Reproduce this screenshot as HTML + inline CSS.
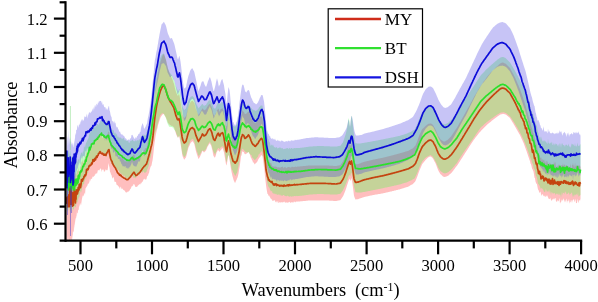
<!DOCTYPE html>
<html><head><meta charset="utf-8"><title>Absorbance spectra</title>
<style>html,body{margin:0;padding:0;background:#fff}svg{display:block}</style></head>
<body>
<svg width="598" height="302" viewBox="0 0 598 302">
<rect width="598" height="302" fill="#fff"/>
<g stroke="none">
<path d="M66.5,183.4 L66.8,178.8 L67.0,177.7 L67.2,171.2 L67.5,176.7 L67.8,176.5 L68.0,177.5 L68.2,175.9 L68.5,177.9 L68.8,176.7 L69.0,174.3 L69.2,180.9 L69.5,181.0 L69.8,183.4 L70.0,178.8 L70.2,177.6 L70.5,177.2 L70.8,174.6 L71.0,181.3 L71.2,176.0 L71.5,175.9 L71.8,178.3 L72.0,182.4 L72.2,179.5 L72.5,176.5 L72.8,177.3 L73.0,180.5 L73.2,178.4 L73.5,176.9 L73.8,177.9 L74.0,180.0 L74.2,182.6 L74.5,175.2 L74.8,176.4 L75.0,175.8 L75.2,171.8 L75.5,174.6 L75.8,173.9 L76.0,178.0 L76.2,174.8 L76.5,171.2 L76.8,175.5 L77.0,172.9 L77.2,169.6 L77.5,171.4 L77.8,171.0 L78.0,169.9 L78.2,171.2 L78.5,166.3 L78.8,169.7 L79.0,171.7 L79.2,171.0 L79.5,171.0 L79.8,170.6 L80.0,170.9 L80.5,165.1 L81.0,167.5 L81.5,161.3 L82.0,162.2 L82.5,158.9 L83.0,162.9 L83.5,162.4 L84.0,158.9 L84.5,161.0 L85.0,156.2 L85.5,156.2 L86.0,154.8 L86.5,151.7 L87.0,152.7 L87.5,153.5 L88.0,148.4 L88.5,150.2 L89.0,148.3 L89.5,150.0 L90.0,147.9 L90.5,147.5 L91.0,146.9 L91.5,145.8 L92.0,143.2 L92.5,145.9 L93.0,142.1 L93.5,143.3 L94.0,143.1 L94.5,140.9 L95.0,141.5 L95.5,142.1 L96.0,140.2 L96.5,138.7 L97.0,135.8 L97.5,136.7 L98.0,136.3 L98.5,135.6 L99.0,134.2 L99.5,134.9 L100.0,133.3 L100.5,134.2 L101.0,135.5 L101.5,134.3 L102.0,135.4 L102.5,138.3 L103.0,137.2 L103.5,135.1 L104.0,136.6 L104.5,137.6 L105.0,138.3 L105.5,136.8 L106.0,135.8 L106.5,135.2 L107.0,136.0 L107.5,134.5 L108.0,132.5 L108.5,131.6 L109.0,131.8 L109.5,135.8 L110.0,137.3 L110.5,140.4 L111.0,142.1 L111.5,143.1 L112.0,143.1 L112.5,146.4 L113.0,145.3 L113.5,147.3 L114.0,147.1 L114.5,147.1 L115.0,149.9 L115.5,150.9 L116.0,151.4 L116.5,152.7 L117.0,152.8 L117.5,153.6 L118.0,155.1 L118.5,157.6 L119.0,156.9 L119.5,156.1 L120.0,157.4 L120.5,156.9 L121.0,157.3 L121.5,158.8 L122.0,158.0 L122.5,157.3 L123.0,158.4 L123.5,159.6 L124.0,160.0 L124.5,161.4 L125.0,159.9 L125.5,161.4 L126.0,161.4 L126.5,161.2 L127.0,162.3 L127.5,162.3 L128.0,160.8 L128.5,161.9 L129.0,159.5 L129.5,160.0 L130.0,159.5 L130.5,159.3 L131.0,157.9 L131.5,157.9 L132.0,157.2 L132.5,157.4 L133.0,155.3 L133.5,155.3 L134.0,154.7 L134.5,154.8 L135.0,158.7 L135.5,157.6 L136.0,157.5 L136.5,159.5 L137.0,157.2 L137.5,157.9 L138.0,157.8 L138.5,156.3 L139.0,156.1 L139.5,155.6 L140.0,155.5 L140.5,153.8 L141.0,153.4 L141.5,153.5 L142.0,153.6 L142.5,152.6 L143.0,152.6 L143.5,151.3 L144.0,150.1 L144.5,149.9 L145.0,148.2 L145.5,148.5 L146.0,148.0 L146.5,148.0 L147.0,146.1 L147.5,143.3 L148.0,141.1 L148.5,138.4 L149.0,137.1 L149.5,135.0 L150.0,132.8 L150.5,129.8 L151.0,129.1 L151.5,126.3 L152.0,123.1 L152.5,118.8 L153.0,114.5 L153.5,109.0 L154.0,103.2 L154.5,97.7 L155.0,93.2 L155.5,89.6 L156.0,85.6 L156.5,81.4 L157.0,78.5 L157.5,75.5 L158.0,72.7 L158.5,70.6 L159.0,67.9 L159.5,66.1 L160.0,63.6 L160.5,61.4 L161.0,60.1 L161.5,58.5 L162.0,57.1 L162.5,55.5 L163.0,54.9 L163.5,54.4 L164.0,53.7 L164.5,55.6 L165.0,57.0 L165.5,58.8 L166.0,59.8 L166.5,62.3 L167.0,64.6 L167.5,66.6 L168.0,69.0 L168.5,70.2 L169.0,71.4 L169.5,72.8 L170.0,74.4 L170.5,75.3 L171.0,76.4 L171.5,77.4 L172.0,78.5 L172.5,79.6 L173.0,81.0 L173.5,82.7 L174.0,83.8 L174.5,86.0 L175.0,88.3 L175.5,90.2 L176.0,91.8 L176.5,93.2 L177.0,94.3 L177.5,95.4 L178.0,95.7 L178.5,94.6 L179.0,94.1 L179.5,95.6 L180.0,98.3 L180.5,101.2 L181.0,104.6 L181.5,108.1 L182.0,112.0 L182.5,114.3 L183.0,115.4 L183.5,116.7 L184.0,117.7 L184.5,117.9 L185.0,117.2 L185.5,116.7 L186.0,115.7 L186.5,114.0 L187.0,111.9 L187.5,109.7 L188.0,108.0 L188.5,106.3 L189.0,105.5 L189.5,104.3 L190.0,103.2 L190.5,102.1 L191.0,101.7 L191.5,101.0 L192.0,100.8 L192.5,100.7 L193.0,101.3 L193.5,101.8 L194.0,102.4 L194.5,103.3 L195.0,105.5 L195.5,107.4 L196.0,109.0 L196.5,110.3 L197.0,111.6 L197.5,112.9 L198.0,114.1 L198.5,115.0 L199.0,114.3 L199.5,113.4 L200.0,112.6 L200.5,111.8 L201.0,111.1 L201.5,110.0 L202.0,109.3 L202.5,108.3 L203.0,108.7 L203.5,109.4 L204.0,110.2 L204.5,110.2 L205.0,109.7 L205.5,109.4 L206.0,109.2 L206.5,108.3 L207.0,107.2 L207.5,106.6 L208.0,105.4 L208.5,104.9 L209.0,104.2 L209.5,103.9 L210.0,103.7 L210.5,104.2 L211.0,105.9 L211.5,106.4 L212.0,108.4 L212.5,110.0 L213.0,113.0 L213.5,114.5 L214.0,115.3 L214.5,115.6 L215.0,115.2 L215.5,113.7 L216.0,112.8 L216.5,111.7 L217.0,110.1 L217.5,109.7 L218.0,109.0 L218.5,108.5 L219.0,110.3 L219.5,112.0 L220.0,110.4 L220.5,109.2 L221.0,109.3 L221.5,108.7 L222.0,108.5 L222.5,107.9 L223.0,109.7 L223.5,110.2 L224.0,113.7 L224.5,117.1 L225.0,120.1 L225.5,122.1 L226.0,125.8 L226.5,126.5 L227.0,125.0 L227.5,122.2 L228.0,118.8 L228.5,117.3 L229.0,119.3 L229.5,121.7 L230.0,124.0 L230.5,126.9 L231.0,129.0 L231.5,131.2 L232.0,133.1 L232.5,135.1 L233.0,136.7 L233.5,138.0 L234.0,137.6 L234.5,138.4 L235.0,139.1 L235.5,138.5 L236.0,138.1 L236.5,137.1 L237.0,137.1 L237.5,134.7 L238.0,133.1 L238.5,130.5 L239.0,128.9 L239.5,124.9 L240.0,122.4 L240.5,118.9 L241.0,116.0 L241.5,114.3 L242.0,111.7 L242.5,110.3 L243.0,110.9 L243.5,111.9 L244.0,111.8 L244.5,113.6 L245.0,114.1 L245.5,114.0 L246.0,113.8 L246.5,113.6 L247.0,112.8 L247.5,112.3 L248.0,111.9 L248.5,111.6 L249.0,111.5 L249.5,113.0 L250.0,114.2 L250.5,116.2 L251.0,118.1 L251.5,118.6 L252.0,119.2 L252.5,119.7 L253.0,121.0 L253.5,121.8 L254.0,122.5 L254.5,122.3 L255.0,123.2 L255.5,123.1 L256.0,123.0 L256.5,122.0 L257.0,121.2 L257.5,120.4 L258.0,119.7 L258.5,118.7 L259.0,118.4 L259.5,117.9 L260.0,117.1 L260.5,116.9 L261.0,116.0 L261.5,116.6 L262.0,117.1 L262.5,118.0 L263.0,122.1 L263.5,125.2 L264.0,128.4 L264.5,134.3 L265.0,139.1 L265.5,143.2 L266.0,148.4 L266.5,152.8 L267.0,156.5 L267.5,157.2 L268.0,159.4 L268.5,160.6 L269.0,160.1 L269.5,162.0 L270.0,162.8 L270.5,163.5 L271.0,162.7 L271.5,164.0 L272.0,165.4 L272.5,166.0 L273.0,166.8 L273.5,165.8 L274.0,167.3 L274.5,166.7 L275.0,165.5 L275.5,167.0 L276.0,166.4 L276.5,167.1 L277.0,166.8 L277.5,167.7 L278.0,167.2 L278.5,167.0 L279.0,167.9 L279.5,167.5 L280.0,167.1 L280.5,168.1 L281.0,167.1 L281.5,167.0 L282.0,167.1 L282.5,166.6 L283.0,167.1 L283.5,168.4 L284.0,166.9 L284.5,167.4 L285.0,166.8 L285.5,167.1 L286.0,168.2 L286.5,167.9 L287.0,167.2 L287.5,167.5 L288.0,167.1 L288.5,167.1 L289.0,167.0 L289.5,166.9 L290.0,167.5 L290.5,167.5 L291.0,167.4 L291.5,167.1 L292.0,166.6 L292.5,167.1 L293.0,166.7 L293.5,167.3 L294.0,167.1 L294.5,167.1 L295.0,166.8 L295.5,166.4 L296.0,166.9 L296.5,166.9 L297.0,166.5 L297.5,166.6 L298.0,166.7 L298.5,166.5 L299.0,166.6 L299.5,166.4 L300.0,166.4 L300.5,166.3 L301.0,166.3 L301.5,166.3 L302.0,166.2 L302.5,166.2 L303.0,166.1 L303.5,166.1 L304.0,166.0 L304.5,166.0 L305.0,165.9 L305.5,165.9 L306.0,165.8 L306.5,165.8 L307.0,165.7 L307.5,165.7 L308.0,165.6 L308.5,165.6 L309.0,165.5 L309.5,165.5 L310.0,165.4 L310.5,165.4 L311.0,165.4 L311.5,165.4 L312.0,165.4 L312.5,165.4 L313.0,165.4 L313.5,165.4 L314.0,165.4 L314.5,165.4 L315.0,165.4 L315.5,165.4 L316.0,165.4 L316.5,165.4 L317.0,165.4 L317.5,165.4 L318.0,165.4 L318.5,165.4 L319.0,165.4 L319.5,165.4 L320.0,165.4 L320.5,165.4 L321.0,165.4 L321.5,165.4 L322.0,165.4 L322.5,165.4 L323.0,165.4 L323.5,165.4 L324.0,165.4 L324.5,165.4 L325.0,165.4 L325.5,165.4 L326.0,165.5 L326.5,165.5 L327.0,165.5 L327.5,165.5 L328.0,165.6 L328.5,165.6 L329.0,165.6 L329.5,165.7 L330.0,165.7 L330.5,165.7 L331.0,165.7 L331.5,165.8 L332.0,165.8 L332.5,165.8 L333.0,165.8 L333.5,165.9 L334.0,165.9 L334.5,165.9 L335.0,166.0 L335.5,166.0 L336.0,166.0 L336.5,165.9 L337.0,165.8 L337.5,165.7 L338.0,165.6 L338.5,165.5 L339.0,165.4 L339.5,165.3 L340.0,165.2 L340.5,165.1 L341.0,164.3 L341.5,163.5 L342.0,162.7 L342.5,162.0 L343.0,161.2 L343.5,160.2 L344.0,159.0 L344.5,157.7 L345.0,156.4 L345.5,155.2 L346.0,153.7 L346.5,152.1 L347.0,150.6 L347.5,149.1 L348.0,147.6 L348.5,146.0 L349.0,144.7 L349.5,143.5 L350.0,144.9 L350.5,146.1 L351.0,144.0 L351.5,143.0 L352.0,145.9 L352.5,148.8 L353.0,152.8 L353.5,156.7 L354.0,160.7 L354.5,162.1 L355.0,163.5 L355.5,164.4 L356.0,164.3 L356.5,164.3 L357.0,164.2 L357.5,164.2 L358.0,164.1 L358.5,163.9 L359.0,163.7 L359.5,163.5 L360.0,163.4 L360.5,163.2 L361.0,163.0 L361.5,162.8 L362.0,162.6 L362.5,162.4 L363.0,162.2 L363.5,162.1 L364.0,161.9 L364.5,161.7 L365.0,161.6 L365.5,161.5 L366.0,161.4 L366.5,161.2 L367.0,161.1 L367.5,161.0 L368.0,160.9 L368.5,160.8 L369.0,160.7 L369.5,160.5 L370.0,160.4 L370.5,160.3 L371.0,160.2 L371.5,160.1 L372.0,159.9 L372.5,159.8 L373.0,159.7 L373.5,159.6 L374.0,159.5 L374.5,159.4 L375.0,159.3 L375.5,159.2 L376.0,159.1 L376.5,159.0 L377.0,158.9 L377.5,158.8 L378.0,158.7 L378.5,158.6 L379.0,158.5 L379.5,158.4 L380.0,158.3 L380.5,158.2 L381.0,158.1 L381.5,158.0 L382.0,157.9 L382.5,157.8 L383.0,157.7 L383.5,157.6 L384.0,157.5 L384.5,157.3 L385.0,157.2 L385.5,157.1 L386.0,157.0 L386.5,156.8 L387.0,156.7 L387.5,156.6 L388.0,156.5 L388.5,156.3 L389.0,156.2 L389.5,156.1 L390.0,156.0 L390.5,155.8 L391.0,155.7 L391.5,155.6 L392.0,155.4 L392.5,155.3 L393.0,155.2 L393.5,155.0 L394.0,154.9 L394.5,154.8 L395.0,154.6 L395.5,154.5 L396.0,154.4 L396.5,154.2 L397.0,154.1 L397.5,154.0 L398.0,153.8 L398.5,153.7 L399.0,153.5 L399.5,153.4 L400.0,153.3 L400.5,153.1 L401.0,153.0 L401.5,152.8 L402.0,152.7 L402.5,152.5 L403.0,152.4 L403.5,152.2 L404.0,152.1 L404.5,151.9 L405.0,151.8 L405.5,151.6 L406.0,151.5 L406.5,151.3 L407.0,151.2 L407.5,151.0 L408.0,150.9 L408.5,150.7 L409.0,150.4 L409.5,150.1 L410.0,149.9 L410.5,149.6 L411.0,149.3 L411.5,149.1 L412.0,148.8 L412.5,148.5 L413.0,148.2 L413.5,147.7 L414.0,147.1 L414.5,146.6 L415.0,146.0 L415.5,145.5 L416.0,144.2 L416.5,143.0 L417.0,141.8 L417.5,140.5 L418.0,139.1 L418.5,137.6 L419.0,136.2 L419.5,134.8 L420.0,133.7 L420.5,132.7 L421.0,131.7 L421.5,130.6 L422.0,129.6 L422.5,128.8 L423.0,128.4 L423.5,127.9 L424.0,127.4 L424.5,126.9 L425.0,126.4 L425.5,125.9 L426.0,125.5 L426.5,125.2 L427.0,124.8 L427.5,124.5 L428.0,124.1 L428.5,123.8 L429.0,123.8 L429.5,123.7 L430.0,123.6 L430.5,123.4 L431.0,123.5 L431.5,123.8 L432.0,124.2 L432.5,124.6 L433.0,124.9 L433.5,125.8 L434.0,126.7 L434.5,127.6 L435.0,128.5 L435.5,129.4 L436.0,130.5 L436.5,131.7 L437.0,132.9 L437.5,134.2 L438.0,135.4 L438.5,136.4 L439.0,137.1 L439.5,137.9 L440.0,138.6 L440.5,139.4 L441.0,139.7 L441.5,140.1 L442.0,140.4 L442.5,140.8 L443.0,141.1 L443.5,141.4 L444.0,141.4 L444.5,141.4 L445.0,141.4 L445.5,141.1 L446.0,140.8 L446.5,140.5 L447.0,140.2 L447.5,139.9 L448.0,139.6 L448.5,139.1 L449.0,138.5 L449.5,138.0 L450.0,137.5 L450.5,136.9 L451.0,136.4 L451.5,135.8 L452.0,135.1 L452.5,134.3 L453.0,133.6 L453.5,132.8 L454.0,132.0 L454.5,131.3 L455.0,130.5 L455.5,129.8 L456.0,129.0 L456.5,128.2 L457.0,127.5 L457.5,126.7 L458.0,125.8 L458.5,124.9 L459.0,124.0 L459.5,123.1 L460.0,122.2 L460.5,121.4 L461.0,120.5 L461.5,119.6 L462.0,118.7 L462.5,117.8 L463.0,116.9 L463.5,116.0 L464.0,115.2 L464.5,114.3 L465.0,113.4 L465.5,112.5 L466.0,111.6 L466.5,110.7 L467.0,109.8 L467.5,109.0 L468.0,108.1 L468.5,107.2 L469.0,106.3 L469.5,105.4 L470.0,104.5 L470.5,103.6 L471.0,102.6 L471.5,101.7 L472.0,100.7 L472.5,99.8 L473.0,98.9 L473.5,97.9 L474.0,97.0 L474.5,96.1 L475.0,95.3 L475.5,94.4 L476.0,93.6 L476.5,92.7 L477.0,91.9 L477.5,91.0 L478.0,90.2 L478.5,89.3 L479.0,88.5 L479.5,87.6 L480.0,86.9 L480.5,86.2 L481.0,85.4 L481.5,84.7 L482.0,84.0 L482.5,83.3 L483.0,82.5 L483.5,81.8 L484.0,81.1 L484.5,80.4 L485.0,79.7 L485.5,79.0 L486.0,78.3 L486.5,77.6 L487.0,76.9 L487.5,76.3 L488.0,75.7 L488.5,75.1 L489.0,74.5 L489.5,73.9 L490.0,73.3 L490.5,72.8 L491.0,72.3 L491.5,71.7 L492.0,71.2 L492.5,70.7 L493.0,70.2 L493.5,69.7 L494.0,69.2 L494.5,68.8 L495.0,68.3 L495.5,67.8 L496.0,67.3 L496.5,66.8 L497.0,66.3 L497.5,65.9 L498.0,65.4 L498.5,65.0 L499.0,64.6 L499.5,64.1 L500.0,63.7 L500.5,63.2 L501.0,63.0 L501.5,62.8 L502.0,62.7 L502.5,62.6 L503.0,62.5 L503.5,62.8 L504.0,63.0 L504.5,63.2 L505.0,63.4 L505.5,63.6 L506.0,64.0 L506.5,64.5 L507.0,65.0 L507.5,65.5 L508.0,66.0 L508.5,66.5 L509.0,67.0 L509.5,67.5 L510.0,68.1 L510.5,69.0 L511.0,69.9 L511.5,70.9 L512.0,71.8 L512.5,72.7 L513.0,73.6 L513.5,74.5 L514.0,75.5 L514.5,76.4 L515.0,77.4 L515.5,78.6 L516.0,79.8 L516.5,81.0 L517.0,82.1 L517.5,83.3 L518.0,84.5 L518.5,85.6 L519.0,86.8 L519.5,87.9 L520.0,89.1 L520.5,90.5 L521.0,91.9 L521.5,93.3 L522.0,94.7 L522.5,96.1 L523.0,97.5 L523.5,98.9 L524.0,100.5 L524.5,102.2 L525.0,103.9 L525.5,105.6 L526.0,107.3 L526.5,109.0 L527.0,110.7 L527.5,112.4 L528.0,114.2 L528.5,116.0 L529.0,117.6 L529.5,119.5 L530.0,121.5 L530.5,122.8 L531.0,125.4 L531.5,127.1 L532.0,128.2 L532.5,130.7 L533.0,133.0 L533.5,133.0 L534.0,136.1 L534.5,137.4 L535.0,139.2 L535.5,142.4 L536.0,143.6 L536.5,144.8 L537.0,146.4 L537.5,149.5 L538.0,152.0 L538.5,152.9 L539.0,153.9 L539.5,155.0 L540.0,157.9 L540.5,157.8 L541.0,156.9 L541.5,158.5 L542.0,161.2 L542.5,159.0 L543.0,159.6 L543.5,160.5 L544.0,159.4 L544.5,162.6 L545.0,158.6 L545.5,164.1 L546.0,161.5 L546.5,160.5 L547.0,162.9 L547.5,160.3 L548.0,163.7 L548.5,164.2 L549.0,162.5 L549.5,162.9 L550.0,165.0 L550.5,162.9 L551.0,164.1 L551.5,164.7 L552.0,166.5 L552.5,163.7 L553.0,164.6 L553.5,166.3 L554.0,161.1 L554.5,164.6 L555.0,162.3 L555.5,162.5 L556.0,168.1 L556.5,165.8 L557.0,167.7 L557.5,165.2 L558.0,166.3 L558.5,164.8 L559.0,164.6 L559.5,165.3 L560.0,165.5 L560.5,167.5 L561.0,164.9 L561.5,165.7 L562.0,164.8 L562.5,165.3 L563.0,163.2 L563.5,166.6 L564.0,164.2 L564.5,165.0 L565.0,164.6 L565.5,166.4 L566.0,165.8 L566.5,165.1 L567.0,165.4 L567.5,165.7 L568.0,166.3 L568.5,166.0 L569.0,167.2 L569.5,167.7 L570.0,166.3 L570.5,163.6 L571.0,168.0 L571.5,168.7 L572.0,165.1 L572.5,165.0 L573.0,162.7 L573.5,166.8 L574.0,164.3 L574.5,168.4 L575.0,162.2 L575.5,165.9 L576.0,166.8 L576.5,165.3 L577.0,164.8 L577.5,166.3 L578.0,165.2 L578.5,165.5 L579.0,166.0 L579.5,165.3 L580.0,165.8 L580.5,167.2 L580.5,198.5 L580.0,201.0 L579.5,200.2 L579.0,199.8 L578.5,203.2 L578.0,201.4 L577.5,198.6 L577.0,202.9 L576.5,203.0 L576.0,203.3 L575.5,198.5 L575.0,201.0 L574.5,202.2 L574.0,199.1 L573.5,199.4 L573.0,199.9 L572.5,200.4 L572.0,202.9 L571.5,200.8 L571.0,199.7 L570.5,202.5 L570.0,201.7 L569.5,203.8 L569.0,198.7 L568.5,200.6 L568.0,201.6 L567.5,200.6 L567.0,203.3 L566.5,198.5 L566.0,199.7 L565.5,201.1 L565.0,202.4 L564.5,201.0 L564.0,199.5 L563.5,198.3 L563.0,200.7 L562.5,200.5 L562.0,199.2 L561.5,200.5 L561.0,202.3 L560.5,202.3 L560.0,203.8 L559.5,197.7 L559.0,200.1 L558.5,201.5 L558.0,200.8 L557.5,200.1 L557.0,202.0 L556.5,201.5 L556.0,201.3 L555.5,197.9 L555.0,198.0 L554.5,199.7 L554.0,198.1 L553.5,199.2 L553.0,199.6 L552.5,198.9 L552.0,200.5 L551.5,200.6 L551.0,200.4 L550.5,197.4 L550.0,199.2 L549.5,198.7 L549.0,199.1 L548.5,198.5 L548.0,197.2 L547.5,196.3 L547.0,195.1 L546.5,196.2 L546.0,196.5 L545.5,197.2 L545.0,195.1 L544.5,196.6 L544.0,196.3 L543.5,195.9 L543.0,194.6 L542.5,194.3 L542.0,194.4 L541.5,196.1 L541.0,194.0 L540.5,191.6 L540.0,192.3 L539.5,192.9 L539.0,191.5 L538.5,189.9 L538.0,189.4 L537.5,187.0 L537.0,184.2 L536.5,183.7 L536.0,183.0 L535.5,181.5 L535.0,177.9 L534.5,177.7 L534.0,174.2 L533.5,171.5 L533.0,170.5 L532.5,169.3 L532.0,168.4 L531.5,166.1 L531.0,164.3 L530.5,163.5 L530.0,161.0 L529.5,159.9 L529.0,158.3 L528.5,157.0 L528.0,155.4 L527.5,153.9 L527.0,152.5 L526.5,151.1 L526.0,149.7 L525.5,148.3 L525.0,146.9 L524.5,145.5 L524.0,144.1 L523.5,142.8 L523.0,141.7 L522.5,140.6 L522.0,139.5 L521.5,138.4 L521.0,137.3 L520.5,136.2 L520.0,135.1 L519.5,134.2 L519.0,133.4 L518.5,132.5 L518.0,131.7 L517.5,130.8 L517.0,129.9 L516.5,129.1 L516.0,128.2 L515.5,127.3 L515.0,126.4 L514.5,125.5 L514.0,124.7 L513.5,123.8 L513.0,123.0 L512.5,122.2 L512.0,121.4 L511.5,120.5 L511.0,119.7 L510.5,118.9 L510.0,118.0 L509.5,117.6 L509.0,117.2 L508.5,116.8 L508.0,116.3 L507.5,115.9 L507.0,115.5 L506.5,115.1 L506.0,114.7 L505.5,114.5 L505.0,114.3 L504.5,114.2 L504.0,114.1 L503.5,114.0 L503.0,113.8 L502.5,114.0 L502.0,114.2 L501.5,114.2 L501.0,114.3 L500.5,114.4 L500.0,114.8 L499.5,115.1 L499.0,115.4 L498.5,115.8 L498.0,116.1 L497.5,116.4 L497.0,116.8 L496.5,117.2 L496.0,117.6 L495.5,117.9 L495.0,118.3 L494.5,118.7 L494.0,119.1 L493.5,119.5 L493.0,119.8 L492.5,120.2 L492.0,120.6 L491.5,121.0 L491.0,121.5 L490.5,121.9 L490.0,122.3 L489.5,122.7 L489.0,123.1 L488.5,123.5 L488.0,123.9 L487.5,124.3 L487.0,124.7 L486.5,125.2 L486.0,125.7 L485.5,126.2 L485.0,126.7 L484.5,127.2 L484.0,127.7 L483.5,128.2 L483.0,128.7 L482.5,129.3 L482.0,129.8 L481.5,130.3 L481.0,130.8 L480.5,131.4 L480.0,131.9 L479.5,132.4 L479.0,133.1 L478.5,133.7 L478.0,134.4 L477.5,135.0 L477.0,135.7 L476.5,136.3 L476.0,137.0 L475.5,137.6 L475.0,138.3 L474.5,138.9 L474.0,139.6 L473.5,140.3 L473.0,141.1 L472.5,141.8 L472.0,142.5 L471.5,143.3 L471.0,144.0 L470.5,144.8 L470.0,145.5 L469.5,146.3 L469.0,147.1 L468.5,147.9 L468.0,148.6 L467.5,149.4 L467.0,150.2 L466.5,151.0 L466.0,151.8 L465.5,152.5 L465.0,153.3 L464.5,154.1 L464.0,154.9 L463.5,155.6 L463.0,156.4 L462.5,157.2 L462.0,158.0 L461.5,158.7 L461.0,159.5 L460.5,160.3 L460.0,161.1 L459.5,161.9 L459.0,162.6 L458.5,163.4 L458.0,164.2 L457.5,165.0 L457.0,165.7 L456.5,166.3 L456.0,167.0 L455.5,167.6 L455.0,168.3 L454.5,168.9 L454.0,169.6 L453.5,170.2 L453.0,170.9 L452.5,171.5 L452.0,172.2 L451.5,172.8 L451.0,173.3 L450.5,173.7 L450.0,174.1 L449.5,174.6 L449.0,175.0 L448.5,175.4 L448.0,175.8 L447.5,176.0 L447.0,176.2 L446.5,176.4 L446.0,176.6 L445.5,176.8 L445.0,177.0 L444.5,176.9 L444.0,176.8 L443.5,176.7 L443.0,176.4 L442.5,176.0 L442.0,175.5 L441.5,175.1 L441.0,174.6 L440.5,174.2 L440.0,173.4 L439.5,172.5 L439.0,171.7 L438.5,170.8 L438.0,169.8 L437.5,168.5 L437.0,167.2 L436.5,165.8 L436.0,164.5 L435.5,163.3 L435.0,162.3 L434.5,161.4 L434.0,160.4 L433.5,159.4 L433.0,158.5 L432.5,158.0 L432.0,157.6 L431.5,157.1 L431.0,156.7 L430.5,156.5 L430.0,156.6 L429.5,156.8 L429.0,157.0 L428.5,157.2 L428.0,157.6 L427.5,158.1 L427.0,158.6 L426.5,159.1 L426.0,159.5 L425.5,160.0 L425.0,160.7 L424.5,161.3 L424.0,161.9 L423.5,162.5 L423.0,163.1 L422.5,163.7 L422.0,164.6 L421.5,165.8 L421.0,166.9 L420.5,168.1 L420.0,169.2 L419.5,170.3 L419.0,171.7 L418.5,173.1 L418.0,174.6 L417.5,176.1 L417.0,177.3 L416.5,178.6 L416.0,179.8 L415.5,181.1 L415.0,181.7 L414.5,182.2 L414.0,182.8 L413.5,183.3 L413.0,183.9 L412.5,184.2 L412.0,184.5 L411.5,184.8 L411.0,185.1 L410.5,185.3 L410.0,185.6 L409.5,185.9 L409.0,186.2 L408.5,186.5 L408.0,186.7 L407.5,186.9 L407.0,187.0 L406.5,187.2 L406.0,187.3 L405.5,187.5 L405.0,187.7 L404.5,187.8 L404.0,188.0 L403.5,188.2 L403.0,188.3 L402.5,188.5 L402.0,188.6 L401.5,188.8 L401.0,189.0 L400.5,189.1 L400.0,189.3 L399.5,189.4 L399.0,189.5 L398.5,189.6 L398.0,189.8 L397.5,189.9 L397.0,190.0 L396.5,190.1 L396.0,190.3 L395.5,190.4 L395.0,190.5 L394.5,190.6 L394.0,190.8 L393.5,190.9 L393.0,191.0 L392.5,191.1 L392.0,191.3 L391.5,191.4 L391.0,191.5 L390.5,191.6 L390.0,191.7 L389.5,191.8 L389.0,192.0 L388.5,192.1 L388.0,192.2 L387.5,192.3 L387.0,192.4 L386.5,192.5 L386.0,192.6 L385.5,192.7 L385.0,192.9 L384.5,193.0 L384.0,193.1 L383.5,193.2 L383.0,193.3 L382.5,193.4 L382.0,193.5 L381.5,193.6 L381.0,193.7 L380.5,193.8 L380.0,193.9 L379.5,193.9 L379.0,194.0 L378.5,194.1 L378.0,194.2 L377.5,194.3 L377.0,194.4 L376.5,194.5 L376.0,194.6 L375.5,194.6 L375.0,194.7 L374.5,194.8 L374.0,194.9 L373.5,195.0 L373.0,195.1 L372.5,195.2 L372.0,195.3 L371.5,195.4 L371.0,195.5 L370.5,195.6 L370.0,195.7 L369.5,195.8 L369.0,196.0 L368.5,196.1 L368.0,196.2 L367.5,196.3 L367.0,196.4 L366.5,196.5 L366.0,196.6 L365.5,196.7 L365.0,196.8 L364.5,196.9 L364.0,197.1 L363.5,197.2 L363.0,197.4 L362.5,197.6 L362.0,197.8 L361.5,197.9 L361.0,198.1 L360.5,198.3 L360.0,198.5 L359.5,198.6 L359.0,198.8 L358.5,199.0 L358.0,199.2 L357.5,199.2 L357.0,199.3 L356.5,199.3 L356.0,199.4 L355.5,199.4 L355.0,198.6 L354.5,197.2 L354.0,195.8 L353.5,191.8 L353.0,187.8 L352.5,183.9 L352.0,180.9 L351.5,178.0 L351.0,179.1 L350.5,181.1 L350.0,179.9 L349.5,178.6 L349.0,179.7 L348.5,181.0 L348.0,182.6 L347.5,184.1 L347.0,185.6 L346.5,187.2 L346.0,188.7 L345.5,190.2 L345.0,191.4 L344.5,192.7 L344.0,194.0 L343.5,195.2 L343.0,196.2 L342.5,197.0 L342.0,197.7 L341.5,198.5 L341.0,199.3 L340.5,200.1 L340.0,200.2 L339.5,200.3 L339.0,200.4 L338.5,200.5 L338.0,200.6 L337.5,200.7 L337.0,200.8 L336.5,200.9 L336.0,201.0 L335.5,201.0 L335.0,201.0 L334.5,200.9 L334.0,200.9 L333.5,200.9 L333.0,200.8 L332.5,200.8 L332.0,200.8 L331.5,200.8 L331.0,200.7 L330.5,200.7 L330.0,200.7 L329.5,200.7 L329.0,200.6 L328.5,200.6 L328.0,200.6 L327.5,200.5 L327.0,200.5 L326.5,200.5 L326.0,200.5 L325.5,200.4 L325.0,200.4 L324.5,200.4 L324.0,200.4 L323.5,200.4 L323.0,200.4 L322.5,200.4 L322.0,200.4 L321.5,200.4 L321.0,200.4 L320.5,200.4 L320.0,200.4 L319.5,200.4 L319.0,200.4 L318.5,200.4 L318.0,200.4 L317.5,200.4 L317.0,200.4 L316.5,200.4 L316.0,200.4 L315.5,200.4 L315.0,200.4 L314.5,200.4 L314.0,200.4 L313.5,200.4 L313.0,200.4 L312.5,200.4 L312.0,200.4 L311.5,200.4 L311.0,200.4 L310.5,200.4 L310.0,200.4 L309.5,200.5 L309.0,200.5 L308.5,200.6 L308.0,200.6 L307.5,200.7 L307.0,200.7 L306.5,200.8 L306.0,200.8 L305.5,200.9 L305.0,200.9 L304.5,201.0 L304.0,201.0 L303.5,201.1 L303.0,201.1 L302.5,201.2 L302.0,201.2 L301.5,201.3 L301.0,201.3 L300.5,201.3 L300.0,201.4 L299.5,201.5 L299.0,201.5 L298.5,201.4 L298.0,201.6 L297.5,201.5 L297.0,201.7 L296.5,201.5 L296.0,201.6 L295.5,202.2 L295.0,202.2 L294.5,201.8 L294.0,201.3 L293.5,202.4 L293.0,202.5 L292.5,202.2 L292.0,202.4 L291.5,201.9 L291.0,202.7 L290.5,203.0 L290.0,201.9 L289.5,201.8 L289.0,202.6 L288.5,202.5 L288.0,202.0 L287.5,202.9 L287.0,202.6 L286.5,202.3 L286.0,202.7 L285.5,202.6 L285.0,202.6 L284.5,201.2 L284.0,202.8 L283.5,201.8 L283.0,202.1 L282.5,202.5 L282.0,202.6 L281.5,202.3 L281.0,202.1 L280.5,203.0 L280.0,201.8 L279.5,202.3 L279.0,203.1 L278.5,202.9 L278.0,200.7 L277.5,201.8 L277.0,203.0 L276.5,201.0 L276.0,202.1 L275.5,202.3 L275.0,200.4 L274.5,200.5 L274.0,200.1 L273.5,200.7 L273.0,201.1 L272.5,201.0 L272.0,199.2 L271.5,199.6 L271.0,198.5 L270.5,198.4 L270.0,197.1 L269.5,196.6 L269.0,194.9 L268.5,196.2 L268.0,194.1 L267.5,193.9 L267.0,191.5 L266.5,188.6 L266.0,185.0 L265.5,180.7 L265.0,176.7 L264.5,170.0 L264.0,167.4 L263.5,163.0 L263.0,159.4 L262.5,156.2 L262.0,155.9 L261.5,155.3 L261.0,154.8 L260.5,157.0 L260.0,156.2 L259.5,157.8 L259.0,158.2 L258.5,158.9 L258.0,160.1 L257.5,161.3 L257.0,162.1 L256.5,162.7 L256.0,162.7 L255.5,163.4 L255.0,164.2 L254.5,164.2 L254.0,163.1 L253.5,162.3 L253.0,162.7 L252.5,160.4 L252.0,160.2 L251.5,158.6 L251.0,158.1 L250.5,156.5 L250.0,154.7 L249.5,153.5 L249.0,152.7 L248.5,152.0 L248.0,151.9 L247.5,152.8 L247.0,153.3 L246.5,153.5 L246.0,154.2 L245.5,153.9 L245.0,154.3 L244.5,153.8 L244.0,152.4 L243.5,151.8 L243.0,152.0 L242.5,151.0 L242.0,152.6 L241.5,155.2 L241.0,156.3 L240.5,160.3 L240.0,164.3 L239.5,167.5 L239.0,170.0 L238.5,173.5 L238.0,175.8 L237.5,177.5 L237.0,178.6 L236.5,180.0 L236.0,180.8 L235.5,182.3 L235.0,182.9 L234.5,182.1 L234.0,181.0 L233.5,179.7 L233.0,177.8 L232.5,176.2 L232.0,174.0 L231.5,171.7 L231.0,169.0 L230.5,166.0 L230.0,162.5 L229.5,159.4 L229.0,156.7 L228.5,154.4 L228.0,156.8 L227.5,160.3 L227.0,162.9 L226.5,165.5 L226.0,164.2 L225.5,161.3 L225.0,158.2 L224.5,155.4 L224.0,152.6 L223.5,150.7 L223.0,149.4 L222.5,148.0 L222.0,148.2 L221.5,149.5 L221.0,149.8 L220.5,150.3 L220.0,151.2 L219.5,151.8 L219.0,151.3 L218.5,150.2 L218.0,150.4 L217.5,150.6 L217.0,152.1 L216.5,152.6 L216.0,154.8 L215.5,156.3 L215.0,157.4 L214.5,157.4 L214.0,156.4 L213.5,155.9 L213.0,153.7 L212.5,150.8 L212.0,149.0 L211.5,146.8 L211.0,145.0 L210.5,144.7 L210.0,143.1 L209.5,143.7 L209.0,144.3 L208.5,145.2 L208.0,145.8 L207.5,146.8 L207.0,148.1 L206.5,149.2 L206.0,150.5 L205.5,151.1 L205.0,151.6 L204.5,151.9 L204.0,152.5 L203.5,151.9 L203.0,151.3 L202.5,150.8 L202.0,152.1 L201.5,153.3 L201.0,154.4 L200.5,155.4 L200.0,156.7 L199.5,157.6 L199.0,158.4 L198.5,159.0 L198.0,157.6 L197.5,156.0 L197.0,154.7 L196.5,152.9 L196.0,151.6 L195.5,149.3 L195.0,146.9 L194.5,144.7 L194.0,143.3 L193.5,142.6 L193.0,141.5 L192.5,141.2 L192.0,141.5 L191.5,142.1 L191.0,142.6 L190.5,143.0 L190.0,144.3 L189.5,145.4 L189.0,146.5 L188.5,147.5 L188.0,149.2 L187.5,151.3 L187.0,153.2 L186.5,155.3 L186.0,157.3 L185.5,158.1 L185.0,158.6 L184.5,159.5 L184.0,159.4 L183.5,158.2 L183.0,157.1 L182.5,156.0 L182.0,153.3 L181.5,149.8 L181.0,146.6 L180.5,143.1 L180.0,140.4 L179.5,137.4 L179.0,136.0 L178.5,136.9 L178.0,137.4 L177.5,137.3 L177.0,136.1 L176.5,135.2 L176.0,133.7 L175.5,132.1 L175.0,130.2 L174.5,128.7 L174.0,127.3 L173.5,126.8 L173.0,126.8 L172.5,126.1 L172.0,125.8 L171.5,125.9 L171.0,125.6 L170.5,125.1 L170.0,125.4 L169.5,124.5 L169.0,124.0 L168.5,123.4 L168.0,123.0 L167.5,121.4 L167.0,120.1 L166.5,119.0 L166.0,117.7 L165.5,116.8 L165.0,115.9 L164.5,115.0 L164.0,114.2 L163.5,114.1 L163.0,114.3 L162.5,114.4 L162.0,114.9 L161.5,116.0 L161.0,116.6 L160.5,117.6 L160.0,119.1 L159.5,120.6 L159.0,122.1 L158.5,123.8 L158.0,125.1 L157.5,127.9 L157.0,129.3 L156.5,131.6 L156.0,134.1 L155.5,136.2 L155.0,140.2 L154.5,142.9 L154.0,147.4 L153.5,152.5 L153.0,157.0 L152.5,160.5 L152.0,162.6 L151.5,165.5 L151.0,166.1 L150.5,166.9 L150.0,168.8 L149.5,170.2 L149.0,173.2 L148.5,173.6 L148.0,175.7 L147.5,175.8 L147.0,176.4 L146.5,179.1 L146.0,179.8 L145.5,179.4 L145.0,179.2 L144.5,178.6 L144.0,179.9 L143.5,179.1 L143.0,181.0 L142.5,181.9 L142.0,181.5 L141.5,183.7 L141.0,182.6 L140.5,184.1 L140.0,184.4 L139.5,183.9 L139.0,184.6 L138.5,185.2 L138.0,185.3 L137.5,186.6 L137.0,186.6 L136.5,187.1 L136.0,187.1 L135.5,187.0 L135.0,186.0 L134.5,184.5 L134.0,184.2 L133.5,184.0 L133.0,185.9 L132.5,185.6 L132.0,186.7 L131.5,186.3 L131.0,188.5 L130.5,188.8 L130.0,189.6 L129.5,190.7 L129.0,190.7 L128.5,191.8 L128.0,191.5 L127.5,191.8 L127.0,192.4 L126.5,192.4 L126.0,192.3 L125.5,192.2 L125.0,191.1 L124.5,190.6 L124.0,190.2 L123.5,189.9 L123.0,189.4 L122.5,188.2 L122.0,189.3 L121.5,188.8 L121.0,187.2 L120.5,186.4 L120.0,189.0 L119.5,188.0 L119.0,186.8 L118.5,186.6 L118.0,185.7 L117.5,185.3 L117.0,184.8 L116.5,184.8 L116.0,182.1 L115.5,181.9 L115.0,181.6 L114.5,182.1 L114.0,178.8 L113.5,177.0 L113.0,177.6 L112.5,178.8 L112.0,177.0 L111.5,174.9 L111.0,174.4 L110.5,172.6 L110.0,172.0 L109.5,167.8 L109.0,165.5 L108.5,163.1 L108.0,167.5 L107.5,170.5 L107.0,169.8 L106.5,170.6 L106.0,169.6 L105.5,169.5 L105.0,171.5 L104.5,171.3 L104.0,172.1 L103.5,168.9 L103.0,170.5 L102.5,169.4 L102.0,169.4 L101.5,172.2 L101.0,168.4 L100.5,168.7 L100.0,168.6 L99.5,170.4 L99.0,170.0 L98.5,170.4 L98.0,169.8 L97.5,171.8 L97.0,173.7 L96.5,173.5 L96.0,173.1 L95.5,174.5 L95.0,174.2 L94.5,176.1 L94.0,175.9 L93.5,177.0 L93.0,176.6 L92.5,176.8 L92.0,178.7 L91.5,178.7 L91.0,178.9 L90.5,181.6 L90.0,178.3 L89.5,181.5 L89.0,183.1 L88.5,183.9 L88.0,183.3 L87.5,185.3 L87.0,186.3 L86.5,186.7 L86.0,187.8 L85.5,188.6 L85.0,195.1 L84.5,192.4 L84.0,194.3 L83.5,196.5 L83.0,195.3 L82.5,196.4 L82.0,198.5 L81.5,202.0 L81.0,205.4 L80.5,204.1 L80.0,202.8 L79.8,208.1 L79.5,203.8 L79.2,206.6 L79.0,206.3 L78.8,209.6 L78.5,210.6 L78.2,209.5 L78.0,210.3 L77.8,213.3 L77.5,212.9 L77.2,212.4 L77.0,215.3 L76.8,210.9 L76.5,218.6 L76.2,216.3 L76.0,215.6 L75.8,223.0 L75.5,218.3 L75.2,218.6 L75.0,221.6 L74.8,224.1 L74.5,225.0 L74.2,229.1 L74.0,225.3 L73.8,232.7 L73.5,231.5 L73.2,231.7 L73.0,229.9 L72.8,234.6 L72.5,236.0 L72.2,240.0 L72.0,236.8 L71.8,240.0 L71.5,239.9 L71.2,240.0 L71.0,240.0 L70.8,239.4 L70.5,239.5 L70.2,240.0 L70.0,240.0 L69.8,240.0 L69.5,240.0 L69.2,240.0 L69.0,240.0 L68.8,240.0 L68.5,239.4 L68.2,240.0 L68.0,234.7 L67.8,240.0 L67.5,240.0 L67.2,240.0 L67.0,240.0 L66.8,240.0 L66.5,240.0Z" fill="#ff1414" fill-opacity="0.28"/>
<path d="M66.5,152.2 L66.8,155.0 L67.0,154.1 L67.2,157.0 L67.5,152.5 L67.8,152.3 L68.0,152.0 L68.2,150.7 L68.5,149.7 L68.8,151.0 L69.0,153.2 L69.2,152.1 L69.5,154.2 L69.8,154.3 L70.0,156.1 L70.2,153.4 L70.5,149.6 L70.8,153.1 L71.0,161.1 L71.2,158.5 L71.5,156.0 L71.8,157.0 L72.0,157.8 L72.2,157.3 L72.5,159.4 L72.8,161.0 L73.0,162.7 L73.2,159.4 L73.5,159.9 L73.8,160.1 L74.0,161.3 L74.2,164.0 L74.5,160.2 L74.8,167.2 L75.0,163.8 L75.2,164.9 L75.5,160.3 L75.8,161.2 L76.0,160.7 L76.2,161.7 L76.5,157.2 L76.8,162.3 L77.0,157.6 L77.2,161.6 L77.5,162.7 L77.8,160.4 L78.0,159.9 L78.2,159.5 L78.5,159.0 L78.8,159.6 L79.0,160.4 L79.2,159.5 L79.5,160.7 L79.8,157.7 L80.0,156.1 L80.5,155.1 L81.0,152.7 L81.5,153.1 L82.0,151.7 L82.5,154.5 L83.0,151.1 L83.5,152.0 L84.0,144.8 L84.5,147.2 L85.0,147.2 L85.5,145.0 L86.0,142.7 L86.5,142.4 L87.0,141.1 L87.5,139.9 L88.0,138.9 L88.5,138.0 L89.0,135.3 L89.5,133.6 L90.0,132.7 L90.5,132.6 L91.0,130.6 L91.5,131.5 L92.0,129.8 L92.5,130.5 L93.0,128.2 L93.5,128.3 L94.0,127.6 L94.5,126.1 L95.0,127.9 L95.5,126.5 L96.0,125.6 L96.5,126.4 L97.0,124.1 L97.5,123.9 L98.0,124.5 L98.5,125.5 L99.0,122.4 L99.5,123.7 L100.0,121.7 L100.5,120.2 L101.0,121.1 L101.5,121.4 L102.0,120.6 L102.5,121.2 L103.0,119.9 L103.5,119.0 L104.0,121.9 L104.5,120.4 L105.0,122.2 L105.5,121.8 L106.0,123.0 L106.5,123.4 L107.0,120.1 L107.5,121.0 L108.0,120.3 L108.5,121.7 L109.0,122.5 L109.5,123.7 L110.0,125.7 L110.5,129.1 L111.0,127.6 L111.5,129.6 L112.0,130.4 L112.5,129.5 L113.0,130.4 L113.5,129.8 L114.0,131.4 L114.5,133.4 L115.0,133.5 L115.5,132.0 L116.0,135.6 L116.5,133.4 L117.0,134.2 L117.5,137.0 L118.0,136.4 L118.5,136.4 L119.0,138.2 L119.5,137.1 L120.0,137.8 L120.5,137.2 L121.0,137.9 L121.5,138.3 L122.0,139.6 L122.5,138.3 L123.0,139.0 L123.5,137.5 L124.0,138.2 L124.5,140.5 L125.0,139.8 L125.5,140.1 L126.0,141.1 L126.5,140.6 L127.0,141.1 L127.5,140.9 L128.0,139.7 L128.5,142.0 L129.0,142.9 L129.5,142.8 L130.0,141.5 L130.5,141.1 L131.0,140.6 L131.5,140.9 L132.0,140.0 L132.5,139.2 L133.0,140.2 L133.5,141.1 L134.0,141.3 L134.5,141.1 L135.0,141.4 L135.5,139.5 L136.0,141.4 L136.5,140.7 L137.0,139.9 L137.5,140.4 L138.0,139.8 L138.5,140.9 L139.0,139.1 L139.5,139.6 L140.0,139.6 L140.5,138.0 L141.0,137.0 L141.5,137.3 L142.0,136.0 L142.5,134.9 L143.0,133.8 L143.5,135.1 L144.0,135.8 L144.5,134.6 L145.0,135.4 L145.5,135.8 L146.0,134.7 L146.5,132.3 L147.0,131.5 L147.5,130.2 L148.0,129.9 L148.5,127.1 L149.0,125.2 L149.5,122.4 L150.0,119.7 L150.5,115.7 L151.0,113.4 L151.5,109.7 L152.0,104.0 L152.5,99.6 L153.0,95.8 L153.5,93.0 L154.0,89.6 L154.5,86.3 L155.0,82.4 L155.5,80.1 L156.0,77.9 L156.5,75.9 L157.0,72.8 L157.5,70.0 L158.0,66.9 L158.5,64.9 L159.0,62.5 L159.5,60.3 L160.0,58.5 L160.5,57.4 L161.0,56.4 L161.5,55.2 L162.0,54.6 L162.5,54.3 L163.0,53.8 L163.5,53.6 L164.0,53.8 L164.5,55.4 L165.0,56.9 L165.5,58.6 L166.0,60.2 L166.5,62.8 L167.0,64.6 L167.5,66.7 L168.0,68.6 L168.5,69.8 L169.0,71.2 L169.5,72.5 L170.0,73.1 L170.5,73.6 L171.0,74.2 L171.5,74.7 L172.0,75.4 L172.5,76.5 L173.0,77.4 L173.5,79.0 L174.0,80.3 L174.5,81.8 L175.0,83.3 L175.5,85.0 L176.0,86.2 L176.5,87.7 L177.0,88.8 L177.5,90.0 L178.0,91.4 L178.5,90.4 L179.0,89.4 L179.5,89.0 L180.0,91.7 L180.5,94.1 L181.0,97.3 L181.5,100.8 L182.0,104.5 L182.5,106.9 L183.0,107.7 L183.5,108.7 L184.0,109.8 L184.5,109.9 L185.0,109.3 L185.5,109.0 L186.0,108.3 L186.5,106.7 L187.0,105.2 L187.5,103.4 L188.0,101.8 L188.5,100.6 L189.0,99.6 L189.5,98.5 L190.0,97.8 L190.5,96.9 L191.0,96.5 L191.5,96.4 L192.0,96.2 L192.5,95.9 L193.0,96.5 L193.5,97.2 L194.0,97.6 L194.5,98.4 L195.0,100.0 L195.5,101.7 L196.0,103.3 L196.5,104.3 L197.0,105.3 L197.5,106.3 L198.0,107.3 L198.5,108.5 L199.0,107.6 L199.5,107.3 L200.0,106.6 L200.5,106.1 L201.0,105.6 L201.5,104.7 L202.0,104.0 L202.5,104.0 L203.0,104.6 L203.5,105.3 L204.0,105.9 L204.5,105.5 L205.0,105.5 L205.5,105.0 L206.0,105.1 L206.5,103.9 L207.0,103.1 L207.5,102.4 L208.0,101.6 L208.5,101.0 L209.0,100.2 L209.5,100.3 L210.0,100.0 L210.5,100.5 L211.0,101.1 L211.5,102.2 L212.0,103.6 L212.5,104.2 L213.0,105.8 L213.5,107.7 L214.0,107.9 L214.5,108.4 L215.0,108.8 L215.5,108.2 L216.0,106.9 L216.5,105.7 L217.0,104.5 L217.5,103.3 L218.0,101.9 L218.5,103.0 L219.0,103.8 L219.5,104.5 L220.0,103.5 L220.5,103.7 L221.0,101.9 L221.5,102.4 L222.0,102.1 L222.5,102.1 L223.0,103.3 L223.5,103.9 L224.0,105.5 L224.5,107.4 L225.0,109.9 L225.5,114.4 L226.0,119.1 L226.5,119.2 L227.0,117.2 L227.5,116.0 L228.0,114.6 L228.5,112.8 L229.0,114.6 L229.5,116.4 L230.0,118.2 L230.5,119.9 L231.0,121.7 L231.5,123.0 L232.0,124.2 L232.5,125.0 L233.0,124.9 L233.5,126.3 L234.0,125.9 L234.5,126.6 L235.0,126.4 L235.5,126.4 L236.0,125.4 L236.5,124.6 L237.0,124.0 L237.5,121.5 L238.0,119.7 L238.5,116.6 L239.0,114.8 L239.5,112.9 L240.0,109.8 L240.5,107.4 L241.0,104.2 L241.5,102.9 L242.0,103.1 L242.5,102.5 L243.0,102.9 L243.5,103.1 L244.0,104.1 L244.5,104.0 L245.0,104.9 L245.5,105.4 L246.0,105.3 L246.5,106.5 L247.0,105.7 L247.5,105.6 L248.0,104.4 L248.5,104.4 L249.0,105.1 L249.5,106.0 L250.0,106.7 L250.5,106.9 L251.0,107.4 L251.5,108.3 L252.0,108.7 L252.5,109.5 L253.0,109.8 L253.5,109.7 L254.0,110.4 L254.5,110.0 L255.0,110.5 L255.5,110.9 L256.0,110.3 L256.5,110.5 L257.0,110.3 L257.5,109.6 L258.0,109.5 L258.5,108.5 L259.0,107.4 L259.5,106.9 L260.0,106.7 L260.5,105.5 L261.0,105.8 L261.5,105.4 L262.0,105.3 L262.5,105.9 L263.0,109.8 L263.5,112.1 L264.0,116.2 L264.5,118.2 L265.0,121.7 L265.5,126.1 L266.0,129.8 L266.5,131.1 L267.0,135.2 L267.5,136.6 L268.0,139.1 L268.5,139.2 L269.0,141.8 L269.5,141.7 L270.0,142.9 L270.5,145.7 L271.0,145.4 L271.5,145.0 L272.0,144.3 L272.5,145.9 L273.0,144.5 L273.5,145.7 L274.0,147.0 L274.5,147.3 L275.0,147.2 L275.5,147.8 L276.0,147.5 L276.5,147.0 L277.0,147.6 L277.5,148.7 L278.0,147.8 L278.5,148.1 L279.0,148.3 L279.5,147.3 L280.0,147.6 L280.5,147.4 L281.0,148.6 L281.5,148.3 L282.0,148.0 L282.5,148.1 L283.0,149.1 L283.5,149.2 L284.0,148.9 L284.5,148.7 L285.0,148.9 L285.5,148.6 L286.0,148.8 L286.5,148.3 L287.0,148.0 L287.5,148.1 L288.0,148.6 L288.5,149.2 L289.0,148.0 L289.5,147.8 L290.0,148.7 L290.5,148.7 L291.0,148.0 L291.5,148.1 L292.0,148.0 L292.5,148.4 L293.0,149.2 L293.5,148.0 L294.0,148.3 L294.5,148.0 L295.0,148.1 L295.5,148.2 L296.0,148.1 L296.5,147.9 L297.0,147.9 L297.5,148.1 L298.0,148.0 L298.5,147.9 L299.0,147.9 L299.5,147.9 L300.0,147.9 L300.5,147.8 L301.0,147.8 L301.5,147.7 L302.0,147.7 L302.5,147.6 L303.0,147.5 L303.5,147.4 L304.0,147.4 L304.5,147.3 L305.0,147.2 L305.5,147.2 L306.0,147.1 L306.5,147.0 L307.0,147.0 L307.5,146.9 L308.0,146.8 L308.5,146.7 L309.0,146.7 L309.5,146.6 L310.0,146.5 L310.5,146.5 L311.0,146.5 L311.5,146.4 L312.0,146.4 L312.5,146.4 L313.0,146.3 L313.5,146.3 L314.0,146.3 L314.5,146.3 L315.0,146.2 L315.5,146.2 L316.0,146.2 L316.5,146.2 L317.0,146.1 L317.5,146.1 L318.0,146.1 L318.5,146.0 L319.0,146.0 L319.5,146.0 L320.0,146.0 L320.5,146.0 L321.0,146.1 L321.5,146.1 L322.0,146.1 L322.5,146.1 L323.0,146.1 L323.5,146.1 L324.0,146.2 L324.5,146.2 L325.0,146.2 L325.5,146.2 L326.0,146.2 L326.5,146.2 L327.0,146.2 L327.5,146.3 L328.0,146.3 L328.5,146.3 L329.0,146.3 L329.5,146.3 L330.0,146.4 L330.5,146.4 L331.0,146.4 L331.5,146.4 L332.0,146.4 L332.5,146.5 L333.0,146.5 L333.5,146.5 L334.0,146.5 L334.5,146.5 L335.0,146.6 L335.5,146.6 L336.0,146.6 L336.5,146.5 L337.0,146.4 L337.5,146.3 L338.0,146.2 L338.5,146.1 L339.0,146.0 L339.5,145.9 L340.0,145.8 L340.5,145.7 L341.0,145.0 L341.5,144.3 L342.0,143.6 L342.5,142.9 L343.0,142.2 L343.5,140.7 L344.0,139.3 L344.5,137.8 L345.0,136.3 L345.5,134.7 L346.0,133.1 L346.5,130.7 L347.0,128.2 L347.5,125.4 L348.0,121.9 L348.5,118.1 L349.0,119.5 L349.5,122.3 L350.0,128.3 L350.5,124.2 L351.0,118.5 L351.5,115.6 L352.0,117.8 L352.5,120.8 L353.0,125.7 L353.5,130.5 L354.0,134.8 L354.5,137.7 L355.0,140.5 L355.5,143.3 L356.0,143.3 L356.5,143.3 L357.0,143.4 L357.5,143.4 L358.0,143.4 L358.5,143.4 L359.0,143.5 L359.5,143.5 L360.0,143.5 L360.5,143.4 L361.0,143.3 L361.5,143.2 L362.0,143.2 L362.5,143.1 L363.0,143.0 L363.5,142.9 L364.0,142.8 L364.5,142.7 L365.0,142.7 L365.5,142.6 L366.0,142.5 L366.5,142.4 L367.0,142.3 L367.5,142.2 L368.0,142.1 L368.5,142.1 L369.0,142.0 L369.5,141.9 L370.0,141.8 L370.5,141.7 L371.0,141.6 L371.5,141.5 L372.0,141.4 L372.5,141.3 L373.0,141.2 L373.5,141.1 L374.0,141.0 L374.5,140.9 L375.0,140.9 L375.5,140.8 L376.0,140.7 L376.5,140.6 L377.0,140.5 L377.5,140.4 L378.0,140.3 L378.5,140.2 L379.0,140.1 L379.5,140.0 L380.0,139.9 L380.5,139.8 L381.0,139.7 L381.5,139.6 L382.0,139.5 L382.5,139.4 L383.0,139.3 L383.5,139.2 L384.0,139.1 L384.5,139.0 L385.0,138.9 L385.5,138.8 L386.0,138.7 L386.5,138.6 L387.0,138.5 L387.5,138.4 L388.0,138.3 L388.5,138.2 L389.0,138.1 L389.5,138.0 L390.0,137.9 L390.5,137.8 L391.0,137.7 L391.5,137.6 L392.0,137.5 L392.5,137.4 L393.0,137.3 L393.5,137.2 L394.0,137.1 L394.5,137.0 L395.0,136.9 L395.5,136.7 L396.0,136.6 L396.5,136.5 L397.0,136.4 L397.5,136.3 L398.0,136.2 L398.5,136.1 L399.0,136.0 L399.5,135.9 L400.0,135.8 L400.5,135.6 L401.0,135.5 L401.5,135.3 L402.0,135.1 L402.5,135.0 L403.0,134.8 L403.5,134.7 L404.0,134.5 L404.5,134.3 L405.0,134.2 L405.5,134.0 L406.0,133.8 L406.5,133.7 L407.0,133.5 L407.5,133.3 L408.0,133.0 L408.5,132.8 L409.0,132.6 L409.5,132.4 L410.0,132.1 L410.5,131.9 L411.0,131.7 L411.5,131.4 L412.0,131.1 L412.5,130.8 L413.0,130.6 L413.5,130.3 L414.0,130.0 L414.5,129.7 L415.0,128.8 L415.5,127.8 L416.0,126.8 L416.5,125.8 L417.0,124.8 L417.5,123.4 L418.0,122.1 L418.5,120.7 L419.0,119.4 L419.5,118.1 L420.0,117.1 L420.5,116.1 L421.0,115.0 L421.5,114.0 L422.0,113.0 L422.5,112.1 L423.0,111.6 L423.5,111.0 L424.0,110.5 L424.5,109.9 L425.0,109.4 L425.5,108.8 L426.0,108.5 L426.5,108.2 L427.0,107.8 L427.5,107.5 L428.0,107.2 L428.5,106.9 L429.0,106.7 L429.5,106.5 L430.0,106.3 L430.5,106.1 L431.0,106.2 L431.5,106.6 L432.0,107.1 L432.5,107.5 L433.0,108.0 L433.5,108.8 L434.0,109.7 L434.5,110.6 L435.0,111.4 L435.5,112.3 L436.0,113.3 L436.5,114.4 L437.0,115.6 L437.5,116.7 L438.0,117.8 L438.5,118.7 L439.0,119.5 L439.5,120.4 L440.0,121.2 L440.5,122.0 L441.0,122.3 L441.5,122.6 L442.0,123.0 L442.5,123.3 L443.0,123.7 L443.5,123.9 L444.0,124.0 L444.5,124.2 L445.0,124.3 L445.5,124.1 L446.0,123.9 L446.5,123.6 L447.0,123.4 L447.5,123.1 L448.0,122.9 L448.5,122.4 L449.0,122.0 L449.5,121.5 L450.0,121.1 L450.5,120.6 L451.0,120.2 L451.5,119.6 L452.0,119.0 L452.5,118.4 L453.0,117.7 L453.5,117.1 L454.0,116.5 L454.5,115.8 L455.0,115.2 L455.5,114.6 L456.0,113.9 L456.5,113.3 L457.0,112.6 L457.5,111.7 L458.0,110.9 L458.5,110.0 L459.0,109.2 L459.5,108.3 L460.0,107.5 L460.5,106.7 L461.0,105.8 L461.5,105.0 L462.0,104.1 L462.5,103.3 L463.0,102.5 L463.5,101.8 L464.0,101.0 L464.5,100.3 L465.0,99.5 L465.5,98.7 L466.0,98.0 L466.5,97.2 L467.0,96.5 L467.5,95.7 L468.0,94.9 L468.5,94.2 L469.0,93.4 L469.5,92.6 L470.0,91.9 L470.5,91.1 L471.0,90.3 L471.5,89.6 L472.0,88.8 L472.5,88.0 L473.0,87.3 L473.5,86.5 L474.0,85.7 L474.5,85.0 L475.0,84.2 L475.5,83.4 L476.0,82.6 L476.5,81.8 L477.0,81.1 L477.5,80.3 L478.0,79.5 L478.5,78.8 L479.0,78.0 L479.5,77.2 L480.0,76.4 L480.5,75.7 L481.0,75.0 L481.5,74.5 L482.0,74.0 L482.5,73.5 L483.0,72.9 L483.5,72.4 L484.0,71.9 L484.5,71.4 L485.0,70.8 L485.5,70.3 L486.0,69.8 L486.5,69.3 L487.0,68.8 L487.5,68.4 L488.0,67.9 L488.5,67.5 L489.0,67.0 L489.5,66.6 L490.0,66.1 L490.5,65.7 L491.0,65.2 L491.5,64.8 L492.0,64.3 L492.5,63.9 L493.0,63.5 L493.5,63.0 L494.0,62.6 L494.5,62.2 L495.0,61.7 L495.5,61.3 L496.0,60.9 L496.5,60.4 L497.0,60.0 L497.5,59.6 L498.0,59.3 L498.5,58.9 L499.0,58.6 L499.5,58.2 L500.0,57.9 L500.5,57.5 L501.0,57.3 L501.5,57.2 L502.0,57.0 L502.5,56.9 L503.0,56.9 L503.5,57.1 L504.0,57.4 L504.5,57.6 L505.0,57.8 L505.5,58.1 L506.0,58.4 L506.5,58.9 L507.0,59.4 L507.5,59.9 L508.0,60.4 L508.5,60.9 L509.0,61.4 L509.5,62.0 L510.0,62.5 L510.5,63.3 L511.0,64.1 L511.5,64.9 L512.0,65.8 L512.5,66.6 L513.0,67.5 L513.5,68.3 L514.0,69.2 L514.5,70.0 L515.0,70.9 L515.5,71.9 L516.0,72.8 L516.5,73.8 L517.0,74.7 L517.5,75.6 L518.0,76.6 L518.5,77.5 L519.0,78.5 L519.5,79.5 L520.0,80.5 L520.5,81.6 L521.0,82.6 L521.5,83.7 L522.0,84.7 L522.5,85.8 L523.0,86.9 L523.5,88.2 L524.0,89.4 L524.5,90.7 L525.0,92.0 L525.5,93.3 L526.0,94.6 L526.5,95.8 L527.0,97.3 L527.5,98.8 L528.0,100.4 L528.5,102.0 L529.0,103.6 L529.5,104.8 L530.0,106.3 L530.5,107.8 L531.0,109.6 L531.5,110.9 L532.0,112.1 L532.5,113.4 L533.0,114.1 L533.5,115.9 L534.0,116.5 L534.5,120.2 L535.0,121.2 L535.5,123.0 L536.0,124.3 L536.5,125.6 L537.0,126.5 L537.5,129.7 L538.0,132.0 L538.5,133.4 L539.0,136.4 L539.5,137.9 L540.0,136.6 L540.5,137.5 L541.0,140.6 L541.5,136.5 L542.0,139.6 L542.5,141.4 L543.0,141.0 L543.5,140.3 L544.0,142.0 L544.5,140.4 L545.0,140.2 L545.5,141.8 L546.0,141.5 L546.5,142.6 L547.0,143.6 L547.5,144.0 L548.0,138.8 L548.5,142.8 L549.0,143.3 L549.5,143.9 L550.0,142.5 L550.5,142.7 L551.0,143.8 L551.5,142.4 L552.0,141.4 L552.5,144.9 L553.0,145.0 L553.5,142.6 L554.0,146.0 L554.5,143.3 L555.0,145.2 L555.5,142.9 L556.0,144.8 L556.5,143.8 L557.0,144.1 L557.5,145.4 L558.0,145.9 L558.5,143.7 L559.0,147.3 L559.5,144.0 L560.0,143.0 L560.5,144.7 L561.0,147.7 L561.5,144.2 L562.0,142.9 L562.5,143.8 L563.0,145.1 L563.5,145.3 L564.0,145.0 L564.5,145.8 L565.0,147.1 L565.5,144.4 L566.0,144.9 L566.5,144.5 L567.0,145.1 L567.5,146.3 L568.0,145.2 L568.5,143.4 L569.0,146.1 L569.5,147.1 L570.0,145.4 L570.5,147.8 L571.0,146.7 L571.5,143.2 L572.0,144.7 L572.5,143.8 L573.0,144.7 L573.5,144.2 L574.0,145.7 L574.5,146.3 L575.0,142.7 L575.5,146.6 L576.0,145.3 L576.5,146.9 L577.0,145.2 L577.5,142.4 L578.0,145.4 L578.5,146.1 L579.0,146.2 L579.5,145.6 L580.0,144.2 L580.5,144.4 L580.5,194.8 L580.0,195.6 L579.5,195.5 L579.0,196.4 L578.5,196.5 L578.0,191.9 L577.5,195.6 L577.0,194.3 L576.5,194.8 L576.0,193.4 L575.5,195.6 L575.0,194.7 L574.5,194.5 L574.0,197.0 L573.5,194.6 L573.0,197.6 L572.5,195.2 L572.0,192.7 L571.5,192.6 L571.0,193.5 L570.5,194.3 L570.0,193.5 L569.5,195.5 L569.0,192.4 L568.5,192.6 L568.0,193.8 L567.5,193.7 L567.0,194.1 L566.5,194.6 L566.0,192.3 L565.5,192.6 L565.0,191.1 L564.5,194.5 L564.0,192.9 L563.5,192.9 L563.0,192.6 L562.5,195.8 L562.0,191.7 L561.5,194.3 L561.0,197.7 L560.5,194.8 L560.0,194.4 L559.5,195.1 L559.0,192.7 L558.5,194.7 L558.0,194.8 L557.5,193.7 L557.0,193.4 L556.5,194.2 L556.0,193.2 L555.5,195.5 L555.0,193.7 L554.5,192.8 L554.0,193.2 L553.5,193.2 L553.0,194.0 L552.5,192.7 L552.0,192.6 L551.5,191.9 L551.0,195.8 L550.5,190.8 L550.0,193.9 L549.5,189.3 L549.0,192.7 L548.5,190.1 L548.0,192.3 L547.5,191.1 L547.0,191.7 L546.5,189.2 L546.0,192.9 L545.5,188.0 L545.0,192.6 L544.5,191.7 L544.0,191.8 L543.5,190.4 L543.0,189.3 L542.5,189.3 L542.0,187.7 L541.5,188.3 L541.0,188.7 L540.5,188.5 L540.0,186.4 L539.5,185.5 L539.0,185.1 L538.5,184.1 L538.0,183.8 L537.5,180.7 L537.0,178.6 L536.5,176.2 L536.0,176.3 L535.5,174.0 L535.0,170.5 L534.5,169.5 L534.0,168.4 L533.5,167.5 L533.0,164.5 L532.5,163.4 L532.0,162.7 L531.5,160.6 L531.0,159.5 L530.5,158.2 L530.0,157.0 L529.5,155.8 L529.0,154.0 L528.5,152.5 L528.0,151.2 L527.5,149.7 L527.0,148.3 L526.5,146.9 L526.0,145.7 L525.5,144.5 L525.0,143.2 L524.5,142.0 L524.0,140.8 L523.5,139.6 L523.0,138.4 L522.5,137.4 L522.0,136.4 L521.5,135.4 L521.0,134.5 L520.5,133.5 L520.0,132.5 L519.5,131.6 L519.0,130.7 L518.5,129.8 L518.0,129.0 L517.5,128.1 L517.0,127.3 L516.5,126.4 L516.0,125.6 L515.5,124.7 L515.0,123.9 L514.5,123.1 L514.0,122.3 L513.5,121.6 L513.0,120.8 L512.5,120.1 L512.0,119.3 L511.5,118.6 L511.0,117.8 L510.5,117.1 L510.0,116.4 L509.5,116.0 L509.0,115.6 L508.5,115.2 L508.0,114.8 L507.5,114.3 L507.0,113.9 L506.5,113.5 L506.0,113.1 L505.5,112.9 L505.0,112.7 L504.5,112.6 L504.0,112.5 L503.5,112.3 L503.0,112.2 L502.5,112.4 L502.0,112.5 L501.5,112.6 L501.0,112.6 L500.5,112.8 L500.0,113.0 L499.5,113.3 L499.0,113.6 L498.5,113.9 L498.0,114.1 L497.5,114.4 L497.0,114.7 L496.5,115.0 L496.0,115.4 L495.5,115.8 L495.0,116.1 L494.5,116.5 L494.0,116.8 L493.5,117.2 L493.0,117.5 L492.5,117.9 L492.0,118.2 L491.5,118.6 L491.0,119.0 L490.5,119.3 L490.0,119.7 L489.5,120.1 L489.0,120.5 L488.5,120.8 L488.0,121.2 L487.5,121.6 L487.0,122.0 L486.5,122.3 L486.0,122.7 L485.5,123.2 L485.0,123.6 L484.5,124.1 L484.0,124.5 L483.5,125.0 L483.0,125.4 L482.5,125.9 L482.0,126.3 L481.5,126.8 L481.0,127.2 L480.5,127.7 L480.0,128.4 L479.5,129.2 L479.0,129.9 L478.5,130.6 L478.0,131.4 L477.5,132.1 L477.0,132.8 L476.5,133.6 L476.0,134.3 L475.5,135.0 L475.0,135.8 L474.5,136.5 L474.0,137.2 L473.5,138.0 L473.0,138.7 L472.5,139.4 L472.0,140.2 L471.5,140.9 L471.0,141.6 L470.5,142.3 L470.0,143.1 L469.5,143.8 L469.0,144.5 L468.5,145.2 L468.0,146.0 L467.5,146.7 L467.0,147.4 L466.5,148.1 L466.0,148.9 L465.5,149.6 L465.0,150.3 L464.5,151.0 L464.0,151.7 L463.5,152.5 L463.0,153.2 L462.5,153.9 L462.0,154.7 L461.5,155.5 L461.0,156.3 L460.5,157.1 L460.0,157.9 L459.5,158.7 L459.0,159.5 L458.5,160.3 L458.0,161.1 L457.5,161.9 L457.0,162.7 L456.5,163.4 L456.0,164.0 L455.5,164.6 L455.0,165.2 L454.5,165.8 L454.0,166.4 L453.5,167.0 L453.0,167.6 L452.5,168.2 L452.0,168.7 L451.5,169.3 L451.0,169.8 L450.5,170.3 L450.0,170.7 L449.5,171.1 L449.0,171.5 L448.5,171.9 L448.0,172.3 L447.5,172.5 L447.0,172.7 L446.5,172.9 L446.0,173.1 L445.5,173.3 L445.0,173.5 L444.5,173.3 L444.0,173.2 L443.5,173.1 L443.0,172.8 L442.5,172.5 L442.0,172.1 L441.5,171.8 L441.0,171.5 L440.5,171.1 L440.0,170.3 L439.5,169.5 L439.0,168.7 L438.5,167.9 L438.0,166.9 L437.5,165.8 L437.0,164.7 L436.5,163.5 L436.0,162.4 L435.5,161.4 L435.0,160.5 L434.5,159.6 L434.0,158.8 L433.5,157.9 L433.0,157.0 L432.5,156.6 L432.0,156.1 L431.5,155.7 L431.0,155.2 L430.5,155.1 L430.0,155.3 L429.5,155.5 L429.0,155.7 L428.5,155.9 L428.0,156.2 L427.5,156.5 L427.0,156.8 L426.5,157.1 L426.0,157.4 L425.5,157.8 L425.0,158.3 L424.5,158.8 L424.0,159.4 L423.5,159.9 L423.0,160.5 L422.5,161.0 L422.0,161.9 L421.5,162.9 L421.0,163.9 L420.5,164.9 L420.0,166.0 L419.5,167.0 L419.0,168.3 L418.5,169.6 L418.0,170.9 L417.5,172.3 L417.0,173.6 L416.5,174.6 L416.0,175.6 L415.5,176.6 L415.0,177.6 L414.5,178.5 L414.0,178.8 L413.5,179.0 L413.0,179.3 L412.5,179.6 L412.0,179.9 L411.5,180.2 L411.0,180.4 L410.5,180.6 L410.0,180.9 L409.5,181.1 L409.0,181.3 L408.5,181.5 L408.0,181.7 L407.5,182.0 L407.0,182.2 L406.5,182.4 L406.0,182.5 L405.5,182.7 L405.0,182.8 L404.5,183.0 L404.0,183.1 L403.5,183.3 L403.0,183.5 L402.5,183.6 L402.0,183.8 L401.5,183.9 L401.0,184.1 L400.5,184.2 L400.0,184.4 L399.5,184.5 L399.0,184.6 L398.5,184.7 L398.0,184.8 L397.5,185.0 L397.0,185.1 L396.5,185.2 L396.0,185.3 L395.5,185.4 L395.0,185.5 L394.5,185.6 L394.0,185.8 L393.5,185.9 L393.0,186.0 L392.5,186.1 L392.0,186.2 L391.5,186.3 L391.0,186.4 L390.5,186.5 L390.0,186.7 L389.5,186.8 L389.0,186.9 L388.5,187.0 L388.0,187.1 L387.5,187.2 L387.0,187.3 L386.5,187.4 L386.0,187.5 L385.5,187.6 L385.0,187.7 L384.5,187.8 L384.0,187.9 L383.5,188.0 L383.0,188.2 L382.5,188.3 L382.0,188.4 L381.5,188.5 L381.0,188.6 L380.5,188.7 L380.0,188.8 L379.5,188.9 L379.0,189.0 L378.5,189.1 L378.0,189.2 L377.5,189.3 L377.0,189.4 L376.5,189.5 L376.0,189.6 L375.5,189.7 L375.0,189.8 L374.5,189.9 L374.0,190.0 L373.5,190.1 L373.0,190.2 L372.5,190.3 L372.0,190.4 L371.5,190.5 L371.0,190.6 L370.5,190.7 L370.0,190.9 L369.5,190.9 L369.0,191.0 L368.5,191.1 L368.0,191.2 L367.5,191.3 L367.0,191.4 L366.5,191.5 L366.0,191.6 L365.5,191.7 L365.0,191.8 L364.5,191.9 L364.0,192.0 L363.5,192.1 L363.0,192.1 L362.5,192.2 L362.0,192.3 L361.5,192.4 L361.0,192.5 L360.5,192.6 L360.0,192.7 L359.5,192.6 L359.0,192.6 L358.5,192.5 L358.0,192.5 L357.5,192.4 L357.0,192.4 L356.5,192.3 L356.0,192.3 L355.5,192.2 L355.0,190.2 L354.5,188.2 L354.0,186.2 L353.5,182.9 L353.0,179.5 L352.5,176.2 L352.0,174.5 L351.5,172.7 L351.0,172.8 L350.5,175.6 L350.0,176.5 L349.5,174.8 L349.0,175.3 L348.5,176.4 L348.0,178.0 L347.5,179.5 L347.0,181.1 L346.5,182.3 L346.0,183.6 L345.5,184.8 L345.0,186.0 L344.5,187.1 L344.0,188.1 L343.5,189.1 L343.0,190.2 L342.5,190.9 L342.0,191.6 L341.5,192.3 L341.0,193.0 L340.5,193.7 L340.0,193.8 L339.5,193.9 L339.0,194.0 L338.5,194.1 L338.0,194.2 L337.5,194.3 L337.0,194.4 L336.5,194.5 L336.0,194.6 L335.5,194.6 L335.0,194.6 L334.5,194.5 L334.0,194.5 L333.5,194.5 L333.0,194.5 L332.5,194.5 L332.0,194.4 L331.5,194.4 L331.0,194.4 L330.5,194.4 L330.0,194.4 L329.5,194.3 L329.0,194.3 L328.5,194.3 L328.0,194.3 L327.5,194.3 L327.0,194.2 L326.5,194.2 L326.0,194.2 L325.5,194.2 L325.0,194.2 L324.5,194.2 L324.0,194.2 L323.5,194.1 L323.0,194.1 L322.5,194.1 L322.0,194.1 L321.5,194.1 L321.0,194.1 L320.5,194.0 L320.0,194.0 L319.5,194.0 L319.0,194.0 L318.5,194.0 L318.0,194.1 L317.5,194.1 L317.0,194.1 L316.5,194.2 L316.0,194.2 L315.5,194.2 L315.0,194.2 L314.5,194.3 L314.0,194.3 L313.5,194.3 L313.0,194.3 L312.5,194.4 L312.0,194.4 L311.5,194.4 L311.0,194.5 L310.5,194.5 L310.0,194.5 L309.5,194.6 L309.0,194.7 L308.5,194.7 L308.0,194.8 L307.5,194.9 L307.0,195.0 L306.5,195.0 L306.0,195.1 L305.5,195.2 L305.0,195.2 L304.5,195.3 L304.0,195.4 L303.5,195.4 L303.0,195.5 L302.5,195.6 L302.0,195.7 L301.5,195.7 L301.0,195.8 L300.5,195.8 L300.0,195.9 L299.5,195.8 L299.0,195.9 L298.5,196.0 L298.0,196.0 L297.5,196.0 L297.0,196.2 L296.5,195.8 L296.0,196.1 L295.5,196.3 L295.0,196.0 L294.5,196.0 L294.0,196.0 L293.5,196.4 L293.0,196.3 L292.5,196.3 L292.0,196.7 L291.5,196.4 L291.0,196.8 L290.5,196.2 L290.0,195.9 L289.5,196.8 L289.0,197.1 L288.5,195.9 L288.0,196.0 L287.5,195.5 L287.0,196.0 L286.5,196.3 L286.0,196.2 L285.5,196.0 L285.0,195.9 L284.5,195.7 L284.0,195.1 L283.5,194.9 L283.0,195.1 L282.5,195.8 L282.0,196.0 L281.5,195.5 L281.0,195.3 L280.5,195.4 L280.0,194.1 L279.5,195.6 L279.0,194.3 L278.5,194.7 L278.0,194.5 L277.5,194.9 L277.0,194.5 L276.5,194.4 L276.0,193.4 L275.5,194.1 L275.0,194.4 L274.5,193.2 L274.0,194.1 L273.5,193.4 L273.0,192.9 L272.5,193.3 L272.0,191.1 L271.5,191.1 L271.0,191.7 L270.5,190.6 L270.0,189.5 L269.5,187.8 L269.0,187.6 L268.5,186.7 L268.0,185.5 L267.5,183.7 L267.0,180.8 L266.5,177.9 L266.0,174.5 L265.5,169.9 L265.0,167.1 L264.5,163.2 L264.0,159.6 L263.5,157.6 L263.0,155.3 L262.5,152.5 L262.0,151.4 L261.5,151.3 L261.0,151.4 L260.5,152.7 L260.0,152.8 L259.5,154.2 L259.0,153.9 L258.5,154.8 L258.0,156.5 L257.5,157.2 L257.0,157.6 L256.5,158.5 L256.0,158.8 L255.5,159.4 L255.0,160.0 L254.5,160.0 L254.0,159.2 L253.5,158.4 L253.0,158.5 L252.5,157.6 L252.0,157.3 L251.5,155.0 L251.0,155.1 L250.5,154.7 L250.0,153.7 L249.5,154.2 L249.0,152.2 L248.5,152.1 L248.0,152.8 L247.5,152.4 L247.0,152.5 L246.5,152.1 L246.0,152.5 L245.5,151.8 L245.0,151.3 L244.5,151.0 L244.0,150.0 L243.5,149.8 L243.0,148.5 L242.5,149.1 L242.0,149.2 L241.5,150.6 L241.0,151.4 L240.5,154.4 L240.0,157.0 L239.5,161.4 L239.0,163.3 L238.5,165.9 L238.0,168.0 L237.5,170.9 L237.0,172.7 L236.5,173.4 L236.0,174.4 L235.5,176.0 L235.0,175.5 L234.5,174.7 L234.0,173.4 L233.5,172.9 L233.0,171.8 L232.5,170.2 L232.0,169.7 L231.5,167.9 L231.0,165.2 L230.5,163.1 L230.0,160.8 L229.5,158.1 L229.0,156.0 L228.5,155.0 L228.0,156.0 L227.5,157.9 L227.0,159.8 L226.5,162.3 L226.0,160.9 L225.5,157.1 L225.0,152.6 L224.5,151.2 L224.0,148.8 L223.5,147.5 L223.0,146.9 L222.5,145.9 L222.0,146.5 L221.5,146.7 L221.0,146.7 L220.5,147.7 L220.0,148.5 L219.5,149.4 L219.0,148.3 L218.5,148.0 L218.0,148.2 L217.5,149.2 L217.0,149.8 L216.5,151.0 L216.0,152.2 L215.5,153.5 L215.0,155.0 L214.5,153.5 L214.0,152.8 L213.5,152.0 L213.0,150.4 L212.5,148.7 L212.0,147.0 L211.5,145.3 L211.0,144.0 L210.5,143.2 L210.0,141.6 L209.5,142.3 L209.0,142.9 L208.5,143.7 L208.0,144.6 L207.5,146.0 L207.0,146.6 L206.5,147.7 L206.0,149.6 L205.5,149.6 L205.0,150.2 L204.5,150.6 L204.0,151.1 L203.5,150.9 L203.0,150.6 L202.5,150.4 L202.0,150.7 L201.5,151.4 L201.0,152.6 L200.5,153.4 L200.0,154.3 L199.5,155.0 L199.0,155.8 L198.5,155.9 L198.0,154.3 L197.5,153.1 L197.0,151.6 L196.5,150.2 L196.0,148.4 L195.5,146.3 L195.0,144.4 L194.5,142.1 L194.0,140.8 L193.5,139.8 L193.0,138.9 L192.5,138.7 L192.0,139.3 L191.5,139.5 L191.0,140.1 L190.5,140.6 L190.0,141.8 L189.5,143.3 L189.0,144.3 L188.5,145.5 L188.0,147.0 L187.5,149.0 L187.0,151.1 L186.5,152.8 L186.0,155.0 L185.5,155.8 L185.0,156.1 L184.5,157.3 L184.0,157.1 L183.5,156.0 L183.0,155.1 L182.5,153.9 L182.0,151.3 L181.5,147.9 L181.0,144.2 L180.5,140.8 L180.0,138.5 L179.5,135.7 L179.0,135.8 L178.5,136.7 L178.0,137.9 L177.5,136.4 L177.0,135.1 L176.5,133.9 L176.0,132.4 L175.5,131.3 L175.0,130.7 L174.5,129.9 L174.0,129.2 L173.5,128.2 L173.0,127.4 L172.5,127.4 L172.0,126.9 L171.5,127.0 L171.0,126.9 L170.5,126.8 L170.0,127.1 L169.5,126.8 L169.0,126.4 L168.5,125.3 L168.0,124.5 L167.5,123.2 L167.0,121.9 L166.5,120.0 L166.0,118.3 L165.5,117.1 L165.0,116.2 L164.5,115.2 L164.0,113.9 L163.5,113.6 L163.0,113.4 L162.5,113.2 L162.0,113.2 L161.5,113.7 L161.0,114.5 L160.5,115.0 L160.0,115.8 L159.5,117.4 L159.0,119.3 L158.5,121.2 L158.0,122.7 L157.5,124.9 L157.0,126.7 L156.5,129.1 L156.0,130.1 L155.5,131.5 L155.0,132.5 L154.5,134.8 L154.0,137.1 L153.5,139.9 L153.0,141.7 L152.5,145.2 L152.0,147.5 L151.5,152.2 L151.0,155.4 L150.5,157.1 L150.0,159.1 L149.5,161.5 L149.0,164.4 L148.5,166.6 L148.0,167.5 L147.5,168.7 L147.0,169.8 L146.5,171.7 L146.0,171.9 L145.5,172.6 L145.0,172.9 L144.5,172.7 L144.0,172.1 L143.5,171.2 L143.0,171.5 L142.5,172.4 L142.0,172.6 L141.5,171.5 L141.0,173.1 L140.5,172.4 L140.0,174.7 L139.5,175.1 L139.0,175.2 L138.5,175.4 L138.0,175.0 L137.5,175.5 L137.0,176.6 L136.5,175.8 L136.0,178.5 L135.5,178.0 L135.0,177.1 L134.5,178.2 L134.0,177.3 L133.5,178.2 L133.0,176.3 L132.5,174.5 L132.0,175.8 L131.5,176.6 L131.0,176.1 L130.5,179.7 L130.0,177.0 L129.5,179.1 L129.0,178.2 L128.5,180.0 L128.0,178.1 L127.5,177.3 L127.0,178.7 L126.5,178.4 L126.0,177.6 L125.5,177.9 L125.0,177.1 L124.5,175.9 L124.0,175.1 L123.5,175.9 L123.0,175.7 L122.5,174.8 L122.0,174.2 L121.5,173.6 L121.0,174.7 L120.5,172.5 L120.0,173.1 L119.5,173.3 L119.0,170.8 L118.5,169.5 L118.0,171.3 L117.5,169.0 L117.0,169.6 L116.5,169.6 L116.0,166.6 L115.5,168.1 L115.0,166.9 L114.5,166.6 L114.0,166.3 L113.5,165.1 L113.0,166.0 L112.5,165.0 L112.0,163.0 L111.5,164.5 L111.0,161.9 L110.5,162.1 L110.0,158.2 L109.5,157.9 L109.0,156.1 L108.5,152.0 L108.0,152.6 L107.5,151.8 L107.0,156.2 L106.5,156.7 L106.0,156.4 L105.5,156.3 L105.0,155.6 L104.5,153.8 L104.0,154.3 L103.5,153.1 L103.0,154.9 L102.5,151.6 L102.0,151.8 L101.5,152.2 L101.0,152.9 L100.5,151.7 L100.0,152.8 L99.5,152.8 L99.0,155.0 L98.5,152.5 L98.0,155.8 L97.5,155.6 L97.0,156.5 L96.5,157.0 L96.0,158.3 L95.5,156.9 L95.0,160.1 L94.5,158.2 L94.0,161.2 L93.5,160.8 L93.0,160.4 L92.5,160.8 L92.0,164.7 L91.5,164.8 L91.0,165.8 L90.5,162.6 L90.0,166.8 L89.5,164.5 L89.0,167.6 L88.5,169.7 L88.0,173.4 L87.5,172.9 L87.0,175.0 L86.5,174.6 L86.0,180.1 L85.5,176.5 L85.0,180.3 L84.5,180.7 L84.0,184.4 L83.5,184.3 L83.0,183.9 L82.5,186.7 L82.0,187.0 L81.5,191.1 L81.0,192.8 L80.5,190.2 L80.0,193.4 L79.8,192.6 L79.5,197.7 L79.2,196.5 L79.0,196.2 L78.8,197.8 L78.5,200.1 L78.2,197.1 L78.0,201.4 L77.8,199.2 L77.5,202.5 L77.2,202.1 L77.0,203.1 L76.8,200.0 L76.5,205.4 L76.2,202.1 L76.0,202.3 L75.8,207.8 L75.5,207.0 L75.2,206.9 L75.0,207.5 L74.8,202.8 L74.5,206.5 L74.2,207.0 L74.0,208.7 L73.8,209.2 L73.5,208.9 L73.2,210.7 L73.0,209.4 L72.8,207.0 L72.5,207.6 L72.2,213.4 L72.0,205.7 L71.8,202.0 L71.5,202.9 L71.2,208.1 L71.0,209.9 L70.8,210.7 L70.5,212.9 L70.2,209.4 L70.0,209.0 L69.8,211.1 L69.5,207.7 L69.2,208.0 L69.0,211.0 L68.8,205.5 L68.5,208.7 L68.2,210.8 L68.0,208.7 L67.8,210.5 L67.5,212.2 L67.2,211.0 L67.0,210.1 L66.8,206.7 L66.5,207.5Z" fill="#50ff50" fill-opacity="0.33"/>
<path d="M66.5,139.4 L66.8,141.1 L67.0,135.5 L67.2,137.1 L67.5,138.2 L67.8,146.9 L68.0,138.4 L68.2,145.8 L68.5,137.2 L68.8,128.9 L69.0,138.6 L69.2,139.3 L69.5,144.4 L69.8,136.4 L70.0,139.9 L70.2,137.0 L70.5,141.0 L70.8,142.2 L71.0,139.0 L71.2,144.5 L71.5,144.0 L71.8,141.4 L72.0,146.6 L72.2,142.4 L72.5,145.5 L72.8,143.0 L73.0,142.3 L73.2,146.6 L73.5,147.5 L73.8,144.6 L74.0,142.8 L74.2,139.6 L74.5,144.3 L74.8,138.8 L75.0,138.6 L75.2,134.9 L75.5,132.6 L75.8,135.1 L76.0,134.4 L76.2,129.7 L76.5,129.7 L76.8,130.0 L77.0,129.5 L77.2,126.2 L77.5,124.7 L77.8,125.9 L78.0,127.0 L78.2,127.4 L78.5,125.0 L78.8,129.0 L79.0,122.8 L79.2,124.1 L79.5,124.7 L79.8,124.7 L80.0,124.7 L80.5,121.9 L81.0,121.0 L81.5,118.9 L82.0,122.0 L82.5,119.0 L83.0,119.9 L83.5,121.1 L84.0,119.3 L84.5,116.0 L85.0,116.9 L85.5,116.5 L86.0,117.6 L86.5,115.3 L87.0,113.4 L87.5,118.8 L88.0,115.4 L88.5,114.3 L89.0,112.4 L89.5,111.9 L90.0,113.3 L90.5,113.1 L91.0,111.5 L91.5,112.1 L92.0,110.6 L92.5,108.2 L93.0,111.5 L93.5,106.8 L94.0,109.7 L94.5,107.3 L95.0,104.8 L95.5,105.7 L96.0,107.5 L96.5,103.7 L97.0,104.1 L97.5,105.6 L98.0,102.1 L98.5,103.5 L99.0,100.6 L99.5,101.7 L100.0,100.9 L100.5,100.9 L101.0,100.8 L101.5,103.6 L102.0,101.1 L102.5,105.0 L103.0,104.3 L103.5,104.2 L104.0,106.4 L104.5,107.3 L105.0,107.2 L105.5,107.3 L106.0,110.2 L106.5,108.8 L107.0,108.0 L107.5,110.4 L108.0,108.3 L108.5,106.6 L109.0,105.8 L109.5,110.3 L110.0,111.5 L110.5,114.5 L111.0,116.6 L111.5,116.7 L112.0,121.2 L112.5,120.5 L113.0,122.0 L113.5,121.2 L114.0,123.9 L114.5,120.4 L115.0,123.5 L115.5,122.2 L116.0,125.8 L116.5,127.0 L117.0,127.7 L117.5,126.7 L118.0,128.8 L118.5,129.4 L119.0,130.7 L119.5,132.2 L120.0,131.3 L120.5,133.3 L121.0,133.9 L121.5,134.7 L122.0,134.0 L122.5,134.7 L123.0,135.4 L123.5,135.4 L124.0,136.2 L124.5,136.6 L125.0,138.1 L125.5,137.9 L126.0,139.3 L126.5,138.6 L127.0,140.9 L127.5,139.7 L128.0,140.0 L128.5,138.9 L129.0,140.3 L129.5,140.1 L130.0,138.6 L130.5,138.5 L131.0,138.1 L131.5,135.0 L132.0,135.1 L132.5,134.7 L133.0,136.2 L133.5,136.9 L134.0,138.2 L134.5,138.5 L135.0,139.2 L135.5,137.6 L136.0,137.1 L136.5,138.4 L137.0,136.3 L137.5,136.0 L138.0,135.3 L138.5,133.7 L139.0,134.0 L139.5,133.6 L140.0,131.8 L140.5,132.1 L141.0,128.1 L141.5,126.1 L142.0,124.7 L142.5,123.1 L143.0,124.2 L143.5,125.7 L144.0,128.4 L144.5,128.7 L145.0,127.6 L145.5,127.0 L146.0,125.5 L146.5,124.6 L147.0,123.5 L147.5,120.2 L148.0,117.6 L148.5,115.6 L149.0,112.8 L149.5,110.0 L150.0,106.1 L150.5,103.7 L151.0,99.1 L151.5,94.7 L152.0,89.6 L152.5,83.9 L153.0,79.4 L153.5,74.3 L154.0,69.3 L154.5,63.0 L155.0,59.4 L155.5,57.5 L156.0,54.1 L156.5,51.4 L157.0,49.2 L157.5,46.3 L158.0,43.6 L158.5,39.9 L159.0,37.5 L159.5,34.6 L160.0,32.0 L160.5,29.5 L161.0,27.3 L161.5,24.6 L162.0,24.1 L162.5,23.4 L163.0,22.7 L163.5,22.3 L164.0,21.8 L164.5,22.9 L165.0,23.7 L165.5,24.8 L166.0,25.9 L166.5,27.9 L167.0,30.0 L167.5,32.2 L168.0,33.7 L168.5,34.9 L169.0,36.1 L169.5,37.2 L170.0,38.6 L170.5,38.5 L171.0,38.3 L171.5,37.9 L172.0,38.2 L172.5,39.4 L173.0,40.7 L173.5,42.0 L174.0,43.3 L174.5,44.8 L175.0,47.0 L175.5,49.2 L176.0,51.5 L176.5,53.8 L177.0,56.3 L177.5,58.5 L178.0,59.4 L178.5,58.3 L179.0,56.8 L179.5,55.7 L180.0,58.5 L180.5,61.6 L181.0,65.3 L181.5,69.7 L182.0,74.2 L182.5,78.7 L183.0,82.0 L183.5,85.2 L184.0,88.0 L184.5,88.6 L185.0,88.2 L185.5,87.6 L186.0,87.0 L186.5,84.4 L187.0,82.1 L187.5,79.5 L188.0,77.6 L188.5,75.5 L189.0,74.2 L189.5,72.8 L190.0,71.3 L190.5,69.9 L191.0,69.5 L191.5,68.7 L192.0,68.5 L192.5,68.3 L193.0,69.4 L193.5,70.4 L194.0,71.3 L194.5,72.8 L195.0,75.2 L195.5,77.5 L196.0,79.8 L196.5,81.9 L197.0,84.4 L197.5,86.7 L198.0,89.2 L198.5,91.4 L199.0,89.8 L199.5,88.6 L200.0,87.0 L200.5,85.9 L201.0,84.1 L201.5,82.5 L202.0,81.5 L202.5,81.5 L203.0,81.2 L203.5,81.5 L204.0,83.1 L204.5,84.4 L205.0,85.5 L205.5,86.2 L206.0,87.1 L206.5,85.9 L207.0,84.5 L207.5,83.1 L208.0,80.9 L208.5,80.2 L209.0,78.8 L209.5,77.6 L210.0,77.2 L210.5,78.5 L211.0,80.3 L211.5,81.7 L212.0,84.3 L212.5,86.8 L213.0,88.7 L213.5,91.0 L214.0,91.0 L214.5,88.9 L215.0,86.9 L215.5,85.1 L216.0,82.2 L216.5,80.3 L217.0,78.2 L217.5,80.3 L218.0,81.8 L218.5,84.9 L219.0,86.8 L219.5,85.0 L220.0,84.7 L220.5,82.6 L221.0,81.1 L221.5,80.0 L222.0,79.2 L222.5,79.3 L223.0,81.8 L223.5,83.4 L224.0,85.5 L224.5,89.0 L225.0,91.6 L225.5,94.4 L226.0,100.5 L226.5,104.5 L227.0,101.0 L227.5,95.5 L228.0,90.7 L228.5,86.9 L229.0,88.4 L229.5,90.3 L230.0,94.0 L230.5,99.8 L231.0,104.3 L231.5,110.0 L232.0,114.9 L232.5,118.0 L233.0,121.9 L233.5,122.2 L234.0,123.9 L234.5,124.5 L235.0,125.4 L235.5,125.2 L236.0,123.1 L236.5,122.1 L237.0,121.0 L237.5,117.8 L238.0,115.8 L238.5,111.8 L239.0,107.7 L239.5,102.8 L240.0,99.0 L240.5,95.1 L241.0,91.6 L241.5,88.3 L242.0,85.7 L242.5,84.5 L243.0,84.8 L243.5,85.0 L244.0,86.7 L244.5,88.7 L245.0,91.1 L245.5,91.7 L246.0,92.2 L246.5,92.6 L247.0,91.0 L247.5,90.7 L248.0,90.1 L248.5,90.1 L249.0,90.6 L249.5,91.6 L250.0,93.8 L250.5,95.2 L251.0,97.1 L251.5,98.3 L252.0,98.7 L252.5,100.4 L253.0,101.2 L253.5,102.3 L254.0,103.0 L254.5,103.1 L255.0,103.4 L255.5,103.7 L256.0,104.5 L256.5,104.0 L257.0,103.8 L257.5,102.7 L258.0,102.5 L258.5,101.1 L259.0,100.3 L259.5,98.7 L260.0,97.4 L260.5,97.0 L261.0,95.2 L261.5,95.0 L262.0,95.3 L262.5,95.1 L263.0,96.5 L263.5,99.2 L264.0,101.2 L264.5,105.7 L265.0,110.5 L265.5,116.0 L266.0,122.3 L266.5,126.4 L267.0,129.9 L267.5,132.1 L268.0,133.8 L268.5,133.7 L269.0,134.8 L269.5,136.5 L270.0,135.8 L270.5,137.7 L271.0,138.2 L271.5,139.0 L272.0,138.4 L272.5,138.1 L273.0,139.7 L273.5,138.5 L274.0,139.8 L274.5,139.5 L275.0,138.6 L275.5,140.0 L276.0,140.4 L276.5,140.8 L277.0,140.9 L277.5,139.6 L278.0,141.0 L278.5,140.4 L279.0,140.5 L279.5,141.4 L280.0,140.2 L280.5,141.7 L281.0,141.3 L281.5,140.2 L282.0,140.8 L282.5,140.7 L283.0,140.9 L283.5,141.4 L284.0,141.8 L284.5,142.1 L285.0,141.2 L285.5,141.7 L286.0,141.0 L286.5,141.2 L287.0,141.2 L287.5,141.8 L288.0,140.6 L288.5,141.0 L289.0,140.6 L289.5,141.3 L290.0,141.2 L290.5,141.3 L291.0,140.0 L291.5,140.5 L292.0,140.6 L292.5,140.8 L293.0,140.2 L293.5,140.7 L294.0,140.6 L294.5,140.4 L295.0,139.6 L295.5,139.9 L296.0,140.3 L296.5,140.0 L297.0,139.8 L297.5,139.7 L298.0,139.7 L298.5,139.7 L299.0,139.5 L299.5,139.5 L300.0,139.4 L300.5,139.3 L301.0,139.2 L301.5,139.1 L302.0,139.0 L302.5,138.9 L303.0,138.8 L303.5,138.7 L304.0,138.6 L304.5,138.5 L305.0,138.4 L305.5,138.3 L306.0,138.2 L306.5,138.1 L307.0,138.1 L307.5,138.0 L308.0,138.0 L308.5,137.9 L309.0,137.9 L309.5,137.8 L310.0,137.8 L310.5,137.7 L311.0,137.7 L311.5,137.6 L312.0,137.6 L312.5,137.5 L313.0,137.5 L313.5,137.4 L314.0,137.4 L314.5,137.3 L315.0,137.3 L315.5,137.2 L316.0,137.2 L316.5,137.2 L317.0,137.3 L317.5,137.3 L318.0,137.3 L318.5,137.4 L319.0,137.4 L319.5,137.4 L320.0,137.4 L320.5,137.5 L321.0,137.5 L321.5,137.5 L322.0,137.5 L322.5,137.6 L323.0,137.6 L323.5,137.6 L324.0,137.7 L324.5,137.7 L325.0,137.7 L325.5,137.7 L326.0,137.7 L326.5,137.8 L327.0,137.8 L327.5,137.8 L328.0,137.8 L328.5,137.9 L329.0,137.9 L329.5,137.9 L330.0,137.9 L330.5,137.9 L331.0,138.0 L331.5,138.0 L332.0,138.0 L332.5,138.0 L333.0,138.1 L333.5,138.1 L334.0,138.1 L334.5,138.0 L335.0,138.0 L335.5,137.9 L336.0,137.8 L336.5,137.7 L337.0,137.6 L337.5,137.5 L338.0,137.5 L338.5,137.4 L339.0,137.3 L339.5,137.2 L340.0,136.9 L340.5,136.6 L341.0,136.2 L341.5,135.9 L342.0,135.6 L342.5,135.1 L343.0,134.3 L343.5,133.4 L344.0,132.6 L344.5,131.7 L345.0,130.9 L345.5,129.9 L346.0,129.0 L346.5,128.0 L347.0,126.3 L347.5,124.1 L348.0,121.8 L348.5,119.5 L349.0,120.6 L349.5,124.2 L350.0,126.7 L350.5,122.6 L351.0,118.4 L351.5,116.0 L352.0,116.2 L352.5,118.9 L353.0,121.7 L353.5,125.2 L354.0,128.7 L354.5,131.3 L355.0,132.9 L355.5,134.5 L356.0,135.4 L356.5,135.4 L357.0,135.5 L357.5,135.5 L358.0,135.5 L358.5,135.4 L359.0,135.3 L359.5,135.3 L360.0,135.2 L360.5,135.1 L361.0,135.0 L361.5,134.9 L362.0,134.7 L362.5,134.4 L363.0,134.2 L363.5,133.9 L364.0,133.7 L364.5,133.5 L365.0,133.4 L365.5,133.3 L366.0,133.2 L366.5,133.1 L367.0,133.0 L367.5,132.8 L368.0,132.7 L368.5,132.6 L369.0,132.5 L369.5,132.4 L370.0,132.3 L370.5,132.2 L371.0,132.1 L371.5,132.0 L372.0,131.8 L372.5,131.7 L373.0,131.6 L373.5,131.5 L374.0,131.4 L374.5,131.2 L375.0,131.1 L375.5,131.0 L376.0,130.8 L376.5,130.7 L377.0,130.6 L377.5,130.5 L378.0,130.3 L378.5,130.2 L379.0,130.1 L379.5,129.9 L380.0,129.8 L380.5,129.7 L381.0,129.5 L381.5,129.4 L382.0,129.3 L382.5,129.2 L383.0,129.0 L383.5,128.9 L384.0,128.7 L384.5,128.6 L385.0,128.4 L385.5,128.3 L386.0,128.1 L386.5,128.0 L387.0,127.8 L387.5,127.7 L388.0,127.5 L388.5,127.4 L389.0,127.2 L389.5,127.1 L390.0,126.9 L390.5,126.8 L391.0,126.6 L391.5,126.5 L392.0,126.3 L392.5,126.1 L393.0,126.0 L393.5,125.8 L394.0,125.6 L394.5,125.4 L395.0,125.3 L395.5,125.1 L396.0,124.9 L396.5,124.7 L397.0,124.6 L397.5,124.4 L398.0,124.2 L398.5,124.1 L399.0,123.9 L399.5,123.7 L400.0,123.5 L400.5,123.4 L401.0,123.2 L401.5,123.0 L402.0,122.8 L402.5,122.6 L403.0,122.3 L403.5,122.1 L404.0,121.9 L404.5,121.7 L405.0,121.5 L405.5,121.3 L406.0,121.0 L406.5,120.8 L407.0,120.6 L407.5,120.4 L408.0,120.2 L408.5,119.9 L409.0,119.6 L409.5,119.3 L410.0,118.9 L410.5,118.6 L411.0,118.3 L411.5,117.9 L412.0,117.6 L412.5,117.3 L413.0,116.8 L413.5,116.0 L414.0,115.1 L414.5,114.2 L415.0,113.3 L415.5,112.4 L416.0,111.5 L416.5,110.6 L417.0,109.6 L417.5,108.3 L418.0,107.1 L418.5,105.9 L419.0,104.7 L419.5,103.5 L420.0,102.3 L420.5,100.9 L421.0,99.5 L421.5,98.0 L422.0,96.6 L422.5,95.2 L423.0,93.9 L423.5,93.0 L424.0,92.2 L424.5,91.3 L425.0,90.5 L425.5,89.6 L426.0,89.0 L426.5,88.6 L427.0,88.1 L427.5,87.7 L428.0,87.2 L428.5,86.8 L429.0,86.7 L429.5,86.6 L430.0,86.5 L430.5,86.4 L431.0,86.5 L431.5,86.9 L432.0,87.3 L432.5,87.7 L433.0,88.1 L433.5,89.0 L434.0,90.0 L434.5,91.0 L435.0,92.0 L435.5,93.1 L436.0,94.1 L436.5,95.3 L437.0,96.4 L437.5,97.6 L438.0,98.8 L438.5,99.9 L439.0,100.8 L439.5,101.7 L440.0,102.6 L440.5,103.5 L441.0,104.3 L441.5,105.0 L442.0,105.6 L442.5,106.1 L443.0,106.7 L443.5,107.2 L444.0,107.5 L444.5,107.7 L445.0,107.8 L445.5,108.0 L446.0,107.8 L446.5,107.6 L447.0,107.4 L447.5,107.2 L448.0,106.9 L448.5,106.5 L449.0,106.1 L449.5,105.7 L450.0,105.3 L450.5,104.9 L451.0,104.5 L451.5,103.8 L452.0,103.0 L452.5,102.1 L453.0,101.3 L453.5,100.4 L454.0,99.6 L454.5,98.7 L455.0,97.9 L455.5,97.0 L456.0,96.1 L456.5,95.1 L457.0,94.2 L457.5,93.3 L458.0,92.3 L458.5,91.4 L459.0,90.5 L459.5,89.5 L460.0,88.6 L460.5,87.7 L461.0,86.8 L461.5,85.9 L462.0,85.0 L462.5,84.1 L463.0,83.3 L463.5,82.4 L464.0,81.5 L464.5,80.6 L465.0,79.7 L465.5,78.8 L466.0,77.9 L466.5,76.8 L467.0,75.7 L467.5,74.6 L468.0,73.5 L468.5,72.4 L469.0,71.4 L469.5,70.3 L470.0,69.2 L470.5,68.1 L471.0,67.0 L471.5,65.9 L472.0,64.8 L472.5,63.8 L473.0,62.7 L473.5,61.7 L474.0,60.6 L474.5,59.5 L475.0,58.5 L475.5,57.4 L476.0,56.3 L476.5,55.2 L477.0,54.0 L477.5,53.0 L478.0,52.0 L478.5,51.0 L479.0,49.9 L479.5,48.9 L480.0,47.9 L480.5,46.9 L481.0,45.9 L481.5,44.9 L482.0,44.0 L482.5,43.2 L483.0,42.4 L483.5,41.6 L484.0,40.8 L484.5,40.1 L485.0,39.3 L485.5,38.5 L486.0,37.7 L486.5,36.9 L487.0,36.1 L487.5,35.4 L488.0,34.7 L488.5,34.0 L489.0,33.2 L489.5,32.5 L490.0,31.8 L490.5,31.1 L491.0,30.3 L491.5,29.6 L492.0,28.9 L492.5,28.2 L493.0,27.6 L493.5,27.1 L494.0,26.7 L494.5,26.2 L495.0,25.8 L495.5,25.3 L496.0,24.9 L496.5,24.4 L497.0,24.0 L497.5,23.7 L498.0,23.5 L498.5,23.2 L499.0,23.0 L499.5,22.7 L500.0,22.5 L500.5,22.4 L501.0,22.3 L501.5,22.2 L502.0,22.1 L502.5,22.0 L503.0,22.2 L503.5,22.4 L504.0,22.6 L504.5,22.8 L505.0,23.0 L505.5,23.2 L506.0,23.6 L506.5,24.1 L507.0,24.7 L507.5,25.3 L508.0,25.8 L508.5,26.4 L509.0,26.9 L509.5,27.5 L510.0,28.1 L510.5,29.1 L511.0,30.1 L511.5,31.1 L512.0,32.1 L512.5,33.1 L513.0,34.2 L513.5,35.3 L514.0,36.6 L514.5,37.9 L515.0,39.3 L515.5,40.6 L516.0,42.0 L516.5,43.3 L517.0,44.7 L517.5,46.2 L518.0,47.6 L518.5,49.0 L519.0,50.6 L519.5,52.2 L520.0,53.9 L520.5,55.5 L521.0,57.1 L521.5,58.7 L522.0,60.3 L522.5,61.8 L523.0,63.3 L523.5,64.9 L524.0,66.4 L524.5,67.9 L525.0,69.5 L525.5,71.0 L526.0,73.1 L526.5,75.2 L527.0,77.3 L527.5,79.4 L528.0,81.5 L528.5,83.7 L529.0,86.1 L529.5,88.2 L530.0,90.4 L530.5,92.8 L531.0,94.5 L531.5,96.3 L532.0,97.6 L532.5,100.1 L533.0,102.1 L533.5,103.6 L534.0,105.5 L534.5,106.1 L535.0,108.9 L535.5,112.3 L536.0,113.4 L536.5,116.5 L537.0,117.5 L537.5,121.0 L538.0,119.9 L538.5,120.2 L539.0,121.4 L539.5,122.8 L540.0,124.9 L540.5,125.6 L541.0,128.2 L541.5,127.7 L542.0,129.0 L542.5,130.9 L543.0,129.1 L543.5,126.2 L544.0,130.2 L544.5,131.2 L545.0,132.2 L545.5,131.1 L546.0,131.3 L546.5,131.2 L547.0,132.5 L547.5,133.5 L548.0,128.6 L548.5,131.2 L549.0,132.4 L549.5,130.4 L550.0,133.1 L550.5,133.2 L551.0,133.2 L551.5,133.4 L552.0,132.7 L552.5,132.6 L553.0,133.1 L553.5,133.2 L554.0,133.7 L554.5,134.2 L555.0,132.7 L555.5,133.6 L556.0,133.9 L556.5,132.5 L557.0,133.8 L557.5,133.4 L558.0,132.0 L558.5,133.5 L559.0,133.2 L559.5,130.1 L560.0,132.5 L560.5,132.0 L561.0,130.9 L561.5,131.9 L562.0,134.5 L562.5,135.7 L563.0,133.1 L563.5,133.4 L564.0,132.2 L564.5,131.8 L565.0,133.1 L565.5,133.3 L566.0,134.9 L566.5,136.9 L567.0,133.2 L567.5,133.2 L568.0,135.3 L568.5,131.9 L569.0,137.0 L569.5,134.9 L570.0,134.1 L570.5,134.3 L571.0,134.3 L571.5,132.9 L572.0,133.6 L572.5,134.4 L573.0,134.2 L573.5,131.7 L574.0,132.5 L574.5,133.2 L575.0,131.9 L575.5,133.7 L576.0,131.4 L576.5,132.7 L577.0,133.4 L577.5,132.3 L578.0,133.4 L578.5,131.2 L579.0,133.1 L579.5,134.9 L580.0,134.0 L580.5,136.1 L580.5,174.8 L580.0,176.0 L579.5,174.7 L579.0,175.5 L578.5,176.9 L578.0,173.4 L577.5,172.4 L577.0,174.1 L576.5,175.5 L576.0,175.7 L575.5,175.4 L575.0,176.9 L574.5,173.9 L574.0,175.3 L573.5,174.7 L573.0,179.9 L572.5,174.0 L572.0,175.8 L571.5,176.6 L571.0,176.1 L570.5,175.6 L570.0,174.9 L569.5,174.4 L569.0,176.6 L568.5,176.0 L568.0,178.0 L567.5,176.1 L567.0,175.3 L566.5,177.5 L566.0,177.1 L565.5,176.5 L565.0,176.6 L564.5,177.5 L564.0,176.7 L563.5,173.9 L563.0,174.7 L562.5,177.3 L562.0,174.9 L561.5,178.0 L561.0,175.6 L560.5,176.6 L560.0,174.8 L559.5,174.1 L559.0,176.5 L558.5,177.1 L558.0,173.6 L557.5,178.0 L557.0,177.5 L556.5,177.2 L556.0,174.8 L555.5,176.4 L555.0,177.2 L554.5,174.6 L554.0,176.4 L553.5,176.5 L553.0,174.8 L552.5,176.5 L552.0,175.4 L551.5,175.0 L551.0,175.5 L550.5,173.1 L550.0,176.0 L549.5,170.8 L549.0,174.6 L548.5,173.9 L548.0,173.0 L547.5,175.7 L547.0,171.1 L546.5,174.9 L546.0,173.0 L545.5,174.0 L545.0,173.0 L544.5,171.8 L544.0,169.7 L543.5,171.0 L543.0,172.3 L542.5,169.1 L542.0,169.0 L541.5,168.1 L541.0,167.6 L540.5,166.7 L540.0,166.5 L539.5,164.0 L539.0,162.5 L538.5,160.6 L538.0,158.7 L537.5,158.0 L537.0,154.2 L536.5,152.8 L536.0,150.2 L535.5,148.7 L535.0,146.8 L534.5,145.3 L534.0,143.0 L533.5,141.4 L533.0,140.1 L532.5,138.5 L532.0,136.8 L531.5,136.2 L531.0,133.8 L530.5,132.4 L530.0,129.7 L529.5,127.9 L529.0,125.5 L528.5,123.6 L528.0,121.6 L527.5,119.6 L527.0,117.7 L526.5,115.7 L526.0,113.7 L525.5,111.7 L525.0,110.2 L524.5,108.8 L524.0,107.4 L523.5,105.9 L523.0,104.5 L522.5,103.1 L522.0,101.6 L521.5,100.1 L521.0,98.6 L520.5,97.1 L520.0,95.6 L519.5,94.1 L519.0,92.6 L518.5,91.1 L518.0,89.7 L517.5,88.4 L517.0,87.1 L516.5,85.8 L516.0,84.5 L515.5,83.2 L515.0,82.0 L514.5,80.8 L514.0,79.5 L513.5,78.3 L513.0,77.3 L512.5,76.3 L512.0,75.4 L511.5,74.4 L511.0,73.4 L510.5,72.4 L510.0,71.4 L509.5,70.8 L509.0,70.3 L508.5,69.7 L508.0,69.2 L507.5,68.6 L507.0,68.1 L506.5,67.6 L506.0,67.0 L505.5,66.7 L505.0,66.5 L504.5,66.3 L504.0,66.1 L503.5,65.9 L503.0,65.8 L502.5,65.6 L502.0,65.7 L501.5,65.7 L501.0,65.8 L500.5,65.8 L500.0,65.9 L499.5,66.0 L499.0,66.2 L498.5,66.4 L498.0,66.6 L497.5,66.8 L497.0,67.0 L496.5,67.4 L496.0,67.8 L495.5,68.2 L495.0,68.6 L494.5,69.0 L494.0,69.4 L493.5,69.8 L493.0,70.2 L492.5,70.7 L492.0,71.4 L491.5,72.1 L491.0,72.8 L490.5,73.4 L490.0,74.1 L489.5,74.8 L489.0,75.5 L488.5,76.1 L488.0,76.8 L487.5,77.5 L487.0,78.1 L486.5,78.7 L486.0,79.3 L485.5,79.9 L485.0,80.5 L484.5,81.2 L484.0,81.8 L483.5,82.4 L483.0,83.0 L482.5,83.6 L482.0,84.2 L481.5,84.9 L481.0,85.7 L480.5,86.5 L480.0,87.4 L479.5,88.2 L479.0,89.0 L478.5,89.9 L478.0,90.7 L477.5,91.5 L477.0,92.4 L476.5,93.4 L476.0,94.3 L475.5,95.4 L475.0,96.4 L474.5,97.4 L474.0,98.4 L473.5,99.4 L473.0,100.4 L472.5,101.5 L472.0,102.5 L471.5,103.5 L471.0,104.5 L470.5,105.6 L470.0,106.6 L469.5,107.7 L469.0,108.7 L468.5,109.8 L468.0,110.8 L467.5,111.9 L467.0,112.9 L466.5,113.9 L466.0,115.0 L465.5,115.9 L465.0,116.7 L464.5,117.6 L464.0,118.5 L463.5,119.4 L463.0,120.3 L462.5,121.2 L462.0,122.1 L461.5,123.0 L461.0,123.9 L460.5,124.8 L460.0,125.7 L459.5,126.7 L459.0,127.6 L458.5,128.6 L458.0,129.5 L457.5,130.5 L457.0,131.4 L456.5,132.3 L456.0,133.3 L455.5,134.2 L455.0,135.1 L454.5,136.0 L454.0,136.8 L453.5,137.7 L453.0,138.6 L452.5,139.4 L452.0,140.3 L451.5,141.1 L451.0,141.8 L450.5,142.2 L450.0,142.7 L449.5,143.1 L449.0,143.5 L448.5,143.9 L448.0,144.4 L447.5,144.6 L447.0,144.8 L446.5,145.1 L446.0,145.3 L445.5,145.5 L445.0,145.3 L444.5,145.2 L444.0,145.1 L443.5,144.9 L443.0,144.4 L442.5,143.9 L442.0,143.4 L441.5,142.9 L441.0,142.2 L440.5,141.4 L440.0,140.6 L439.5,139.8 L439.0,138.9 L438.5,138.1 L438.0,137.0 L437.5,135.8 L437.0,134.7 L436.5,133.6 L436.0,132.5 L435.5,131.5 L435.0,130.5 L434.5,129.6 L434.0,128.6 L433.5,127.6 L433.0,126.8 L432.5,126.4 L432.0,126.1 L431.5,125.7 L431.0,125.4 L430.5,125.4 L430.0,125.5 L429.5,125.6 L429.0,125.7 L428.5,125.8 L428.0,126.3 L427.5,126.8 L427.0,127.3 L426.5,127.7 L426.0,128.2 L425.5,128.8 L425.0,129.7 L424.5,130.6 L424.0,131.5 L423.5,132.3 L423.0,133.2 L422.5,134.5 L422.0,136.0 L421.5,137.4 L421.0,138.9 L420.5,140.3 L420.0,141.7 L419.5,143.0 L419.0,144.2 L418.5,145.4 L418.0,146.7 L417.5,147.9 L417.0,149.1 L416.5,150.2 L416.0,151.2 L415.5,152.1 L415.0,153.0 L414.5,153.9 L414.0,154.8 L413.5,155.7 L413.0,156.6 L412.5,157.0 L412.0,157.3 L411.5,157.7 L411.0,158.0 L410.5,158.4 L410.0,158.7 L409.5,159.0 L409.0,159.4 L408.5,159.7 L408.0,160.0 L407.5,160.2 L407.0,160.4 L406.5,160.7 L406.0,160.9 L405.5,161.1 L405.0,161.3 L404.5,161.6 L404.0,161.8 L403.5,162.0 L403.0,162.2 L402.5,162.5 L402.0,162.7 L401.5,162.9 L401.0,163.1 L400.5,163.3 L400.0,163.6 L399.5,163.7 L399.0,163.9 L398.5,164.0 L398.0,164.2 L397.5,164.3 L397.0,164.5 L396.5,164.6 L396.0,164.8 L395.5,164.9 L395.0,165.1 L394.5,165.2 L394.0,165.4 L393.5,165.5 L393.0,165.7 L392.5,165.8 L392.0,166.0 L391.5,166.1 L391.0,166.2 L390.5,166.4 L390.0,166.5 L389.5,166.6 L389.0,166.8 L388.5,166.9 L388.0,167.0 L387.5,167.1 L387.0,167.3 L386.5,167.4 L386.0,167.5 L385.5,167.7 L385.0,167.8 L384.5,167.9 L384.0,168.0 L383.5,168.2 L383.0,168.3 L382.5,168.4 L382.0,168.5 L381.5,168.6 L381.0,168.7 L380.5,168.8 L380.0,169.0 L379.5,169.1 L379.0,169.2 L378.5,169.3 L378.0,169.4 L377.5,169.5 L377.0,169.6 L376.5,169.7 L376.0,169.8 L375.5,169.9 L375.0,170.0 L374.5,170.1 L374.0,170.2 L373.5,170.3 L373.0,170.5 L372.5,170.6 L372.0,170.7 L371.5,170.8 L371.0,170.9 L370.5,171.0 L370.0,171.1 L369.5,171.2 L369.0,171.4 L368.5,171.5 L368.0,171.6 L367.5,171.7 L367.0,171.8 L366.5,171.9 L366.0,172.0 L365.5,172.1 L365.0,172.3 L364.5,172.4 L364.0,172.5 L363.5,172.8 L363.0,173.0 L362.5,173.3 L362.0,173.5 L361.5,173.7 L361.0,173.8 L360.5,173.9 L360.0,174.0 L359.5,174.1 L359.0,174.3 L358.5,174.4 L358.0,174.5 L357.5,174.5 L357.0,174.5 L356.5,174.5 L356.0,174.5 L355.5,173.5 L355.0,172.0 L354.5,170.5 L354.0,167.9 L353.5,164.6 L353.0,161.3 L352.5,158.7 L352.0,156.1 L351.5,155.9 L351.0,157.0 L350.5,159.9 L350.0,162.9 L349.5,161.3 L349.0,160.3 L348.5,161.6 L348.0,163.2 L347.5,164.7 L347.0,166.2 L346.5,167.2 L346.0,168.1 L345.5,169.0 L345.0,170.0 L344.5,170.8 L344.0,171.7 L343.5,172.5 L343.0,173.4 L342.5,174.2 L342.0,174.7 L341.5,175.0 L341.0,175.3 L340.5,175.7 L340.0,176.0 L339.5,176.3 L339.0,176.4 L338.5,176.4 L338.0,176.5 L337.5,176.6 L337.0,176.7 L336.5,176.8 L336.0,176.8 L335.5,176.9 L335.0,177.0 L334.5,177.1 L334.0,177.1 L333.5,177.1 L333.0,177.1 L332.5,177.0 L332.0,177.0 L331.5,177.0 L331.0,177.0 L330.5,176.9 L330.0,176.9 L329.5,176.9 L329.0,176.9 L328.5,176.9 L328.0,176.8 L327.5,176.8 L327.0,176.8 L326.5,176.8 L326.0,176.7 L325.5,176.7 L325.0,176.7 L324.5,176.7 L324.0,176.7 L323.5,176.6 L323.0,176.6 L322.5,176.6 L322.0,176.5 L321.5,176.5 L321.0,176.5 L320.5,176.5 L320.0,176.4 L319.5,176.4 L319.0,176.4 L318.5,176.4 L318.0,176.3 L317.5,176.3 L317.0,176.3 L316.5,176.2 L316.0,176.2 L315.5,176.2 L315.0,176.3 L314.5,176.3 L314.0,176.4 L313.5,176.4 L313.0,176.5 L312.5,176.5 L312.0,176.6 L311.5,176.6 L311.0,176.7 L310.5,176.7 L310.0,176.8 L309.5,176.8 L309.0,176.9 L308.5,176.9 L308.0,177.0 L307.5,177.0 L307.0,177.1 L306.5,177.1 L306.0,177.2 L305.5,177.3 L305.0,177.4 L304.5,177.5 L304.0,177.6 L303.5,177.7 L303.0,177.8 L302.5,177.9 L302.0,178.0 L301.5,178.1 L301.0,178.2 L300.5,178.3 L300.0,178.4 L299.5,178.5 L299.0,178.5 L298.5,178.8 L298.0,178.7 L297.5,178.9 L297.0,178.9 L296.5,179.0 L296.0,179.0 L295.5,178.9 L295.0,179.3 L294.5,179.4 L294.0,179.6 L293.5,179.2 L293.0,179.6 L292.5,180.0 L292.0,179.2 L291.5,180.2 L291.0,180.5 L290.5,179.3 L290.0,179.1 L289.5,180.3 L289.0,180.4 L288.5,180.0 L288.0,180.7 L287.5,180.6 L287.0,180.7 L286.5,180.9 L286.0,181.2 L285.5,180.4 L285.0,180.7 L284.5,179.9 L284.0,180.8 L283.5,181.6 L283.0,180.8 L282.5,180.6 L282.0,180.8 L281.5,181.0 L281.0,179.9 L280.5,180.9 L280.0,180.0 L279.5,181.3 L279.0,181.2 L278.5,180.1 L278.0,180.1 L277.5,179.5 L277.0,182.2 L276.5,180.5 L276.0,180.3 L275.5,179.5 L275.0,179.0 L274.5,179.7 L274.0,178.7 L273.5,179.0 L273.0,178.7 L272.5,179.3 L272.0,178.7 L271.5,177.5 L271.0,176.2 L270.5,178.3 L270.0,175.7 L269.5,174.9 L269.0,172.8 L268.5,173.3 L268.0,171.3 L267.5,168.9 L267.0,166.2 L266.5,162.2 L266.0,157.5 L265.5,151.9 L265.0,145.8 L264.5,138.8 L264.0,134.0 L263.5,130.4 L263.0,127.8 L262.5,125.4 L262.0,124.6 L261.5,123.5 L261.0,125.3 L260.5,126.2 L260.0,128.4 L259.5,129.9 L259.0,131.7 L258.5,132.9 L258.0,134.7 L257.5,135.5 L257.0,136.7 L256.5,136.6 L256.0,137.7 L255.5,138.8 L255.0,138.9 L254.5,138.0 L254.0,137.1 L253.5,136.2 L253.0,136.7 L252.5,135.1 L252.0,134.1 L251.5,132.5 L251.0,130.8 L250.5,129.5 L250.0,127.7 L249.5,125.4 L249.0,123.7 L248.5,123.8 L248.0,123.3 L247.5,123.4 L247.0,123.6 L246.5,124.8 L246.0,125.0 L245.5,124.6 L245.0,123.4 L244.5,120.8 L244.0,118.6 L243.5,117.8 L243.0,117.5 L242.5,115.2 L242.0,118.0 L241.5,119.9 L241.0,122.8 L240.5,126.6 L240.0,130.0 L239.5,134.3 L239.0,138.4 L238.5,142.1 L238.0,145.7 L237.5,149.3 L237.0,151.1 L236.5,152.7 L236.0,153.4 L235.5,154.8 L235.0,155.2 L234.5,154.3 L234.0,152.7 L233.5,151.3 L233.0,150.2 L232.5,147.0 L232.0,143.7 L231.5,139.8 L231.0,134.7 L230.5,129.3 L230.0,124.6 L229.5,121.2 L229.0,120.3 L228.5,118.0 L228.0,121.3 L227.5,126.7 L227.0,131.2 L226.5,134.0 L226.0,130.1 L225.5,123.8 L225.0,121.0 L224.5,118.7 L224.0,115.8 L223.5,114.2 L223.0,111.9 L222.5,110.9 L222.0,111.3 L221.5,111.8 L221.0,113.0 L220.5,113.2 L220.0,114.7 L219.5,115.5 L219.0,116.6 L218.5,114.7 L218.0,114.0 L217.5,111.9 L217.0,111.0 L216.5,111.6 L216.0,113.5 L215.5,115.0 L215.0,114.4 L214.5,116.6 L214.0,117.7 L213.5,118.6 L213.0,115.6 L212.5,113.7 L212.0,111.6 L211.5,109.8 L211.0,108.6 L210.5,107.7 L210.0,105.9 L209.5,106.7 L209.0,107.9 L208.5,108.7 L208.0,110.1 L207.5,111.4 L207.0,112.2 L206.5,113.7 L206.0,114.5 L205.5,114.5 L205.0,114.7 L204.5,114.5 L204.0,114.0 L203.5,113.0 L203.0,112.1 L202.5,111.4 L202.0,111.1 L201.5,111.3 L201.0,112.1 L200.5,113.3 L200.0,114.2 L199.5,115.2 L199.0,115.7 L198.5,116.6 L198.0,114.7 L197.5,113.1 L197.0,111.5 L196.5,110.0 L196.0,108.2 L195.5,106.1 L195.0,104.0 L194.5,102.0 L194.0,100.9 L193.5,100.0 L193.0,99.3 L192.5,98.8 L192.0,98.9 L191.5,99.6 L191.0,100.0 L190.5,100.6 L190.0,102.1 L189.5,103.6 L189.0,105.0 L188.5,106.6 L188.0,108.0 L187.5,111.0 L187.0,113.3 L186.5,116.1 L186.0,118.5 L185.5,119.5 L185.0,120.1 L184.5,121.0 L184.0,120.5 L183.5,117.7 L183.0,115.1 L182.5,111.8 L182.0,107.4 L181.5,103.2 L181.0,98.8 L180.5,95.5 L180.0,92.4 L179.5,89.6 L179.0,91.5 L178.5,92.9 L178.0,94.2 L177.5,93.9 L177.0,91.7 L176.5,89.7 L176.0,87.5 L175.5,85.4 L175.0,83.4 L174.5,81.4 L174.0,80.3 L173.5,79.4 L173.0,78.5 L172.5,77.1 L172.0,76.0 L171.5,76.0 L171.0,76.6 L170.5,77.0 L170.0,77.2 L169.5,76.2 L169.0,75.0 L168.5,74.3 L168.0,73.3 L167.5,72.2 L167.0,70.1 L166.5,68.2 L166.0,66.3 L165.5,65.5 L165.0,64.7 L164.5,64.0 L164.0,63.3 L163.5,63.2 L163.0,63.3 L162.5,63.5 L162.0,63.7 L161.5,64.0 L161.0,66.2 L160.5,68.1 L160.0,70.1 L159.5,72.0 L159.0,74.7 L158.5,77.4 L158.0,79.7 L157.5,82.5 L157.0,84.5 L156.5,86.9 L156.0,89.2 L155.5,91.6 L155.0,94.1 L154.5,97.4 L154.0,101.6 L153.5,107.3 L153.0,112.9 L152.5,117.5 L152.0,121.1 L151.5,125.2 L151.0,131.2 L150.5,134.1 L150.0,138.7 L149.5,140.9 L149.0,143.8 L148.5,145.3 L148.0,147.1 L147.5,150.9 L147.0,152.8 L146.5,153.4 L146.0,154.1 L145.5,153.9 L145.0,154.5 L144.5,155.9 L144.0,156.3 L143.5,153.8 L143.0,151.9 L142.5,150.3 L142.0,152.9 L141.5,153.9 L141.0,155.9 L140.5,158.0 L140.0,160.8 L139.5,161.5 L139.0,162.1 L138.5,161.0 L138.0,162.2 L137.5,164.2 L137.0,164.4 L136.5,166.4 L136.0,166.5 L135.5,166.2 L135.0,166.7 L134.5,166.0 L134.0,165.9 L133.5,165.4 L133.0,164.8 L132.5,163.2 L132.0,161.4 L131.5,163.5 L131.0,164.7 L130.5,165.8 L130.0,167.3 L129.5,166.4 L129.0,168.7 L128.5,168.3 L128.0,167.3 L127.5,169.0 L127.0,167.7 L126.5,167.5 L126.0,168.6 L125.5,165.7 L125.0,166.6 L124.5,166.5 L124.0,166.5 L123.5,165.9 L123.0,166.5 L122.5,166.0 L122.0,163.9 L121.5,164.6 L121.0,162.5 L120.5,160.9 L120.0,161.8 L119.5,158.7 L119.0,158.9 L118.5,158.8 L118.0,158.9 L117.5,156.5 L117.0,156.9 L116.5,155.4 L116.0,156.7 L115.5,156.0 L115.0,152.6 L114.5,150.8 L114.0,152.6 L113.5,152.8 L113.0,152.0 L112.5,148.3 L112.0,148.9 L111.5,148.7 L111.0,147.5 L110.5,145.4 L110.0,142.2 L109.5,140.1 L109.0,136.9 L108.5,135.7 L108.0,137.4 L107.5,139.1 L107.0,140.8 L106.5,139.9 L106.0,138.7 L105.5,137.8 L105.0,140.7 L104.5,137.9 L104.0,137.0 L103.5,136.1 L103.0,136.3 L102.5,135.9 L102.0,135.5 L101.5,135.0 L101.0,135.2 L100.5,135.0 L100.0,133.8 L99.5,135.4 L99.0,135.9 L98.5,135.9 L98.0,136.9 L97.5,136.9 L97.0,138.9 L96.5,140.4 L96.0,139.9 L95.5,138.7 L95.0,141.2 L94.5,141.9 L94.0,144.0 L93.5,141.6 L93.0,144.4 L92.5,142.8 L92.0,144.8 L91.5,147.6 L91.0,144.1 L90.5,146.3 L90.0,147.8 L89.5,148.0 L89.0,148.7 L88.5,150.4 L88.0,151.8 L87.5,148.7 L87.0,148.0 L86.5,152.1 L86.0,151.5 L85.5,150.9 L85.0,154.8 L84.5,157.3 L84.0,155.9 L83.5,156.3 L83.0,155.7 L82.5,159.5 L82.0,155.8 L81.5,158.7 L81.0,157.9 L80.5,163.8 L80.0,165.4 L79.8,162.6 L79.5,163.5 L79.2,160.3 L79.0,160.0 L78.8,166.8 L78.5,163.8 L78.2,165.4 L78.0,167.2 L77.8,169.3 L77.5,168.4 L77.2,167.5 L77.0,170.3 L76.8,169.9 L76.5,171.9 L76.2,170.9 L76.0,178.8 L75.8,173.8 L75.5,175.8 L75.2,182.9 L75.0,181.8 L74.8,184.0 L74.5,186.4 L74.2,184.2 L74.0,186.3 L73.8,191.6 L73.5,189.0 L73.2,188.6 L73.0,195.1 L72.8,199.1 L72.5,197.1 L72.2,196.2 L72.0,194.5 L71.8,200.2 L71.5,198.2 L71.2,199.8 L71.0,198.9 L70.8,203.4 L70.5,202.0 L70.2,203.5 L70.0,203.3 L69.8,198.8 L69.5,205.7 L69.2,197.3 L69.0,201.9 L68.8,201.1 L68.5,200.4 L68.2,199.3 L68.0,203.1 L67.8,198.8 L67.5,204.6 L67.2,204.7 L67.0,201.7 L66.8,201.9 L66.5,195.4Z" fill="#463ce1" fill-opacity="0.3"/>
</g>
<g fill="none" stroke-width="1.7" stroke-linejoin="round" stroke-linecap="butt">
<path d="M66.5,203.9 L66.8,197.9 L67.0,203.4 L67.2,197.0 L67.5,202.5 L67.8,197.0 L68.0,206.9 L68.2,198.7 L68.5,200.6 L68.8,194.9 L69.0,200.4 L69.2,196.8 L69.5,206.7 L69.8,187.0 L70.0,200.9 L70.2,196.2 L70.5,201.9 L70.8,195.6 L71.0,204.3 L71.2,187.0 L71.5,202.2 L71.8,192.8 L72.0,201.4 L72.2,198.7 L72.5,206.2 L72.8,192.9 L73.0,205.6 L73.2,196.1 L73.5,205.3 L73.8,197.8 L74.0,199.4 L74.2,187.0 L74.5,199.3 L74.8,191.5 L75.0,199.9 L75.2,196.1 L75.5,202.9 L75.8,192.1 L76.0,199.3 L76.2,189.9 L76.5,194.8 L76.8,191.0 L77.0,193.4 L77.2,190.6 L77.5,193.8 L77.8,189.4 L78.0,192.0 L78.2,187.5 L78.5,189.2 L78.8,187.9 L79.0,190.0 L79.2,184.6 L79.5,187.8 L79.8,184.0 L80.0,186.4 L80.5,187.6 L81.0,184.8 L81.5,179.6 L82.0,181.3 L82.5,181.0 L83.0,178.5 L83.5,178.8 L84.0,176.4 L84.5,176.8 L85.0,174.8 L85.5,175.6 L86.0,174.3 L86.5,169.5 L87.0,170.1 L87.5,168.8 L88.0,169.6 L88.5,168.2 L89.0,166.2 L89.5,165.3 L90.0,165.8 L90.5,165.2 L91.0,164.9 L91.5,163.2 L92.0,164.1 L92.5,162.3 L93.0,159.5 L93.5,159.5 L94.0,161.3 L94.5,160.2 L95.0,158.3 L95.5,159.9 L96.0,157.5 L96.5,156.2 L97.0,157.4 L97.5,155.6 L98.0,155.6 L98.5,153.5 L99.0,153.5 L99.5,152.5 L100.0,151.6 L100.5,152.1 L101.0,153.3 L101.5,153.5 L102.0,153.9 L102.5,153.1 L103.0,153.9 L103.5,155.0 L104.0,154.1 L104.5,155.1 L105.0,155.2 L105.5,154.4 L106.0,155.4 L106.5,153.5 L107.0,152.9 L107.5,151.9 L108.0,150.8 L108.5,149.8 L109.0,149.7 L109.5,153.3 L110.0,155.7 L110.5,158.2 L111.0,159.5 L111.5,160.7 L112.0,161.3 L112.5,163.5 L113.0,164.1 L113.5,165.2 L114.0,166.0 L114.5,166.9 L115.0,167.3 L115.5,168.2 L116.0,169.4 L116.5,170.2 L117.0,171.4 L117.5,172.7 L118.0,173.0 L118.5,173.7 L119.0,174.0 L119.5,175.2 L120.0,174.6 L120.5,175.6 L121.0,175.3 L121.5,176.2 L122.0,176.8 L122.5,177.0 L123.0,177.4 L123.5,177.8 L124.0,178.1 L124.5,178.3 L125.0,178.3 L125.5,178.9 L126.0,179.3 L126.5,179.6 L127.0,179.7 L127.5,179.7 L128.0,179.6 L128.5,178.7 L129.0,178.4 L129.5,177.8 L130.0,177.2 L130.5,176.8 L131.0,175.8 L131.5,175.7 L132.0,174.6 L132.5,174.0 L133.0,173.4 L133.5,172.6 L134.0,172.2 L134.5,173.0 L135.0,174.3 L135.5,174.5 L136.0,175.6 L136.5,175.3 L137.0,175.0 L137.5,174.6 L138.0,173.9 L138.5,173.5 L139.0,173.1 L139.5,172.6 L140.0,172.2 L140.5,171.5 L141.0,170.6 L141.5,170.1 L142.0,169.2 L142.5,168.5 L143.0,167.8 L143.5,167.2 L144.0,166.4 L144.5,166.1 L145.0,165.6 L145.5,165.0 L146.0,164.4 L146.5,164.0 L147.0,162.3 L147.5,160.7 L148.0,158.7 L148.5,157.1 L149.0,155.0 L149.5,153.2 L150.0,151.2 L150.5,149.4 L151.0,147.1 L151.5,145.4 L152.0,143.4 L152.5,139.7 L153.0,135.9 L153.5,130.3 L154.0,125.4 L154.5,120.4 L155.0,116.3 L155.5,113.2 L156.0,109.8 L156.5,106.6 L157.0,104.2 L157.5,101.9 L158.0,99.8 L158.5,97.8 L159.0,96.0 L159.5,93.9 L160.0,92.2 L160.5,90.6 L161.0,89.4 L161.5,88.4 L162.0,87.2 L162.5,86.5 L163.0,86.0 L163.5,85.8 L164.0,85.7 L164.5,86.8 L165.0,88.1 L165.5,89.2 L166.0,90.3 L166.5,92.2 L167.0,94.0 L167.5,95.6 L168.0,97.3 L168.5,98.3 L169.0,99.1 L169.5,100.1 L170.0,101.1 L170.5,102.1 L171.0,102.7 L171.5,103.6 L172.0,104.6 L172.5,105.4 L173.0,106.3 L173.5,107.2 L174.0,108.3 L174.5,110.3 L175.0,112.0 L175.5,114.1 L176.0,115.9 L176.5,117.0 L177.0,118.4 L177.5,119.6 L178.0,119.8 L178.5,119.4 L179.0,118.6 L179.5,120.0 L180.0,122.8 L180.5,126.0 L181.0,129.3 L181.5,132.9 L182.0,136.4 L182.5,139.1 L183.0,140.4 L183.5,141.5 L184.0,142.7 L184.5,143.0 L185.0,142.5 L185.5,141.9 L186.0,141.2 L186.5,139.5 L187.0,137.7 L187.5,135.7 L188.0,134.0 L188.5,132.3 L189.0,131.6 L189.5,130.3 L190.0,129.5 L190.5,128.8 L191.0,128.4 L191.5,128.0 L192.0,127.8 L192.5,127.6 L193.0,128.3 L193.5,128.8 L194.0,129.0 L194.5,130.0 L195.0,131.9 L195.5,133.7 L196.0,135.6 L196.5,136.7 L197.0,137.9 L197.5,139.1 L198.0,140.3 L198.5,141.5 L199.0,140.4 L199.5,139.7 L200.0,138.8 L200.5,137.9 L201.0,137.1 L201.5,136.1 L202.0,135.0 L202.5,134.0 L203.0,134.6 L203.5,135.2 L204.0,135.9 L204.5,135.6 L205.0,135.4 L205.5,135.1 L206.0,134.6 L206.5,133.7 L207.0,132.9 L207.5,131.6 L208.0,130.6 L208.5,129.7 L209.0,129.4 L209.5,128.9 L210.0,128.7 L210.5,129.8 L211.0,130.6 L211.5,131.7 L212.0,133.1 L212.5,135.6 L213.0,137.0 L213.5,139.0 L214.0,139.6 L214.5,140.4 L215.0,140.3 L215.5,138.7 L216.0,138.0 L216.5,136.3 L217.0,135.1 L217.5,134.1 L218.0,133.4 L218.5,133.2 L219.0,135.2 L219.5,135.9 L220.0,135.8 L220.5,134.3 L221.0,133.7 L221.5,133.2 L222.0,133.0 L222.5,132.7 L223.0,133.7 L223.5,135.4 L224.0,137.9 L224.5,141.2 L225.0,143.6 L225.5,147.0 L226.0,150.0 L226.5,151.8 L227.0,149.7 L227.5,146.4 L228.0,143.2 L228.5,140.9 L229.0,143.2 L229.5,145.3 L230.0,148.0 L230.5,151.3 L231.0,154.1 L231.5,155.5 L232.0,157.5 L232.5,159.3 L233.0,161.0 L233.5,161.6 L234.0,161.6 L234.5,162.1 L235.0,163.1 L235.5,162.9 L236.0,161.9 L236.5,161.3 L237.0,160.8 L237.5,158.8 L238.0,156.6 L238.5,154.5 L239.0,152.3 L239.5,149.0 L240.0,145.8 L240.5,142.6 L241.0,139.5 L241.5,137.2 L242.0,136.1 L242.5,134.5 L243.0,135.0 L243.5,135.2 L244.0,136.1 L244.5,137.7 L245.0,138.4 L245.5,138.1 L246.0,138.0 L246.5,136.8 L247.0,137.0 L247.5,136.3 L248.0,135.5 L248.5,134.9 L249.0,135.7 L249.5,136.7 L250.0,137.4 L250.5,138.9 L251.0,140.5 L251.5,141.7 L252.0,143.0 L252.5,143.7 L253.0,144.7 L253.5,144.5 L254.0,145.1 L254.5,145.9 L255.0,146.2 L255.5,146.3 L256.0,145.5 L256.5,145.2 L257.0,144.1 L257.5,143.9 L258.0,143.3 L258.5,142.3 L259.0,141.1 L259.5,140.6 L260.0,139.9 L260.5,139.1 L261.0,138.9 L261.5,138.3 L262.0,139.0 L262.5,139.9 L263.0,142.9 L263.5,146.6 L264.0,150.7 L264.5,154.7 L265.0,159.5 L265.5,163.4 L266.0,169.5 L266.5,172.1 L267.0,174.3 L267.5,176.7 L268.0,177.4 L268.5,180.0 L269.0,179.5 L269.5,180.9 L270.0,181.2 L270.5,181.3 L271.0,182.1 L271.5,182.3 L272.0,181.5 L272.5,183.2 L273.0,183.8 L273.5,184.9 L274.0,184.0 L274.5,185.0 L275.0,184.0 L275.5,184.2 L276.0,183.8 L276.5,185.6 L277.0,184.7 L277.5,184.7 L278.0,185.3 L278.5,185.2 L279.0,185.4 L279.5,186.1 L280.0,185.4 L280.5,185.8 L281.0,185.4 L281.5,185.4 L282.0,186.1 L282.5,185.7 L283.0,185.4 L283.5,186.3 L284.0,185.2 L284.5,185.2 L285.0,185.9 L285.5,185.9 L286.0,185.9 L286.5,185.6 L287.0,185.2 L287.5,185.6 L288.0,184.8 L288.5,185.8 L289.0,185.3 L289.5,184.6 L290.0,185.4 L290.5,185.4 L291.0,185.0 L291.5,185.3 L292.0,185.1 L292.5,185.2 L293.0,184.8 L293.5,185.0 L294.0,185.0 L294.5,184.4 L295.0,185.0 L295.5,184.9 L296.0,184.8 L296.5,184.6 L297.0,184.8 L297.5,184.7 L298.0,184.7 L298.5,184.5 L299.0,184.5 L299.5,184.5 L300.0,184.4 L300.5,184.3 L301.0,184.3 L301.5,184.3 L302.0,184.2 L302.5,184.2 L303.0,184.1 L303.5,184.1 L304.0,184.0 L304.5,184.0 L305.0,183.9 L305.5,183.9 L306.0,183.8 L306.5,183.8 L307.0,183.7 L307.5,183.7 L308.0,183.6 L308.5,183.6 L309.0,183.5 L309.5,183.5 L310.0,183.4 L310.5,183.4 L311.0,183.4 L311.5,183.4 L312.0,183.4 L312.5,183.4 L313.0,183.4 L313.5,183.4 L314.0,183.4 L314.5,183.4 L315.0,183.4 L315.5,183.4 L316.0,183.4 L316.5,183.4 L317.0,183.4 L317.5,183.4 L318.0,183.4 L318.5,183.4 L319.0,183.4 L319.5,183.4 L320.0,183.4 L320.5,183.4 L321.0,183.4 L321.5,183.4 L322.0,183.4 L322.5,183.4 L323.0,183.4 L323.5,183.4 L324.0,183.4 L324.5,183.4 L325.0,183.4 L325.5,183.4 L326.0,183.5 L326.5,183.5 L327.0,183.5 L327.5,183.5 L328.0,183.6 L328.5,183.6 L329.0,183.6 L329.5,183.7 L330.0,183.7 L330.5,183.7 L331.0,183.7 L331.5,183.8 L332.0,183.8 L332.5,183.8 L333.0,183.8 L333.5,183.9 L334.0,183.9 L334.5,183.9 L335.0,184.0 L335.5,184.0 L336.0,184.0 L336.5,183.9 L337.0,183.8 L337.5,183.7 L338.0,183.6 L338.5,183.5 L339.0,183.4 L339.5,183.3 L340.0,183.2 L340.5,183.1 L341.0,182.3 L341.5,181.5 L342.0,180.7 L342.5,180.0 L343.0,179.2 L343.5,178.2 L344.0,177.0 L344.5,175.7 L345.0,174.4 L345.5,173.2 L346.0,171.7 L346.5,170.1 L347.0,168.6 L347.5,167.1 L348.0,165.6 L348.5,164.0 L349.0,162.7 L349.5,161.5 L350.0,162.9 L350.5,164.1 L351.0,162.0 L351.5,161.0 L352.0,163.9 L352.5,166.8 L353.0,170.8 L353.5,174.7 L354.0,178.7 L354.5,180.1 L355.0,181.5 L355.5,182.4 L356.0,182.3 L356.5,182.3 L357.0,182.2 L357.5,182.2 L358.0,182.1 L358.5,181.9 L359.0,181.7 L359.5,181.5 L360.0,181.4 L360.5,181.2 L361.0,181.0 L361.5,180.8 L362.0,180.6 L362.5,180.4 L363.0,180.2 L363.5,180.1 L364.0,179.9 L364.5,179.7 L365.0,179.6 L365.5,179.5 L366.0,179.4 L366.5,179.2 L367.0,179.1 L367.5,179.0 L368.0,178.9 L368.5,178.8 L369.0,178.7 L369.5,178.5 L370.0,178.4 L370.5,178.3 L371.0,178.2 L371.5,178.1 L372.0,177.9 L372.5,177.8 L373.0,177.7 L373.5,177.6 L374.0,177.5 L374.5,177.4 L375.0,177.3 L375.5,177.2 L376.0,177.1 L376.5,177.0 L377.0,176.9 L377.5,176.8 L378.0,176.7 L378.5,176.6 L379.0,176.5 L379.5,176.4 L380.0,176.3 L380.5,176.2 L381.0,176.1 L381.5,176.0 L382.0,175.9 L382.5,175.8 L383.0,175.7 L383.5,175.6 L384.0,175.5 L384.5,175.3 L385.0,175.2 L385.5,175.1 L386.0,175.0 L386.5,174.8 L387.0,174.7 L387.5,174.6 L388.0,174.5 L388.5,174.3 L389.0,174.2 L389.5,174.1 L390.0,174.0 L390.5,173.8 L391.0,173.7 L391.5,173.6 L392.0,173.4 L392.5,173.3 L393.0,173.2 L393.5,173.0 L394.0,172.9 L394.5,172.8 L395.0,172.6 L395.5,172.5 L396.0,172.4 L396.5,172.2 L397.0,172.1 L397.5,172.0 L398.0,171.8 L398.5,171.7 L399.0,171.5 L399.5,171.4 L400.0,171.3 L400.5,171.1 L401.0,171.0 L401.5,170.8 L402.0,170.7 L402.5,170.5 L403.0,170.4 L403.5,170.2 L404.0,170.1 L404.5,169.9 L405.0,169.8 L405.5,169.6 L406.0,169.5 L406.5,169.3 L407.0,169.2 L407.5,169.0 L408.0,168.9 L408.5,168.7 L409.0,168.4 L409.5,168.1 L410.0,167.9 L410.5,167.6 L411.0,167.3 L411.5,167.1 L412.0,166.8 L412.5,166.5 L413.0,166.2 L413.5,165.7 L414.0,165.1 L414.5,164.6 L415.0,164.0 L415.5,163.5 L416.0,162.2 L416.5,161.0 L417.0,159.8 L417.5,158.5 L418.0,157.1 L418.5,155.6 L419.0,154.2 L419.5,152.8 L420.0,151.7 L420.5,150.6 L421.0,149.5 L421.5,148.4 L422.0,147.3 L422.5,146.5 L423.0,145.9 L423.5,145.3 L424.0,144.8 L424.5,144.2 L425.0,143.7 L425.5,143.1 L426.0,142.6 L426.5,142.2 L427.0,141.8 L427.5,141.4 L428.0,140.9 L428.5,140.6 L429.0,140.4 L429.5,140.3 L430.0,140.1 L430.5,140.0 L431.0,140.1 L431.5,140.5 L432.0,140.9 L432.5,141.3 L433.0,141.7 L433.5,142.6 L434.0,143.6 L434.5,144.5 L435.0,145.4 L435.5,146.3 L436.0,147.5 L436.5,148.8 L437.0,150.1 L437.5,151.3 L438.0,152.6 L438.5,153.6 L439.0,154.4 L439.5,155.2 L440.0,156.0 L440.5,156.8 L441.0,157.2 L441.5,157.6 L442.0,158.0 L442.5,158.4 L443.0,158.8 L443.5,159.0 L444.0,159.1 L444.5,159.1 L445.0,159.2 L445.5,159.0 L446.0,158.7 L446.5,158.5 L447.0,158.2 L447.5,158.0 L448.0,157.7 L448.5,157.3 L449.0,156.8 L449.5,156.4 L450.0,155.9 L450.5,155.4 L451.0,155.0 L451.5,154.5 L452.0,153.8 L452.5,153.1 L453.0,152.4 L453.5,151.7 L454.0,151.0 L454.5,150.3 L455.0,149.6 L455.5,148.9 L456.0,148.2 L456.5,147.5 L457.0,146.8 L457.5,146.1 L458.0,145.2 L458.5,144.4 L459.0,143.6 L459.5,142.8 L460.0,142.0 L460.5,141.1 L461.0,140.3 L461.5,139.5 L462.0,138.7 L462.5,137.9 L463.0,137.0 L463.5,136.2 L464.0,135.4 L464.5,134.6 L465.0,133.7 L465.5,132.9 L466.0,132.1 L466.5,131.3 L467.0,130.5 L467.5,129.6 L468.0,128.8 L468.5,128.0 L469.0,127.2 L469.5,126.3 L470.0,125.5 L470.5,124.7 L471.0,123.8 L471.5,123.0 L472.0,122.1 L472.5,121.3 L473.0,120.5 L473.5,119.6 L474.0,118.8 L474.5,118.0 L475.0,117.3 L475.5,116.5 L476.0,115.8 L476.5,115.0 L477.0,114.3 L477.5,113.5 L478.0,112.8 L478.5,112.0 L479.0,111.3 L479.5,110.5 L480.0,109.9 L480.5,109.3 L481.0,108.6 L481.5,108.0 L482.0,107.4 L482.5,106.8 L483.0,106.1 L483.5,105.5 L484.0,104.9 L484.5,104.3 L485.0,103.7 L485.5,103.1 L486.0,102.5 L486.5,101.9 L487.0,101.3 L487.5,100.8 L488.0,100.3 L488.5,99.8 L489.0,99.3 L489.5,98.8 L490.0,98.3 L490.5,97.8 L491.0,97.3 L491.5,96.8 L492.0,96.3 L492.5,95.8 L493.0,95.3 L493.5,94.9 L494.0,94.4 L494.5,94.0 L495.0,93.5 L495.5,93.0 L496.0,92.6 L496.5,92.1 L497.0,91.6 L497.5,91.2 L498.0,90.8 L498.5,90.3 L499.0,89.9 L499.5,89.5 L500.0,89.1 L500.5,88.7 L501.0,88.4 L501.5,88.3 L502.0,88.2 L502.5,88.1 L503.0,88.0 L503.5,88.2 L504.0,88.4 L504.5,88.6 L505.0,88.8 L505.5,89.0 L506.0,89.3 L506.5,89.8 L507.0,90.3 L507.5,90.8 L508.0,91.3 L508.5,91.8 L509.0,92.2 L509.5,92.7 L510.0,93.3 L510.5,94.2 L511.0,95.1 L511.5,96.0 L512.0,96.9 L512.5,97.8 L513.0,98.7 L513.5,99.6 L514.0,100.5 L514.5,101.4 L515.0,102.5 L515.5,103.4 L516.0,104.5 L516.5,105.6 L517.0,106.6 L517.5,107.6 L518.0,109.0 L518.5,110.0 L519.0,110.2 L519.5,111.9 L520.0,112.2 L520.5,113.8 L521.0,116.2 L521.5,117.4 L522.0,118.1 L522.5,118.5 L523.0,120.0 L523.5,121.2 L524.0,121.7 L524.5,125.0 L525.0,125.7 L525.5,128.6 L526.0,128.3 L526.5,128.1 L527.0,133.0 L527.5,132.6 L528.0,134.1 L528.5,137.5 L529.0,138.6 L529.5,139.0 L530.0,143.2 L530.5,143.1 L531.0,143.8 L531.5,145.9 L532.0,149.5 L532.5,152.3 L533.0,150.1 L533.5,151.5 L534.0,155.0 L534.5,158.4 L535.0,157.7 L535.5,160.7 L536.0,163.1 L536.5,164.5 L537.0,163.6 L537.5,168.3 L538.0,169.9 L538.5,173.4 L539.0,173.6 L539.5,171.3 L540.0,174.5 L540.5,174.1 L541.0,178.9 L541.5,178.5 L542.0,178.2 L542.5,176.1 L543.0,176.5 L543.5,177.2 L544.0,181.0 L544.5,180.4 L545.0,179.3 L545.5,178.1 L546.0,179.6 L546.5,178.6 L547.0,180.9 L547.5,179.6 L548.0,183.0 L548.5,180.6 L549.0,179.1 L549.5,181.7 L550.0,183.8 L550.5,180.3 L551.0,184.2 L551.5,181.4 L552.0,181.0 L552.5,178.7 L553.0,184.4 L553.5,183.5 L554.0,182.7 L554.5,180.0 L555.0,183.7 L555.5,182.0 L556.0,182.5 L556.5,183.4 L557.0,182.1 L557.5,184.2 L558.0,181.6 L558.5,182.9 L559.0,185.4 L559.5,182.4 L560.0,181.7 L560.5,184.1 L561.0,182.4 L561.5,181.7 L562.0,181.8 L562.5,182.8 L563.0,182.7 L563.5,183.1 L564.0,180.5 L564.5,181.6 L565.0,180.9 L565.5,183.1 L566.0,181.3 L566.5,182.7 L567.0,183.6 L567.5,183.1 L568.0,182.0 L568.5,183.5 L569.0,184.3 L569.5,183.1 L570.0,182.7 L570.5,184.2 L571.0,182.6 L571.5,182.2 L572.0,183.7 L572.5,181.0 L573.0,182.2 L573.5,185.4 L574.0,184.0 L574.5,184.1 L575.0,182.1 L575.5,182.1 L576.0,184.0 L576.5,182.9 L577.0,184.1 L577.5,185.1 L578.0,184.8 L578.5,185.7 L579.0,182.8 L579.5,185.9 L580.0,182.5 L580.5,183.8" stroke="#c4440f"/>
<path d="M66.5,181.5 L66.8,178.5 L67.0,182.9 L67.2,177.2 L67.5,187.5 L67.8,178.6 L68.0,187.5 L68.2,173.0 L68.5,190.0 L68.8,174.4 L69.0,181.6 L69.2,180.6 L69.5,182.9 L69.8,181.0 L70.0,186.8 L70.2,176.1 L70.5,182.5 L70.8,172.9 L71.0,187.7 L71.2,177.7 L71.5,190.0 L71.8,182.6 L72.0,188.3 L72.2,182.8 L72.5,185.3 L72.8,178.6 L73.0,186.8 L73.2,183.9 L73.5,187.0 L73.8,183.7 L74.0,190.0 L74.2,183.1 L74.5,190.0 L74.8,180.7 L75.0,186.3 L75.2,179.3 L75.5,184.3 L75.8,183.3 L76.0,185.3 L76.2,182.8 L76.5,183.6 L76.8,179.2 L77.0,183.7 L77.2,180.3 L77.5,183.6 L77.8,178.8 L78.0,182.6 L78.2,175.8 L78.5,179.8 L78.8,175.0 L79.0,178.7 L79.2,174.9 L79.5,176.6 L79.8,174.3 L80.0,172.0 L80.5,172.6 L81.0,170.7 L81.5,171.5 L82.0,170.1 L82.5,167.9 L83.0,166.1 L83.5,166.5 L84.0,164.2 L84.5,164.4 L85.0,162.9 L85.5,160.1 L86.0,161.3 L86.5,157.7 L87.0,156.6 L87.5,155.5 L88.0,153.2 L88.5,152.8 L89.0,150.6 L89.5,147.3 L90.0,149.8 L90.5,147.5 L91.0,146.9 L91.5,144.2 L92.0,144.2 L92.5,143.5 L93.0,143.3 L93.5,143.8 L94.0,143.6 L94.5,140.6 L95.0,140.8 L95.5,140.7 L96.0,139.6 L96.5,139.4 L97.0,138.7 L97.5,139.2 L98.0,137.7 L98.5,137.0 L99.0,136.9 L99.5,135.5 L100.0,134.8 L100.5,134.5 L101.0,134.1 L101.5,133.1 L102.0,135.4 L102.5,135.0 L103.0,135.0 L103.5,135.3 L104.0,136.6 L104.5,136.1 L105.0,137.3 L105.5,137.5 L106.0,137.8 L106.5,137.7 L107.0,136.4 L107.5,135.8 L108.0,135.3 L108.5,135.5 L109.0,138.0 L109.5,140.0 L110.0,141.7 L110.5,142.4 L111.0,144.3 L111.5,145.3 L112.0,145.7 L112.5,146.5 L113.0,146.7 L113.5,147.4 L114.0,148.1 L114.5,148.9 L115.0,148.7 L115.5,150.0 L116.0,150.3 L116.5,151.1 L117.0,151.3 L117.5,152.2 L118.0,152.3 L118.5,153.9 L119.0,154.1 L119.5,154.1 L120.0,154.9 L120.5,155.3 L121.0,155.5 L121.5,155.8 L122.0,156.1 L122.5,157.1 L123.0,157.3 L123.5,157.7 L124.0,157.7 L124.5,158.3 L125.0,158.8 L125.5,159.0 L126.0,159.4 L126.5,159.7 L127.0,160.4 L127.5,160.1 L128.0,160.4 L128.5,160.3 L129.0,160.4 L129.5,160.3 L130.0,159.9 L130.5,159.4 L131.0,158.3 L131.5,158.1 L132.0,157.4 L132.5,157.4 L133.0,158.5 L133.5,159.5 L134.0,159.9 L134.5,159.3 L135.0,159.3 L135.5,158.9 L136.0,158.9 L136.5,158.6 L137.0,158.1 L137.5,157.9 L138.0,158.0 L138.5,157.4 L139.0,157.0 L139.5,156.6 L140.0,156.2 L140.5,155.9 L141.0,155.3 L141.5,154.6 L142.0,153.9 L142.5,153.5 L143.0,152.9 L143.5,153.1 L144.0,153.3 L144.5,153.0 L145.0,153.5 L145.5,153.8 L146.0,152.8 L146.5,151.6 L147.0,150.8 L147.5,149.1 L148.0,147.8 L148.5,146.6 L149.0,144.5 L149.5,141.8 L150.0,139.0 L150.5,136.7 L151.0,134.2 L151.5,130.3 L152.0,126.2 L152.5,122.2 L153.0,119.2 L153.5,116.5 L154.0,113.7 L154.5,110.5 L155.0,107.7 L155.5,105.8 L156.0,104.0 L156.5,102.4 L157.0,99.6 L157.5,97.4 L158.0,95.2 L158.5,93.1 L159.0,91.2 L159.5,88.8 L160.0,87.4 L160.5,86.9 L161.0,86.0 L161.5,85.3 L162.0,84.3 L162.5,84.3 L163.0,84.6 L163.5,84.7 L164.0,84.9 L164.5,86.3 L165.0,87.4 L165.5,88.6 L166.0,90.4 L166.5,92.2 L167.0,93.6 L167.5,95.4 L168.0,96.6 L168.5,97.8 L169.0,98.7 L169.5,99.8 L170.0,100.2 L170.5,100.3 L171.0,100.5 L171.5,100.8 L172.0,101.3 L172.5,101.8 L173.0,102.6 L173.5,103.7 L174.0,104.6 L174.5,105.8 L175.0,107.0 L175.5,108.3 L176.0,109.6 L176.5,110.7 L177.0,112.0 L177.5,113.1 L178.0,114.6 L178.5,113.6 L179.0,112.1 L179.5,112.2 L180.0,114.6 L180.5,116.8 L181.0,120.3 L181.5,123.8 L182.0,127.4 L182.5,129.9 L183.0,130.6 L183.5,131.8 L184.0,132.6 L184.5,132.7 L185.0,132.2 L185.5,131.8 L186.0,131.2 L186.5,129.4 L187.0,128.1 L187.5,126.2 L188.0,124.5 L188.5,123.4 L189.0,122.4 L189.5,121.4 L190.0,120.6 L190.5,119.2 L191.0,119.1 L191.5,119.0 L192.0,118.6 L192.5,118.5 L193.0,118.9 L193.5,119.4 L194.0,119.9 L194.5,120.6 L195.0,122.1 L195.5,124.1 L196.0,125.5 L196.5,126.6 L197.0,127.6 L197.5,128.6 L198.0,129.3 L198.5,130.4 L199.0,129.9 L199.5,129.3 L200.0,129.0 L200.5,128.2 L201.0,127.5 L201.5,126.8 L202.0,126.2 L202.5,126.1 L203.0,126.6 L203.5,127.2 L204.0,127.6 L204.5,127.2 L205.0,127.2 L205.5,126.9 L206.0,126.3 L206.5,125.6 L207.0,124.9 L207.5,123.8 L208.0,123.2 L208.5,122.7 L209.0,122.3 L209.5,121.6 L210.0,121.5 L210.5,122.4 L211.0,122.8 L211.5,123.5 L212.0,124.8 L212.5,126.3 L213.0,127.8 L213.5,129.0 L214.0,129.6 L214.5,129.8 L215.0,130.2 L215.5,129.1 L216.0,127.6 L216.5,126.7 L217.0,125.9 L217.5,124.6 L218.0,124.7 L218.5,124.0 L219.0,125.5 L219.5,124.9 L220.0,125.5 L220.5,124.9 L221.0,124.1 L221.5,123.3 L222.0,123.5 L222.5,122.7 L223.0,124.7 L223.5,125.0 L224.0,126.3 L224.5,128.8 L225.0,130.4 L225.5,135.5 L226.0,140.0 L226.5,140.9 L227.0,139.3 L227.5,136.8 L228.0,135.6 L228.5,134.1 L229.0,136.5 L229.5,137.6 L230.0,139.9 L230.5,141.4 L231.0,142.2 L231.5,144.2 L232.0,145.3 L232.5,145.4 L233.0,146.8 L233.5,146.9 L234.0,146.5 L234.5,147.6 L235.0,148.2 L235.5,147.6 L236.0,147.5 L236.5,145.9 L237.0,144.8 L237.5,143.1 L238.0,140.1 L238.5,138.3 L239.0,135.9 L239.5,133.6 L240.0,130.3 L240.5,128.3 L241.0,126.0 L241.5,124.9 L242.0,124.0 L242.5,122.8 L243.0,123.7 L243.5,124.0 L244.0,124.8 L244.5,124.9 L245.0,126.5 L245.5,126.1 L246.0,127.0 L246.5,127.5 L247.0,126.4 L247.5,126.3 L248.0,126.1 L248.5,125.6 L249.0,125.8 L249.5,126.9 L250.0,127.2 L250.5,127.7 L251.0,129.1 L251.5,129.0 L252.0,129.8 L252.5,130.1 L253.0,130.7 L253.5,131.3 L254.0,131.6 L254.5,131.6 L255.0,131.4 L255.5,132.0 L256.0,131.1 L256.5,131.5 L257.0,130.9 L257.5,130.6 L258.0,130.3 L258.5,129.3 L259.0,129.3 L259.5,127.8 L260.0,127.4 L260.5,127.0 L261.0,126.8 L261.5,126.9 L262.0,127.7 L262.5,127.4 L263.0,130.6 L263.5,133.5 L264.0,137.6 L264.5,140.3 L265.0,143.5 L265.5,147.3 L266.0,149.7 L266.5,154.4 L267.0,158.0 L267.5,160.4 L268.0,162.0 L268.5,163.4 L269.0,165.2 L269.5,165.3 L270.0,167.4 L270.5,167.2 L271.0,167.8 L271.5,168.4 L272.0,168.9 L272.5,168.5 L273.0,168.8 L273.5,169.2 L274.0,170.2 L274.5,170.1 L275.0,169.9 L275.5,169.8 L276.0,170.5 L276.5,170.0 L277.0,170.8 L277.5,171.3 L278.0,171.4 L278.5,171.0 L279.0,171.0 L279.5,171.6 L280.0,171.9 L280.5,171.8 L281.0,171.8 L281.5,171.7 L282.0,172.4 L282.5,172.0 L283.0,172.0 L283.5,172.2 L284.0,172.1 L284.5,172.5 L285.0,172.4 L285.5,172.1 L286.0,171.4 L286.5,172.4 L287.0,172.9 L287.5,172.0 L288.0,171.3 L288.5,172.0 L289.0,172.2 L289.5,171.6 L290.0,171.8 L290.5,172.2 L291.0,171.7 L291.5,172.1 L292.0,172.0 L292.5,172.0 L293.0,171.5 L293.5,171.8 L294.0,171.9 L294.5,171.5 L295.0,171.4 L295.5,171.7 L296.0,171.7 L296.5,171.4 L297.0,171.5 L297.5,171.5 L298.0,171.5 L298.5,171.4 L299.0,171.4 L299.5,171.4 L300.0,171.4 L300.5,171.3 L301.0,171.3 L301.5,171.2 L302.0,171.2 L302.5,171.1 L303.0,171.0 L303.5,170.9 L304.0,170.9 L304.5,170.8 L305.0,170.7 L305.5,170.7 L306.0,170.6 L306.5,170.5 L307.0,170.5 L307.5,170.4 L308.0,170.3 L308.5,170.2 L309.0,170.2 L309.5,170.1 L310.0,170.0 L310.5,170.0 L311.0,170.0 L311.5,169.9 L312.0,169.9 L312.5,169.9 L313.0,169.8 L313.5,169.8 L314.0,169.8 L314.5,169.8 L315.0,169.7 L315.5,169.7 L316.0,169.7 L316.5,169.7 L317.0,169.6 L317.5,169.6 L318.0,169.6 L318.5,169.5 L319.0,169.5 L319.5,169.5 L320.0,169.5 L320.5,169.5 L321.0,169.6 L321.5,169.6 L322.0,169.6 L322.5,169.6 L323.0,169.6 L323.5,169.6 L324.0,169.7 L324.5,169.7 L325.0,169.7 L325.5,169.7 L326.0,169.7 L326.5,169.7 L327.0,169.7 L327.5,169.8 L328.0,169.8 L328.5,169.8 L329.0,169.8 L329.5,169.8 L330.0,169.9 L330.5,169.9 L331.0,169.9 L331.5,169.9 L332.0,169.9 L332.5,170.0 L333.0,170.0 L333.5,170.0 L334.0,170.0 L334.5,170.0 L335.0,170.1 L335.5,170.1 L336.0,170.1 L336.5,170.0 L337.0,169.9 L337.5,169.8 L338.0,169.7 L338.5,169.6 L339.0,169.5 L339.5,169.4 L340.0,169.3 L340.5,169.2 L341.0,168.5 L341.5,167.8 L342.0,167.1 L342.5,166.4 L343.0,165.7 L343.5,164.6 L344.0,163.6 L344.5,162.6 L345.0,161.5 L345.5,160.3 L346.0,159.1 L346.5,157.9 L347.0,156.7 L347.5,155.2 L348.0,153.6 L348.5,152.1 L349.0,151.0 L349.5,150.6 L350.0,152.3 L350.5,151.3 L351.0,148.6 L351.5,148.6 L352.0,150.3 L352.5,152.1 L353.0,155.5 L353.5,158.8 L354.0,162.2 L354.5,164.2 L355.0,166.3 L355.5,168.3 L356.0,168.4 L356.5,168.5 L357.0,168.5 L357.5,168.6 L358.0,168.7 L358.5,168.8 L359.0,168.8 L359.5,168.9 L360.0,169.0 L360.5,168.9 L361.0,168.8 L361.5,168.7 L362.0,168.7 L362.5,168.6 L363.0,168.5 L363.5,168.4 L364.0,168.3 L364.5,168.2 L365.0,168.2 L365.5,168.1 L366.0,168.0 L366.5,167.9 L367.0,167.8 L367.5,167.7 L368.0,167.6 L368.5,167.6 L369.0,167.5 L369.5,167.4 L370.0,167.3 L370.5,167.2 L371.0,167.1 L371.5,167.0 L372.0,166.9 L372.5,166.8 L373.0,166.7 L373.5,166.6 L374.0,166.5 L374.5,166.4 L375.0,166.4 L375.5,166.3 L376.0,166.2 L376.5,166.1 L377.0,166.0 L377.5,165.9 L378.0,165.8 L378.5,165.7 L379.0,165.6 L379.5,165.5 L380.0,165.4 L380.5,165.3 L381.0,165.2 L381.5,165.1 L382.0,165.0 L382.5,164.9 L383.0,164.8 L383.5,164.7 L384.0,164.6 L384.5,164.5 L385.0,164.4 L385.5,164.3 L386.0,164.2 L386.5,164.1 L387.0,164.0 L387.5,163.9 L388.0,163.8 L388.5,163.7 L389.0,163.6 L389.5,163.5 L390.0,163.4 L390.5,163.3 L391.0,163.2 L391.5,163.1 L392.0,163.0 L392.5,162.9 L393.0,162.8 L393.5,162.7 L394.0,162.6 L394.5,162.5 L395.0,162.4 L395.5,162.2 L396.0,162.1 L396.5,162.0 L397.0,161.9 L397.5,161.8 L398.0,161.7 L398.5,161.6 L399.0,161.5 L399.5,161.4 L400.0,161.3 L400.5,161.1 L401.0,161.0 L401.5,160.8 L402.0,160.6 L402.5,160.4 L403.0,160.3 L403.5,160.1 L404.0,159.9 L404.5,159.8 L405.0,159.6 L405.5,159.4 L406.0,159.2 L406.5,159.1 L407.0,158.9 L407.5,158.6 L408.0,158.4 L408.5,158.2 L409.0,157.9 L409.5,157.7 L410.0,157.5 L410.5,157.2 L411.0,157.0 L411.5,156.7 L412.0,156.4 L412.5,156.1 L413.0,155.8 L413.5,155.5 L414.0,155.3 L414.5,155.0 L415.0,154.1 L415.5,153.1 L416.0,152.0 L416.5,151.0 L417.0,150.0 L417.5,148.6 L418.0,147.3 L418.5,145.9 L419.0,144.6 L419.5,143.3 L420.0,142.3 L420.5,141.2 L421.0,140.2 L421.5,139.1 L422.0,138.1 L422.5,137.3 L423.0,136.7 L423.5,136.1 L424.0,135.6 L424.5,135.0 L425.0,134.5 L425.5,133.9 L426.0,133.5 L426.5,133.2 L427.0,132.9 L427.5,132.6 L428.0,132.3 L428.5,132.0 L429.0,131.8 L429.5,131.5 L430.0,131.3 L430.5,131.1 L431.0,131.2 L431.5,131.6 L432.0,132.0 L432.5,132.5 L433.0,132.9 L433.5,133.8 L434.0,134.6 L434.5,135.5 L435.0,136.3 L435.5,137.2 L436.0,138.2 L436.5,139.3 L437.0,140.4 L437.5,141.5 L438.0,142.6 L438.5,143.5 L439.0,144.3 L439.5,145.1 L440.0,145.9 L440.5,146.7 L441.0,147.0 L441.5,147.3 L442.0,147.7 L442.5,148.0 L443.0,148.3 L443.5,148.5 L444.0,148.7 L444.5,148.8 L445.0,148.9 L445.5,148.7 L446.0,148.5 L446.5,148.3 L447.0,148.1 L447.5,147.8 L448.0,147.6 L448.5,147.2 L449.0,146.8 L449.5,146.3 L450.0,145.9 L450.5,145.4 L451.0,145.0 L451.5,144.5 L452.0,143.9 L452.5,143.3 L453.0,142.6 L453.5,142.0 L454.0,141.4 L454.5,140.8 L455.0,140.2 L455.5,139.6 L456.0,139.0 L456.5,138.4 L457.0,137.7 L457.5,136.8 L458.0,136.0 L458.5,135.2 L459.0,134.4 L459.5,133.5 L460.0,132.7 L460.5,131.9 L461.0,131.0 L461.5,130.2 L462.0,129.4 L462.5,128.6 L463.0,127.9 L463.5,127.1 L464.0,126.4 L464.5,125.6 L465.0,124.9 L465.5,124.2 L466.0,123.4 L466.5,122.7 L467.0,121.9 L467.5,121.2 L468.0,120.5 L468.5,119.7 L469.0,119.0 L469.5,118.2 L470.0,117.5 L470.5,116.7 L471.0,116.0 L471.5,115.2 L472.0,114.5 L472.5,113.7 L473.0,113.0 L473.5,112.2 L474.0,111.5 L474.5,110.7 L475.0,110.0 L475.5,109.2 L476.0,108.5 L476.5,107.7 L477.0,107.0 L477.5,106.2 L478.0,105.5 L478.5,104.7 L479.0,104.0 L479.5,103.2 L480.0,102.4 L480.5,101.7 L481.0,101.1 L481.5,100.6 L482.0,100.1 L482.5,99.6 L483.0,99.1 L483.5,98.7 L484.0,98.2 L484.5,97.7 L485.0,97.2 L485.5,96.7 L486.0,96.2 L486.5,95.7 L487.0,95.3 L487.5,94.9 L488.0,94.5 L488.5,94.1 L489.0,93.6 L489.5,93.2 L490.0,92.8 L490.5,92.4 L491.0,92.0 L491.5,91.6 L492.0,91.1 L492.5,90.7 L493.0,90.3 L493.5,89.9 L494.0,89.5 L494.5,89.1 L495.0,88.7 L495.5,88.3 L496.0,87.9 L496.5,87.5 L497.0,87.2 L497.5,86.8 L498.0,86.5 L498.5,86.2 L499.0,85.9 L499.5,85.6 L500.0,85.2 L500.5,84.9 L501.0,84.7 L501.5,84.6 L502.0,84.5 L502.5,84.4 L503.0,84.3 L503.5,84.5 L504.0,84.7 L504.5,84.9 L505.0,85.1 L505.5,85.3 L506.0,85.5 L506.5,86.0 L507.0,86.5 L507.5,86.9 L508.0,87.4 L508.5,87.9 L509.0,88.4 L509.5,88.8 L510.0,89.3 L510.5,90.0 L511.0,90.8 L511.5,91.7 L512.0,92.5 L512.5,93.3 L513.0,94.1 L513.5,94.9 L514.0,95.7 L514.5,96.4 L515.0,97.3 L515.5,98.1 L516.0,99.4 L516.5,100.4 L517.0,101.3 L517.5,101.8 L518.0,103.2 L518.5,104.0 L519.0,103.6 L519.5,105.6 L520.0,105.5 L520.5,106.9 L521.0,108.5 L521.5,110.5 L522.0,112.1 L522.5,111.0 L523.0,112.0 L523.5,114.6 L524.0,115.3 L524.5,115.5 L525.0,118.3 L525.5,119.3 L526.0,119.6 L526.5,121.5 L527.0,122.1 L527.5,124.5 L528.0,125.5 L528.5,127.3 L529.0,129.0 L529.5,129.6 L530.0,132.8 L530.5,134.3 L531.0,135.3 L531.5,136.1 L532.0,135.6 L532.5,140.5 L533.0,140.1 L533.5,140.8 L534.0,142.5 L534.5,146.7 L535.0,145.5 L535.5,149.9 L536.0,151.8 L536.5,150.9 L537.0,153.0 L537.5,153.6 L538.0,154.0 L538.5,156.2 L539.0,163.7 L539.5,161.4 L540.0,161.5 L540.5,164.7 L541.0,164.8 L541.5,163.6 L542.0,162.7 L542.5,165.6 L543.0,165.8 L543.5,164.2 L544.0,164.1 L544.5,166.2 L545.0,165.7 L545.5,167.8 L546.0,165.9 L546.5,169.6 L547.0,166.9 L547.5,172.1 L548.0,169.5 L548.5,164.9 L549.0,166.6 L549.5,168.0 L550.0,166.5 L550.5,166.1 L551.0,165.2 L551.5,168.9 L552.0,170.7 L552.5,169.2 L553.0,165.0 L553.5,168.0 L554.0,172.0 L554.5,168.7 L555.0,170.8 L555.5,171.7 L556.0,169.6 L556.5,168.2 L557.0,168.3 L557.5,169.4 L558.0,169.9 L558.5,168.9 L559.0,168.9 L559.5,167.2 L560.0,166.5 L560.5,172.3 L561.0,171.3 L561.5,168.1 L562.0,168.1 L562.5,170.5 L563.0,167.2 L563.5,167.8 L564.0,170.3 L564.5,173.1 L565.0,167.7 L565.5,170.3 L566.0,169.5 L566.5,168.0 L567.0,166.7 L567.5,169.9 L568.0,168.3 L568.5,168.8 L569.0,171.1 L569.5,168.0 L570.0,170.1 L570.5,170.3 L571.0,168.9 L571.5,170.4 L572.0,168.9 L572.5,170.4 L573.0,170.2 L573.5,169.8 L574.0,169.7 L574.5,171.2 L575.0,169.7 L575.5,170.8 L576.0,171.7 L576.5,171.1 L577.0,170.6 L577.5,166.6 L578.0,169.6 L578.5,169.5 L579.0,169.9 L579.5,170.2 L580.0,172.6 L580.5,169.5" stroke="#2be02b"/>
<path d="M66.5,173.4 L66.8,151.0 L67.0,187.7 L67.2,168.8 L67.5,182.5 L67.8,165.0 L68.0,174.8 L68.2,157.8 L68.5,176.4 L68.8,169.1 L69.0,174.0 L69.2,169.1 L69.5,171.0 L69.8,168.1 L70.0,171.0 L70.2,157.1 L70.5,182.5 L70.8,162.1 L71.0,180.2 L71.2,170.1 L71.5,173.9 L71.8,166.0 L72.0,177.9 L72.2,169.7 L72.5,174.6 L72.8,158.3 L73.0,184.9 L73.2,157.4 L73.5,182.9 L73.8,165.6 L74.0,172.0 L74.2,154.1 L74.5,164.8 L74.8,159.5 L75.0,163.4 L75.2,157.0 L75.5,162.3 L75.8,153.2 L76.0,157.3 L76.2,153.3 L76.5,154.1 L76.8,148.3 L77.0,152.8 L77.2,146.2 L77.5,151.1 L77.8,145.8 L78.0,147.8 L78.2,144.1 L78.5,146.5 L78.8,144.6 L79.0,145.8 L79.2,144.7 L79.5,144.7 L79.8,143.6 L80.0,142.4 L80.5,143.8 L81.0,142.8 L81.5,141.0 L82.0,139.7 L82.5,138.3 L83.0,140.8 L83.5,139.3 L84.0,137.3 L84.5,137.0 L85.0,135.3 L85.5,135.9 L86.0,131.9 L86.5,132.3 L87.0,131.7 L87.5,132.6 L88.0,131.2 L88.5,131.1 L89.0,131.9 L89.5,130.8 L90.0,129.7 L90.5,129.0 L91.0,130.3 L91.5,128.1 L92.0,127.5 L92.5,128.4 L93.0,125.5 L93.5,126.0 L94.0,125.5 L94.5,125.2 L95.0,122.9 L95.5,124.6 L96.0,122.4 L96.5,121.5 L97.0,121.7 L97.5,118.9 L98.0,119.0 L98.5,118.8 L99.0,118.4 L99.5,117.9 L100.0,117.4 L100.5,118.0 L101.0,117.3 L101.5,117.4 L102.0,116.6 L102.5,120.7 L103.0,119.4 L103.5,120.6 L104.0,120.8 L104.5,122.4 L105.0,123.0 L105.5,123.2 L106.0,124.1 L106.5,124.5 L107.0,124.4 L107.5,123.9 L108.0,122.9 L108.5,121.6 L109.0,121.5 L109.5,125.0 L110.0,126.8 L110.5,129.5 L111.0,132.2 L111.5,133.1 L112.0,134.5 L112.5,135.6 L113.0,136.2 L113.5,136.1 L114.0,137.4 L114.5,138.2 L115.0,138.6 L115.5,139.9 L116.0,140.6 L116.5,140.9 L117.0,142.8 L117.5,142.9 L118.0,144.0 L118.5,144.3 L119.0,145.7 L119.5,145.8 L120.0,146.6 L120.5,147.4 L121.0,148.5 L121.5,148.7 L122.0,149.8 L122.5,149.6 L123.0,150.2 L123.5,151.4 L124.0,151.2 L124.5,151.9 L125.0,152.2 L125.5,152.8 L126.0,153.1 L126.5,153.8 L127.0,153.9 L127.5,154.4 L128.0,154.6 L128.5,154.1 L129.0,154.0 L129.5,153.7 L130.0,153.4 L130.5,151.9 L131.0,151.0 L131.5,150.2 L132.0,149.0 L132.5,149.4 L133.0,150.8 L133.5,151.9 L134.0,152.6 L134.5,152.8 L135.0,153.1 L135.5,152.3 L136.0,151.8 L136.5,151.3 L137.0,150.5 L137.5,150.1 L138.0,149.3 L138.5,148.4 L139.0,148.4 L139.5,147.8 L140.0,147.0 L140.5,144.7 L141.0,142.1 L141.5,141.1 L142.0,138.7 L142.5,136.6 L143.0,137.7 L143.5,139.4 L144.0,141.5 L144.5,142.4 L145.0,141.6 L145.5,140.7 L146.0,140.0 L146.5,139.3 L147.0,137.8 L147.5,135.5 L148.0,133.1 L148.5,130.4 L149.0,128.0 L149.5,125.4 L150.0,122.0 L150.5,118.8 L151.0,115.0 L151.5,110.2 L152.0,105.4 L152.5,100.7 L153.0,95.7 L153.5,90.7 L154.0,85.4 L154.5,80.6 L155.0,77.0 L155.5,74.4 L156.0,71.7 L156.5,68.9 L157.0,66.7 L157.5,64.5 L158.0,61.1 L158.5,58.1 L159.0,55.2 L159.5,52.5 L160.0,50.4 L160.5,48.1 L161.0,45.7 L161.5,43.4 L162.0,42.7 L162.5,42.5 L163.0,42.0 L163.5,41.5 L164.0,41.1 L164.5,42.5 L165.0,43.1 L165.5,44.0 L166.0,45.4 L166.5,47.3 L167.0,49.3 L167.5,51.4 L168.0,53.0 L168.5,54.0 L169.0,54.8 L169.5,56.4 L170.0,57.5 L170.5,57.5 L171.0,57.3 L171.5,57.1 L172.0,57.3 L172.5,58.1 L173.0,59.6 L173.5,60.7 L174.0,62.1 L174.5,62.9 L175.0,65.4 L175.5,67.3 L176.0,69.4 L176.5,71.8 L177.0,73.7 L177.5,76.3 L178.0,77.0 L178.5,75.4 L179.0,74.1 L179.5,72.8 L180.0,75.7 L180.5,78.4 L181.0,82.1 L181.5,86.5 L182.0,90.7 L182.5,95.0 L183.0,98.5 L183.5,101.0 L184.0,103.8 L184.5,104.6 L185.0,103.7 L185.5,102.8 L186.0,102.3 L186.5,99.8 L187.0,97.2 L187.5,94.8 L188.0,92.2 L188.5,90.5 L189.0,89.0 L189.5,87.9 L190.0,86.3 L190.5,84.9 L191.0,84.5 L191.5,83.8 L192.0,83.5 L192.5,83.3 L193.0,83.9 L193.5,84.8 L194.0,85.1 L194.5,86.7 L195.0,88.8 L195.5,90.7 L196.0,92.6 L196.5,94.5 L197.0,96.3 L197.5,98.1 L198.0,99.6 L198.5,101.4 L199.0,100.7 L199.5,99.6 L200.0,99.1 L200.5,98.2 L201.0,97.2 L201.5,96.0 L202.0,96.1 L202.5,96.5 L203.0,97.1 L203.5,97.7 L204.0,99.0 L204.5,99.6 L205.0,99.5 L205.5,99.5 L206.0,99.6 L206.5,98.8 L207.0,97.7 L207.5,96.4 L208.0,95.5 L208.5,94.3 L209.0,93.1 L209.5,92.2 L210.0,91.8 L210.5,92.7 L211.0,94.0 L211.5,95.0 L212.0,97.1 L212.5,99.5 L213.0,101.7 L213.5,103.6 L214.0,103.3 L214.5,102.1 L215.0,101.0 L215.5,100.2 L216.0,99.2 L216.5,98.2 L217.0,96.9 L217.5,98.2 L218.0,99.8 L218.5,100.9 L219.0,102.4 L219.5,101.3 L220.0,100.4 L220.5,99.8 L221.0,98.5 L221.5,98.5 L222.0,97.3 L222.5,96.9 L223.0,98.5 L223.5,99.5 L224.0,102.0 L224.5,104.4 L225.0,107.3 L225.5,109.7 L226.0,115.1 L226.5,120.5 L227.0,116.4 L227.5,112.9 L228.0,106.8 L228.5,103.6 L229.0,105.2 L229.5,106.9 L230.0,110.3 L230.5,115.5 L231.0,120.0 L231.5,124.3 L232.0,129.3 L232.5,132.2 L233.0,135.4 L233.5,137.0 L234.0,137.8 L234.5,138.9 L235.0,139.7 L235.5,139.0 L236.0,138.3 L236.5,136.6 L237.0,136.2 L237.5,133.3 L238.0,130.7 L238.5,127.1 L239.0,122.8 L239.5,118.7 L240.0,114.8 L240.5,111.0 L241.0,107.3 L241.5,104.2 L242.0,102.0 L242.5,100.1 L243.0,100.4 L243.5,101.8 L244.0,102.4 L244.5,105.1 L245.0,106.5 L245.5,107.6 L246.0,108.4 L246.5,108.3 L247.0,107.5 L247.5,107.7 L248.0,106.5 L248.5,106.9 L249.0,106.9 L249.5,108.7 L250.0,110.9 L250.5,112.7 L251.0,113.7 L251.5,115.0 L252.0,116.5 L252.5,117.2 L253.0,118.9 L253.5,119.0 L254.0,120.0 L254.5,120.7 L255.0,121.1 L255.5,121.1 L256.0,120.9 L256.5,120.6 L257.0,119.8 L257.5,119.0 L258.0,118.5 L258.5,117.2 L259.0,115.6 L259.5,114.2 L260.0,112.8 L260.5,111.3 L261.0,110.2 L261.5,109.8 L262.0,109.5 L262.5,110.9 L263.0,111.7 L263.5,114.9 L264.0,118.3 L264.5,121.7 L265.0,128.8 L265.5,134.1 L266.0,139.3 L266.5,144.8 L267.0,147.5 L267.5,150.1 L268.0,152.3 L268.5,153.5 L269.0,154.8 L269.5,155.6 L270.0,156.5 L270.5,156.9 L271.0,156.9 L271.5,157.6 L272.0,158.1 L272.5,158.4 L273.0,159.8 L273.5,159.0 L274.0,160.1 L274.5,159.7 L275.0,159.1 L275.5,160.5 L276.0,160.5 L276.5,160.4 L277.0,160.8 L277.5,160.2 L278.0,160.3 L278.5,161.1 L279.0,161.4 L279.5,161.6 L280.0,160.7 L280.5,161.1 L281.0,160.8 L281.5,160.8 L282.0,160.9 L282.5,160.8 L283.0,160.6 L283.5,160.7 L284.0,160.5 L284.5,160.9 L285.0,161.2 L285.5,160.5 L286.0,161.2 L286.5,161.0 L287.0,160.9 L287.5,160.9 L288.0,161.2 L288.5,160.8 L289.0,160.6 L289.5,161.1 L290.0,161.1 L290.5,159.8 L291.0,160.8 L291.5,160.4 L292.0,159.6 L292.5,160.6 L293.0,160.3 L293.5,160.0 L294.0,159.7 L294.5,159.7 L295.0,159.7 L295.5,159.6 L296.0,159.7 L296.5,159.6 L297.0,159.4 L297.5,159.4 L298.0,159.3 L298.5,159.2 L299.0,159.1 L299.5,159.0 L300.0,158.9 L300.5,158.8 L301.0,158.7 L301.5,158.6 L302.0,158.5 L302.5,158.4 L303.0,158.3 L303.5,158.2 L304.0,158.1 L304.5,158.0 L305.0,157.9 L305.5,157.8 L306.0,157.7 L306.5,157.6 L307.0,157.6 L307.5,157.5 L308.0,157.5 L308.5,157.4 L309.0,157.4 L309.5,157.3 L310.0,157.3 L310.5,157.2 L311.0,157.2 L311.5,157.1 L312.0,157.1 L312.5,157.0 L313.0,157.0 L313.5,156.9 L314.0,156.9 L314.5,156.8 L315.0,156.8 L315.5,156.7 L316.0,156.7 L316.5,156.7 L317.0,156.8 L317.5,156.8 L318.0,156.8 L318.5,156.9 L319.0,156.9 L319.5,156.9 L320.0,156.9 L320.5,157.0 L321.0,157.0 L321.5,157.0 L322.0,157.0 L322.5,157.1 L323.0,157.1 L323.5,157.1 L324.0,157.2 L324.5,157.2 L325.0,157.2 L325.5,157.2 L326.0,157.2 L326.5,157.3 L327.0,157.3 L327.5,157.3 L328.0,157.3 L328.5,157.4 L329.0,157.4 L329.5,157.4 L330.0,157.4 L330.5,157.4 L331.0,157.5 L331.5,157.5 L332.0,157.5 L332.5,157.5 L333.0,157.6 L333.5,157.6 L334.0,157.6 L334.5,157.5 L335.0,157.5 L335.5,157.4 L336.0,157.3 L336.5,157.2 L337.0,157.1 L337.5,157.0 L338.0,157.0 L338.5,156.9 L339.0,156.8 L339.5,156.7 L340.0,156.4 L340.5,156.1 L341.0,155.8 L341.5,155.4 L342.0,155.1 L342.5,154.6 L343.0,153.8 L343.5,152.9 L344.0,152.1 L344.5,151.2 L345.0,150.4 L345.5,149.4 L346.0,148.5 L346.5,147.5 L347.0,146.6 L347.5,145.1 L348.0,143.5 L348.5,142.0 L349.0,140.6 L349.5,141.7 L350.0,143.2 L350.5,140.3 L351.0,137.4 L351.5,136.2 L352.0,136.5 L352.5,139.0 L353.0,141.7 L353.5,144.9 L354.0,148.2 L354.5,150.8 L355.0,152.3 L355.5,153.9 L356.0,154.8 L356.5,154.8 L357.0,154.8 L357.5,154.8 L358.0,154.8 L358.5,154.7 L359.0,154.6 L359.5,154.4 L360.0,154.3 L360.5,154.2 L361.0,154.1 L361.5,153.9 L362.0,153.7 L362.5,153.5 L363.0,153.2 L363.5,152.9 L364.0,152.6 L364.5,152.4 L365.0,152.3 L365.5,152.1 L366.0,152.0 L366.5,151.8 L367.0,151.7 L367.5,151.6 L368.0,151.4 L368.5,151.3 L369.0,151.1 L369.5,151.0 L370.0,150.9 L370.5,150.7 L371.0,150.6 L371.5,150.4 L372.0,150.3 L372.5,150.2 L373.0,150.0 L373.5,149.9 L374.0,149.7 L374.5,149.6 L375.0,149.5 L375.5,149.3 L376.0,149.2 L376.5,149.1 L377.0,148.9 L377.5,148.8 L378.0,148.7 L378.5,148.5 L379.0,148.4 L379.5,148.2 L380.0,148.1 L380.5,148.0 L381.0,147.8 L381.5,147.7 L382.0,147.6 L382.5,147.4 L383.0,147.3 L383.5,147.1 L384.0,147.0 L384.5,146.8 L385.0,146.6 L385.5,146.5 L386.0,146.3 L386.5,146.2 L387.0,146.0 L387.5,145.9 L388.0,145.7 L388.5,145.5 L389.0,145.4 L389.5,145.2 L390.0,145.1 L390.5,144.9 L391.0,144.8 L391.5,144.6 L392.0,144.4 L392.5,144.2 L393.0,144.1 L393.5,143.9 L394.0,143.7 L394.5,143.5 L395.0,143.4 L395.5,143.2 L396.0,143.0 L396.5,142.8 L397.0,142.6 L397.5,142.5 L398.0,142.3 L398.5,142.1 L399.0,141.9 L399.5,141.7 L400.0,141.6 L400.5,141.4 L401.0,141.2 L401.5,141.0 L402.0,140.8 L402.5,140.6 L403.0,140.4 L403.5,140.2 L404.0,140.0 L404.5,139.9 L405.0,139.7 L405.5,139.5 L406.0,139.3 L406.5,139.1 L407.0,138.9 L407.5,138.7 L408.0,138.5 L408.5,138.3 L409.0,138.0 L409.5,137.7 L410.0,137.4 L410.5,137.1 L411.0,136.8 L411.5,136.5 L412.0,136.1 L412.5,135.8 L413.0,135.4 L413.5,134.6 L414.0,133.7 L414.5,132.8 L415.0,132.0 L415.5,131.1 L416.0,130.2 L416.5,129.4 L417.0,128.3 L417.5,127.1 L418.0,126.0 L418.5,124.8 L419.0,123.6 L419.5,122.4 L420.0,121.2 L420.5,119.8 L421.0,118.4 L421.5,117.0 L422.0,115.6 L422.5,114.2 L423.0,112.9 L423.5,112.1 L424.0,111.3 L424.5,110.5 L425.0,109.6 L425.5,108.8 L426.0,108.2 L426.5,107.8 L427.0,107.4 L427.5,107.0 L428.0,106.5 L428.5,106.1 L429.0,106.0 L429.5,106.0 L430.0,105.9 L430.5,105.8 L431.0,105.9 L431.5,106.3 L432.0,106.7 L432.5,107.1 L433.0,107.5 L433.5,108.4 L434.0,109.4 L434.5,110.5 L435.0,111.5 L435.5,112.5 L436.0,113.6 L436.5,114.7 L437.0,115.9 L437.5,117.0 L438.0,118.2 L438.5,119.4 L439.0,120.3 L439.5,121.2 L440.0,122.0 L440.5,122.9 L441.0,123.8 L441.5,124.5 L442.0,125.1 L442.5,125.6 L443.0,126.2 L443.5,126.7 L444.0,127.0 L444.5,127.2 L445.0,127.3 L445.5,127.5 L446.0,127.3 L446.5,127.0 L447.0,126.7 L447.5,126.5 L448.0,126.2 L448.5,125.8 L449.0,125.3 L449.5,124.9 L450.0,124.4 L450.5,124.0 L451.0,123.5 L451.5,122.8 L452.0,121.9 L452.5,121.0 L453.0,120.2 L453.5,119.3 L454.0,118.4 L454.5,117.5 L455.0,116.6 L455.5,115.7 L456.0,114.7 L456.5,113.8 L457.0,112.8 L457.5,111.8 L458.0,110.9 L458.5,109.9 L459.0,108.9 L459.5,107.9 L460.0,107.0 L460.5,106.0 L461.0,105.1 L461.5,104.2 L462.0,103.2 L462.5,102.3 L463.0,101.4 L463.5,100.5 L464.0,99.6 L464.5,98.7 L465.0,97.7 L465.5,96.8 L466.0,95.9 L466.5,94.8 L467.0,93.7 L467.5,92.6 L468.0,91.5 L468.5,90.4 L469.0,89.4 L469.5,88.3 L470.0,87.2 L470.5,86.1 L471.0,85.0 L471.5,83.9 L472.0,82.8 L472.5,81.8 L473.0,80.7 L473.5,79.7 L474.0,78.6 L474.5,77.5 L475.0,76.5 L475.5,75.4 L476.0,74.3 L476.5,73.3 L477.0,72.2 L477.5,71.3 L478.0,70.3 L478.5,69.4 L479.0,68.5 L479.5,67.6 L480.0,66.6 L480.5,65.7 L481.0,64.8 L481.5,63.9 L482.0,63.1 L482.5,62.4 L483.0,61.7 L483.5,61.0 L484.0,60.3 L484.5,59.6 L485.0,58.9 L485.5,58.2 L486.0,57.5 L486.5,56.8 L487.0,56.1 L487.5,55.4 L488.0,54.7 L488.5,54.0 L489.0,53.3 L489.5,52.6 L490.0,51.9 L490.5,51.2 L491.0,50.5 L491.5,49.8 L492.0,49.1 L492.5,48.4 L493.0,47.8 L493.5,47.4 L494.0,47.0 L494.5,46.5 L495.0,46.1 L495.5,45.7 L496.0,45.2 L496.5,44.8 L497.0,44.4 L497.5,44.1 L498.0,43.9 L498.5,43.7 L499.0,43.4 L499.5,43.2 L500.0,43.0 L500.5,42.9 L501.0,42.8 L501.5,42.7 L502.0,42.7 L502.5,42.6 L503.0,42.9 L503.5,43.1 L504.0,43.3 L504.5,43.5 L505.0,43.8 L505.5,44.0 L506.0,44.4 L506.5,45.0 L507.0,45.6 L507.5,46.2 L508.0,46.8 L508.5,47.3 L509.0,47.9 L509.5,48.5 L510.0,49.2 L510.5,50.2 L511.0,51.3 L511.5,52.3 L512.0,53.3 L512.5,54.3 L513.0,55.4 L513.5,56.4 L514.0,57.7 L514.5,58.9 L515.0,60.2 L515.5,61.5 L516.0,63.1 L516.5,64.3 L517.0,65.7 L517.5,67.0 L518.0,68.3 L518.5,69.9 L519.0,71.7 L519.5,73.1 L520.0,74.6 L520.5,76.0 L521.0,76.9 L521.5,78.8 L522.0,81.2 L522.5,82.5 L523.0,83.7 L523.5,85.6 L524.0,86.7 L524.5,88.3 L525.0,89.3 L525.5,91.1 L526.0,93.5 L526.5,95.1 L527.0,97.5 L527.5,99.9 L528.0,102.3 L528.5,102.2 L529.0,105.5 L529.5,108.5 L530.0,110.7 L530.5,111.6 L531.0,115.3 L531.5,114.4 L532.0,117.9 L532.5,118.2 L533.0,122.1 L533.5,121.9 L534.0,123.6 L534.5,125.2 L535.0,127.5 L535.5,132.0 L536.0,133.1 L536.5,135.9 L537.0,136.2 L537.5,139.4 L538.0,140.8 L538.5,142.3 L539.0,144.4 L539.5,144.1 L540.0,144.7 L540.5,147.4 L541.0,146.8 L541.5,146.9 L542.0,147.9 L542.5,148.4 L543.0,149.6 L543.5,151.3 L544.0,150.7 L544.5,152.0 L545.0,151.9 L545.5,152.9 L546.0,152.4 L546.5,151.5 L547.0,151.6 L547.5,152.7 L548.0,152.3 L548.5,150.0 L549.0,152.8 L549.5,151.9 L550.0,153.5 L550.5,153.3 L551.0,154.7 L551.5,153.8 L552.0,153.7 L552.5,152.9 L553.0,153.9 L553.5,154.5 L554.0,154.1 L554.5,155.9 L555.0,154.2 L555.5,154.1 L556.0,155.6 L556.5,155.0 L557.0,154.3 L557.5,155.2 L558.0,155.0 L558.5,154.7 L559.0,153.9 L559.5,154.4 L560.0,153.8 L560.5,153.3 L561.0,153.7 L561.5,154.5 L562.0,154.4 L562.5,153.1 L563.0,155.4 L563.5,154.3 L564.0,155.1 L564.5,155.6 L565.0,156.8 L565.5,155.7 L566.0,157.2 L566.5,155.7 L567.0,155.1 L567.5,155.1 L568.0,154.9 L568.5,155.0 L569.0,154.8 L569.5,154.9 L570.0,155.4 L570.5,156.0 L571.0,153.9 L571.5,155.0 L572.0,155.4 L572.5,154.9 L573.0,154.8 L573.5,155.2 L574.0,154.2 L574.5,154.9 L575.0,155.3 L575.5,155.2 L576.0,155.1 L576.5,153.2 L577.0,153.8 L577.5,154.3 L578.0,154.3 L578.5,154.1 L579.0,154.0 L579.5,153.7 L580.0,154.1 L580.5,154.5" stroke="#0c0cd8"/>
</g>
<path d="M70.4,106 V150" stroke="#8fe08f" stroke-width="0.7" stroke-opacity="0.8" fill="none"/>
<path d="M67.5,186 V215 M70.5,186 V236 M71.5,186 V213" stroke="#3030d0" stroke-width="0.6" stroke-opacity="0.75" fill="none"/>
<g stroke="#000" stroke-width="2.2" fill="none" stroke-linecap="butt">
<path d="M65.5,1.2 V241.79999999999998"/>
<path d="M59.6,240.7 H582.2"/>
<path d="M53.9,223.7 H65.5"/>
<path d="M53.9,189.5 H65.5"/>
<path d="M53.9,155.3 H65.5"/>
<path d="M53.9,121.2 H65.5"/>
<path d="M53.9,87.0 H65.5"/>
<path d="M53.9,52.8 H65.5"/>
<path d="M53.9,18.6 H65.5"/>
<path d="M59.6,206.6 H65.5"/>
<path d="M59.6,172.4 H65.5"/>
<path d="M59.6,138.2 H65.5"/>
<path d="M59.6,104.1 H65.5"/>
<path d="M59.6,69.9 H65.5"/>
<path d="M59.6,35.7 H65.5"/>
<path d="M59.6,2.3 H65.5"/>
<path d="M80.5,240.7 V254.3"/>
<path d="M152.0,240.7 V254.3"/>
<path d="M223.5,240.7 V254.3"/>
<path d="M295.0,240.7 V254.3"/>
<path d="M366.6,240.7 V254.3"/>
<path d="M438.1,240.7 V254.3"/>
<path d="M509.6,240.7 V254.3"/>
<path d="M581.1,240.7 V254.3"/>
<path d="M116.3,240.7 V248.4"/>
<path d="M187.8,240.7 V248.4"/>
<path d="M259.3,240.7 V248.4"/>
<path d="M330.8,240.7 V248.4"/>
<path d="M402.3,240.7 V248.4"/>
<path d="M473.8,240.7 V248.4"/>
<path d="M545.3,240.7 V248.4"/>
</g>
<g font-family="'Liberation Serif', 'Times New Roman', serif" fill="#000">
<g font-size="16.6px" text-anchor="end">
<text x="47.6" y="229.7">0.6</text>
<text x="47.6" y="195.5">0.7</text>
<text x="47.6" y="161.3">0.8</text>
<text x="47.6" y="127.2">0.9</text>
<text x="47.6" y="93.0">1.0</text>
<text x="47.6" y="58.8">1.1</text>
<text x="47.6" y="24.6">1.2</text>
</g>
<g font-size="16.6px" text-anchor="middle">
<text x="80.5" y="270.9">500</text>
<text x="152.0" y="270.9">1000</text>
<text x="223.5" y="270.9">1500</text>
<text x="295.0" y="270.9">2000</text>
<text x="366.6" y="270.9">2500</text>
<text x="438.1" y="270.9">3000</text>
<text x="509.6" y="270.9">3500</text>
<text x="581.1" y="270.9">4000</text>
</g>
<text font-size="18.4px" y="296.4"><tspan x="241.5">Wavenumbers </tspan><tspan x="355">(cm</tspan><tspan font-size="12px" dy="-5.5">-1</tspan><tspan dy="5.5">)</tspan></text>
<text font-size="18.2px" text-anchor="middle" transform="translate(16.6,125) rotate(-90)">Absorbance</text>
<rect x="328.2" y="8.8" width="94.3" height="78.2" fill="#fff" stroke="#000" stroke-width="1.2"/>
<path d="M335,19 H381" stroke="#cf2c1a" stroke-width="2.3" fill="none"/>
<text font-size="17px" x="384.8" y="24.9">MY</text>
<path d="M335,48.2 H381" stroke="#30e030" stroke-width="2.3" fill="none"/>
<text font-size="17px" x="384.8" y="54.1">BT</text>
<path d="M335,77.4 H381" stroke="#1414e0" stroke-width="2.3" fill="none"/>
<text font-size="17px" x="384.8" y="83.3">DSH</text>
</g>
</svg>
</body></html>
